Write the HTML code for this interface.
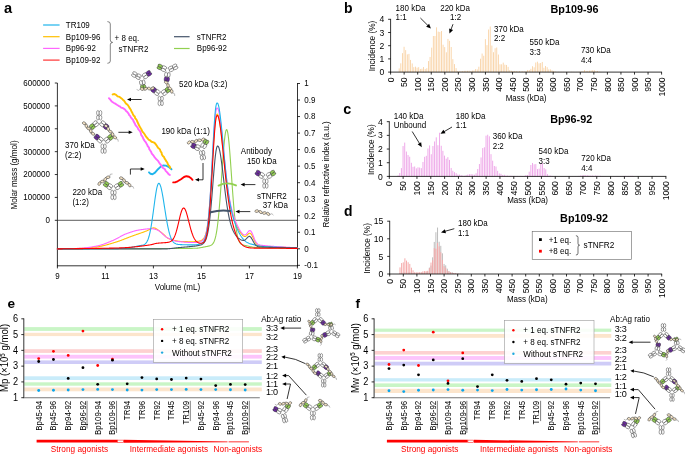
<!DOCTYPE html><html><head><meta charset="utf-8"><style>html,body{margin:0;padding:0;background:#fff;width:685px;height:455px;overflow:hidden;position:relative}</style></head><body><svg width="685" height="455" viewBox="0 0 685 455" style="will-change:transform;position:absolute;left:0;top:0;font-family:'Liberation Sans',sans-serif">
<rect width="685" height="455" fill="#fff"/>
<text x="4" y="12.5" font-size="14.6" font-weight="bold">a</text>
<line x1="43.1" y1="25" x2="59.6" y2="25" stroke="#1FB5EC" stroke-width="1.2"/>
<text font-size="8.7" transform="translate(65.8 27.9) scale(0.92 1)">TR109</text>
<line x1="43.1" y1="36.7" x2="59.6" y2="36.7" stroke="#FFC000" stroke-width="1.2"/>
<text font-size="8.7" transform="translate(65.8 39.6) scale(0.92 1)">Bp109-96</text>
<line x1="43.1" y1="48.4" x2="59.6" y2="48.4" stroke="#FF66FF" stroke-width="1.2"/>
<text font-size="8.7" transform="translate(65.8 51.3) scale(0.92 1)">Bp96-92</text>
<line x1="43.1" y1="60.1" x2="59.6" y2="60.1" stroke="#FF3333" stroke-width="1.2"/>
<text font-size="8.7" transform="translate(65.8 63) scale(0.92 1)">Bp109-92</text>
<path d="M107.4,21.6 Q110.3,21.6 110.3,24 L110.3,40 Q110.3,42.4 112.6,42.4 Q110.3,42.4 110.3,44.8 L110.3,61 Q110.3,63.3 107.4,63.3" fill="none" stroke="#333" stroke-width="0.6"/>
<text font-size="8.7" transform="translate(114.6 40.8) scale(0.92 1)">+ 8 eq.</text>
<text font-size="8.7" transform="translate(118.6 52) scale(0.92 1)">sTNFR2</text>
<line x1="174" y1="36.7" x2="189.6" y2="36.7" stroke="#44546A" stroke-width="1.2"/>
<line x1="174" y1="48.5" x2="189.6" y2="48.5" stroke="#92D050" stroke-width="1.2"/>
<text font-size="8.7" transform="translate(196.8 39.6) scale(0.92 1)">sTNFR2</text>
<text font-size="8.7" transform="translate(196.8 51.4) scale(0.92 1)">Bp96-92</text>
<line x1="57.4" y1="83" x2="57.4" y2="266.2" stroke="#000" stroke-width="0.8"/>
<line x1="297.5" y1="83" x2="297.5" y2="266.2" stroke="#000" stroke-width="0.8"/>
<line x1="57" y1="265.8" x2="297.9" y2="265.8" stroke="#000" stroke-width="0.8"/>
<line x1="54.8" y1="220.3" x2="57.4" y2="220.3" stroke="#000" stroke-width="0.8"/>
<text font-size="8.7" transform="translate(49.9 223.2) scale(0.92 1)" text-anchor="end">0</text>
<line x1="54.8" y1="197.42" x2="57.4" y2="197.42" stroke="#000" stroke-width="0.8"/>
<text font-size="8.7" transform="translate(49.9 200.32) scale(0.92 1)" text-anchor="end">100000</text>
<line x1="54.8" y1="174.54" x2="57.4" y2="174.54" stroke="#000" stroke-width="0.8"/>
<text font-size="8.7" transform="translate(49.9 177.44) scale(0.92 1)" text-anchor="end">200000</text>
<line x1="54.8" y1="151.66" x2="57.4" y2="151.66" stroke="#000" stroke-width="0.8"/>
<text font-size="8.7" transform="translate(49.9 154.56) scale(0.92 1)" text-anchor="end">300000</text>
<line x1="54.8" y1="128.78" x2="57.4" y2="128.78" stroke="#000" stroke-width="0.8"/>
<text font-size="8.7" transform="translate(49.9 131.68) scale(0.92 1)" text-anchor="end">400000</text>
<line x1="54.8" y1="105.9" x2="57.4" y2="105.9" stroke="#000" stroke-width="0.8"/>
<text font-size="8.7" transform="translate(49.9 108.8) scale(0.92 1)" text-anchor="end">500000</text>
<line x1="54.8" y1="83.02" x2="57.4" y2="83.02" stroke="#000" stroke-width="0.8"/>
<text font-size="8.7" transform="translate(49.9 85.92) scale(0.92 1)" text-anchor="end">600000</text>
<line x1="57.4" y1="220.3" x2="297.5" y2="220.3" stroke="#333" stroke-width="0.8"/>
<line x1="297.5" y1="265.33" x2="300" y2="265.33" stroke="#000" stroke-width="0.8"/>
<text font-size="8.7" transform="translate(304.3 268.23) scale(0.92 1)">-0.1</text>
<line x1="297.5" y1="248.8" x2="300" y2="248.8" stroke="#000" stroke-width="0.8"/>
<text font-size="8.7" transform="translate(304.3 251.7) scale(0.92 1)">0</text>
<line x1="297.5" y1="232.27" x2="300" y2="232.27" stroke="#000" stroke-width="0.8"/>
<text font-size="8.7" transform="translate(304.3 235.17) scale(0.92 1)">0.1</text>
<line x1="297.5" y1="215.74" x2="300" y2="215.74" stroke="#000" stroke-width="0.8"/>
<text font-size="8.7" transform="translate(304.3 218.64) scale(0.92 1)">0.2</text>
<line x1="297.5" y1="199.21" x2="300" y2="199.21" stroke="#000" stroke-width="0.8"/>
<text font-size="8.7" transform="translate(304.3 202.11) scale(0.92 1)">0.3</text>
<line x1="297.5" y1="182.68" x2="300" y2="182.68" stroke="#000" stroke-width="0.8"/>
<text font-size="8.7" transform="translate(304.3 185.58) scale(0.92 1)">0.4</text>
<line x1="297.5" y1="166.15" x2="300" y2="166.15" stroke="#000" stroke-width="0.8"/>
<text font-size="8.7" transform="translate(304.3 169.05) scale(0.92 1)">0.5</text>
<line x1="297.5" y1="149.62" x2="300" y2="149.62" stroke="#000" stroke-width="0.8"/>
<text font-size="8.7" transform="translate(304.3 152.52) scale(0.92 1)">0.6</text>
<line x1="297.5" y1="133.09" x2="300" y2="133.09" stroke="#000" stroke-width="0.8"/>
<text font-size="8.7" transform="translate(304.3 135.99) scale(0.92 1)">0.7</text>
<line x1="297.5" y1="116.56" x2="300" y2="116.56" stroke="#000" stroke-width="0.8"/>
<text font-size="8.7" transform="translate(304.3 119.46) scale(0.92 1)">0.8</text>
<line x1="297.5" y1="100.03" x2="300" y2="100.03" stroke="#000" stroke-width="0.8"/>
<text font-size="8.7" transform="translate(304.3 102.93) scale(0.92 1)">0.9</text>
<line x1="297.5" y1="83.5" x2="300" y2="83.5" stroke="#000" stroke-width="0.8"/>
<text font-size="8.7" transform="translate(304.3 86.4) scale(0.92 1)">1</text>
<line x1="57.4" y1="265.8" x2="57.4" y2="268.4" stroke="#000" stroke-width="0.8"/>
<text font-size="8.7" transform="translate(57.4 278.8) scale(0.92 1)" text-anchor="middle">9</text>
<line x1="105.4" y1="265.8" x2="105.4" y2="268.4" stroke="#000" stroke-width="0.8"/>
<text font-size="8.7" transform="translate(105.4 278.8) scale(0.92 1)" text-anchor="middle">11</text>
<line x1="153.4" y1="265.8" x2="153.4" y2="268.4" stroke="#000" stroke-width="0.8"/>
<text font-size="8.7" transform="translate(153.4 278.8) scale(0.92 1)" text-anchor="middle">13</text>
<line x1="201.4" y1="265.8" x2="201.4" y2="268.4" stroke="#000" stroke-width="0.8"/>
<text font-size="8.7" transform="translate(201.4 278.8) scale(0.92 1)" text-anchor="middle">15</text>
<line x1="249.4" y1="265.8" x2="249.4" y2="268.4" stroke="#000" stroke-width="0.8"/>
<text font-size="8.7" transform="translate(249.4 278.8) scale(0.92 1)" text-anchor="middle">17</text>
<line x1="297.4" y1="265.8" x2="297.4" y2="268.4" stroke="#000" stroke-width="0.8"/>
<text font-size="8.7" transform="translate(297.4 278.8) scale(0.92 1)" text-anchor="middle">19</text>
<text font-size="8.7" transform="translate(177.4 290.1) scale(0.92 1)" text-anchor="middle">Volume (mL)</text>
<text font-size="8.8" transform="translate(16.8 175) rotate(-90) scale(0.92 1)" text-anchor="middle">Molar mass (g/mol)</text>
<text font-size="8.7" transform="translate(329 174.5) rotate(-90) scale(0.92 1)" text-anchor="middle">Relative refractive index (a.u.)</text>
<polyline points="57.4,248.9 57.9,248.9 58.4,248.9 58.9,248.89 59.4,248.89 59.9,248.89 60.4,248.89 60.9,248.89 61.4,248.88 61.9,248.88 62.4,248.88 62.9,248.88 63.4,248.88 63.9,248.87 64.4,248.87 64.9,248.87 65.4,248.87 65.9,248.87 66.4,248.86 66.9,248.86 67.4,248.86 67.9,248.86 68.4,248.86 68.9,248.86 69.4,248.85 69.9,248.85 70.4,248.85 70.9,248.85 71.4,248.85 71.9,248.85 72.4,248.84 72.9,248.84 73.4,248.84 73.9,248.84 74.4,248.84 74.9,248.84 75.4,248.84 75.9,248.83 76.4,248.83 76.9,248.83 77.4,248.83 77.9,248.83 78.4,248.83 78.9,248.83 79.4,248.82 79.9,248.82 80.4,248.82 80.9,248.82 81.4,248.82 81.9,248.82 82.4,248.82 82.9,248.82 83.4,248.81 83.9,248.81 84.4,248.81 84.9,248.81 85.4,248.81 85.9,248.81 86.4,248.81 86.9,248.81 87.4,248.8 87.9,248.8 88.4,248.8 88.9,248.8 89.4,248.8 89.9,248.8 90.4,248.8 90.9,248.8 91.4,248.79 91.9,248.79 92.4,248.79 92.9,248.79 93.4,248.79 93.9,248.79 94.4,248.79 94.9,248.79 95.4,248.79 95.9,248.79 96.4,248.78 96.9,248.78 97.4,248.78 97.9,248.78 98.4,248.78 98.9,248.78 99.4,248.78 99.9,248.78 100.4,248.78 100.9,248.77 101.4,248.77 101.9,248.77 102.4,248.77 102.9,248.77 103.4,248.77 103.9,248.77 104.4,248.77 104.9,248.77 105.4,248.77 105.9,248.76 106.4,248.76 106.9,248.76 107.4,248.76 107.9,248.76 108.4,248.76 108.9,248.76 109.4,248.76 109.9,248.76 110.4,248.75 110.9,248.75 111.4,248.75 111.9,248.75 112.4,248.75 112.9,248.75 113.4,248.75 113.9,248.75 114.4,248.75 114.9,248.74 115.4,248.74 115.9,248.74 116.4,248.74 116.9,248.74 117.4,248.74 117.9,248.74 118.4,248.74 118.9,248.74 119.4,248.73 119.9,248.73 120.4,248.73 120.9,248.73 121.4,248.73 121.9,248.73 122.4,248.73 122.9,248.73 123.4,248.72 123.9,248.72 124.4,248.72 124.9,248.72 125.4,248.72 125.9,248.72 126.4,248.72 126.9,248.72 127.4,248.71 127.9,248.71 128.4,248.71 128.9,248.71 129.4,248.71 129.9,248.71 130.4,248.71 130.9,248.7 131.4,248.7 131.9,248.7 132.4,248.7 132.9,248.7 133.4,248.7 133.9,248.7 134.4,248.69 134.9,248.69 135.4,248.69 135.9,248.69 136.4,248.69 136.9,248.69 137.4,248.68 137.9,248.68 138.4,248.68 138.9,248.68 139.4,248.68 139.9,248.68 140.4,248.67 140.9,248.67 141.4,248.67 141.9,248.67 142.4,248.67 142.9,248.66 143.4,248.66 143.9,248.66 144.4,248.66 144.9,248.66 145.4,248.65 145.9,248.65 146.4,248.65 146.9,248.65 147.4,248.65 147.9,248.64 148.4,248.64 148.9,248.64 149.4,248.64 149.9,248.64 150.4,248.63 150.9,248.63 151.4,248.63 151.9,248.63 152.4,248.62 152.9,248.62 153.4,248.62 153.9,248.62 154.4,248.61 154.9,248.61 155.4,248.61 155.9,248.61 156.4,248.6 156.9,248.6 157.4,248.6 157.9,248.6 158.4,248.59 158.9,248.59 159.4,248.59 159.9,248.59 160.4,248.58 160.9,248.58 161.4,248.58 161.9,248.57 162.4,248.57 162.9,248.57 163.4,248.57 163.9,248.56 164.4,248.56 164.9,248.56 165.4,248.55 165.9,248.55 166.4,248.55 166.9,248.54 167.4,248.54 167.9,248.54 168.4,248.53 168.9,248.53 169.4,248.53 169.9,248.52 170.4,248.52 170.9,248.52 171.4,248.51 171.9,248.51 172.4,248.51 172.9,248.5 173.4,248.5 173.9,248.5 174.4,248.49 174.9,248.49 175.4,248.48 175.9,248.48 176.4,248.48 176.9,248.47 177.4,248.47 177.9,248.46 178.4,248.46 178.9,248.46 179.4,248.45 179.9,248.45 180.4,248.44 180.9,248.44 181.4,248.43 181.9,248.43 182.4,248.43 182.9,248.42 183.4,248.42 183.9,248.41 184.4,248.41 184.9,248.4 185.4,248.4 185.9,248.39 186.4,248.39 186.9,248.38 187.4,248.38 187.9,248.37 188.4,248.37 188.9,248.36 189.4,248.36 189.9,248.35 190.4,248.35 190.9,248.34 191.4,248.34 191.9,248.33 192.4,248.33 192.9,248.32 193.4,248.32 193.9,248.31 194.4,248.31 194.9,248.3 195.4,248.29 195.9,248.27 196.4,248.24 196.9,248.21 197.4,248.16 197.9,248.1 198.4,248.04 198.9,247.97 199.4,247.9 199.9,247.82 200.4,247.74 200.9,247.65 201.4,247.55 201.9,247.46 202.4,247.36 202.9,247.26 203.4,247.16 203.9,247.06 204.4,246.96 204.9,246.86 205.4,246.76 205.9,246.65 206.4,246.55 206.9,246.45 207.4,246.35 207.9,246.24 208.4,246.13 208.9,246.01 209.4,245.88 209.9,245.72 210.4,245.54 210.9,245.32 211.4,245.04 211.9,244.68 212.4,244.23 212.9,243.65 213.4,242.91 213.9,241.97 214.4,240.8 214.9,239.34 215.4,237.56 215.9,235.4 216.4,232.83 216.9,229.8 217.4,226.27 217.9,222.21 218.4,217.61 218.9,212.47 219.4,206.81 219.9,200.66 220.4,194.09 220.9,187.18 221.4,180.05 221.9,172.82 222.4,165.65 222.9,158.7 223.4,152.13 223.9,146.12 224.4,140.84 224.9,136.43 225.4,133.03 225.9,130.75 226.4,129.64 226.9,129.76 227.4,131.1 227.9,133.62 228.4,137.23 228.9,141.84 229.4,147.31 229.9,153.46 230.4,160.14 230.9,167.18 231.4,174.39 231.9,181.62 232.4,188.72 232.9,195.56 233.4,202.04 233.9,208.08 234.4,213.61 234.9,218.61 235.4,223.07 235.9,226.98 236.4,230.36 236.9,233.26 237.4,235.7 237.9,237.73 238.4,239.4 238.9,240.76 239.4,241.84 239.9,242.7 240.4,243.38 240.9,243.9 241.4,244.3 241.9,244.6 242.4,244.82 242.9,244.99 243.4,245.12 243.9,245.23 244.4,245.33 244.9,245.43 245.4,245.53 245.9,245.63 246.4,245.73 246.9,245.84 247.4,245.95 247.9,246.06 248.4,246.18 248.9,246.3 249.4,246.42 249.9,246.54 250.4,246.66 250.9,246.77 251.4,246.88 251.9,246.99 252.4,247.08 252.9,247.17 253.4,247.24 253.9,247.31 254.4,247.36 254.9,247.39 255.4,247.42 255.9,247.44 256.4,247.47 256.9,247.49 257.4,247.51 257.9,247.53 258.4,247.55 258.9,247.57 259.4,247.59 259.9,247.61 260.4,247.63 260.9,247.65 261.4,247.67 261.9,247.68 262.4,247.7 262.9,247.72 263.4,247.73 263.9,247.75 264.4,247.76 264.9,247.78 265.4,247.79 265.9,247.81 266.4,247.82 266.9,247.83 267.4,247.85 267.9,247.86 268.4,247.87 268.9,247.88 269.4,247.9 269.9,247.91 270.4,247.92 270.9,247.93 271.4,247.94 271.9,247.95 272.4,247.96 272.9,247.97 273.4,247.98 273.9,247.99 274.4,248 274.9,248.01 275.4,248.02 275.9,248.03 276.4,248.04 276.9,248.04 277.4,248.05 277.9,248.06 278.4,248.07 278.9,248.08 279.4,248.09 279.9,248.09 280.4,248.1 280.9,248.11 281.4,248.12 281.9,248.13 282.4,248.13 282.9,248.14 283.4,248.15 283.9,248.16 284.4,248.17 284.9,248.17 285.4,248.18 285.9,248.19 286.4,248.2 286.9,248.2 287.4,248.21 287.9,248.22 288.4,248.23 288.9,248.24 289.4,248.25 289.9,248.26 290.4,248.26 290.9,248.27 291.4,248.28 291.9,248.29 292.4,248.3 292.9,248.31 293.4,248.32 293.9,248.33 294.4,248.34 294.9,248.35 295.4,248.36 295.9,248.37 296.4,248.39 296.9,248.4 297.4,248.4" fill="none" stroke="#92D050" stroke-width="1.1" stroke-linejoin="round" stroke-linecap="round"/>
<polyline points="57.4,248.9 57.9,248.89 58.4,248.88 58.9,248.87 59.4,248.86 59.9,248.85 60.4,248.84 60.9,248.83 61.4,248.82 61.9,248.81 62.4,248.8 62.9,248.79 63.4,248.78 63.9,248.78 64.4,248.77 64.9,248.76 65.4,248.75 65.9,248.74 66.4,248.73 66.9,248.72 67.4,248.71 67.9,248.71 68.4,248.7 68.9,248.69 69.4,248.68 69.9,248.67 70.4,248.66 70.9,248.65 71.4,248.64 71.9,248.63 72.4,248.62 72.9,248.61 73.4,248.59 73.9,248.58 74.4,248.57 74.9,248.56 75.4,248.54 75.9,248.53 76.4,248.52 76.9,248.5 77.4,248.49 77.9,248.47 78.4,248.46 78.9,248.44 79.4,248.42 79.9,248.4 80.4,248.38 80.9,248.36 81.4,248.34 81.9,248.32 82.4,248.29 82.9,248.26 83.4,248.23 83.9,248.2 84.4,248.17 84.9,248.13 85.4,248.1 85.9,248.06 86.4,248.02 86.9,247.98 87.4,247.94 87.9,247.89 88.4,247.85 88.9,247.8 89.4,247.75 89.9,247.7 90.4,247.65 90.9,247.6 91.4,247.54 91.9,247.49 92.4,247.43 92.9,247.38 93.4,247.32 93.9,247.26 94.4,247.2 94.9,247.14 95.4,247.07 95.9,247.01 96.4,246.95 96.9,246.88 97.4,246.81 97.9,246.74 98.4,246.67 98.9,246.59 99.4,246.51 99.9,246.42 100.4,246.33 100.9,246.23 101.4,246.13 101.9,246.02 102.4,245.91 102.9,245.8 103.4,245.68 103.9,245.56 104.4,245.44 104.9,245.31 105.4,245.19 105.9,245.05 106.4,244.92 106.9,244.78 107.4,244.65 107.9,244.51 108.4,244.36 108.9,244.22 109.4,244.07 109.9,243.93 110.4,243.78 110.9,243.63 111.4,243.48 111.9,243.33 112.4,243.18 112.9,243.03 113.4,242.88 113.9,242.73 114.4,242.58 114.9,242.43 115.4,242.28 115.9,242.12 116.4,241.97 116.9,241.8 117.4,241.64 117.9,241.47 118.4,241.3 118.9,241.12 119.4,240.94 119.9,240.76 120.4,240.58 120.9,240.4 121.4,240.21 121.9,240.02 122.4,239.83 122.9,239.64 123.4,239.45 123.9,239.25 124.4,239.06 124.9,238.86 125.4,238.67 125.9,238.47 126.4,238.27 126.9,238.08 127.4,237.88 127.9,237.68 128.4,237.49 128.9,237.29 129.4,237.1 129.9,236.91 130.4,236.72 130.9,236.53 131.4,236.34 131.9,236.16 132.4,235.97 132.9,235.79 133.4,235.61 133.9,235.43 134.4,235.26 134.9,235.08 135.4,234.91 135.9,234.73 136.4,234.56 136.9,234.39 137.4,234.21 137.9,234.04 138.4,233.87 138.9,233.7 139.4,233.52 139.9,233.35 140.4,233.18 140.9,233 141.4,232.83 141.9,232.65 142.4,232.47 142.9,232.29 143.4,232.11 143.9,231.93 144.4,231.74 144.9,231.55 145.4,231.36 145.9,231.17 146.4,230.98 146.9,230.78 147.4,230.54 147.9,230.29 148.4,230.02 148.9,229.73 149.4,229.45 149.9,229.17 150.4,228.9 150.9,228.64 151.4,228.42 151.9,228.22 152.4,228.07 152.9,227.96 153.4,227.91 153.9,227.91 154.4,227.99 154.9,228.13 155.4,228.33 155.9,228.57 156.4,228.86 156.9,229.18 157.4,229.53 157.9,229.9 158.4,230.28 158.9,230.66 159.4,231.04 159.9,231.41 160.4,231.77 160.9,232.11 161.4,232.48 161.9,232.89 162.4,233.32 162.9,233.78 163.4,234.25 163.9,234.73 164.4,235.22 164.9,235.7 165.4,236.17 165.9,236.63 166.4,237.07 166.9,237.48 167.4,237.86 167.9,238.2 168.4,238.5 168.9,238.74 169.4,238.93 169.9,239.1 170.4,239.27 170.9,239.43 171.4,239.59 171.9,239.74 172.4,239.89 172.9,240.03 173.4,240.17 173.9,240.3 174.4,240.43 174.9,240.55 175.4,240.66 175.9,240.77 176.4,240.87 176.9,240.97 177.4,241.06 177.9,241.14 178.4,241.21 178.9,241.28 179.4,241.34 179.9,241.39 180.4,241.43 180.9,241.46 181.4,241.49 181.9,241.51 182.4,241.53 182.9,241.55 183.4,241.56 183.9,241.58 184.4,241.59 184.9,241.61 185.4,241.62 185.9,241.64 186.4,241.65 186.9,241.66 187.4,241.67 187.9,241.68 188.4,241.69 188.9,241.7 189.4,241.71 189.9,241.72 190.4,241.72 190.9,241.72 191.4,241.72 191.9,241.72 192.4,241.71 192.9,241.71 193.4,241.7 193.9,241.68 194.4,241.66 194.9,241.64 195.4,241.61 195.9,241.57 196.4,241.52 196.9,241.47 197.4,241.41 197.9,241.34 198.4,241.25 198.9,241.15 199.4,241.03 199.9,240.9 200.4,240.73 200.9,240.54 201.4,240.31 201.9,240.02 202.4,239.68 202.9,239.25 203.4,238.73 203.9,238.07 204.4,237.25 204.9,236.23 205.4,234.95 205.9,233.36 206.4,231.41 206.9,229.02 207.4,226.13 207.9,222.66 208.4,218.58 208.9,213.82 209.4,208.35 209.9,202.19 210.4,195.35 210.9,187.89 211.4,179.93 211.9,171.59 212.4,163.06 212.9,154.55 213.4,146.29 213.9,138.53 214.4,131.52 214.9,125.49 215.4,120.63 215.9,117.13 216.4,115.07 216.9,114.26 217.4,114.16 217.9,114.76 218.4,116.01 218.9,117.9 219.4,120.37 219.9,123.37 220.4,126.83 220.9,130.7 221.4,134.89 221.9,139.35 222.4,143.98 222.9,148.74 223.4,153.56 223.9,158.36 224.4,163.11 224.9,167.76 225.4,172.27 225.9,176.6 226.4,180.73 226.9,184.65 227.4,188.35 227.9,191.82 228.4,195.06 228.9,198.08 229.4,200.89 229.9,203.5 230.4,205.92 230.9,208.16 231.4,210.25 231.9,212.19 232.4,214 232.9,215.69 233.4,217.28 233.9,218.77 234.4,220.18 234.9,221.51 235.4,222.77 235.9,223.97 236.4,225.11 236.9,226.19 237.4,227.23 237.9,228.21 238.4,229.14 238.9,230.03 239.4,230.87 239.9,231.66 240.4,232.41 240.9,233.12 241.4,233.8 241.9,234.42 242.4,234.99 242.9,235.49 243.4,235.9 243.9,236.21 244.4,236.4 244.9,236.46 245.4,236.39 245.9,236.17 246.4,235.83 246.9,235.38 247.4,234.87 247.9,234.34 248.4,233.84 248.9,233.44 249.4,233.2 249.9,233.17 250.4,233.36 250.9,233.79 251.4,234.42 251.9,235.24 252.4,236.2 252.9,237.26 253.4,238.37 253.9,239.48 254.4,240.55 254.9,241.55 255.4,242.45 255.9,243.23 256.4,243.89 256.9,244.44 257.4,244.87 257.9,245.2 258.4,245.46 258.9,245.65 259.4,245.8 259.9,245.92 260.4,246.01 260.9,246.09 261.4,246.15 261.9,246.21 262.4,246.25 262.9,246.3 263.4,246.34 263.9,246.38 264.4,246.42 264.9,246.45 265.4,246.49 265.9,246.52 266.4,246.55 266.9,246.58 267.4,246.61 267.9,246.65 268.4,246.67 268.9,246.7 269.4,246.73 269.9,246.76 270.4,246.79 270.9,246.81 271.4,246.84 271.9,246.86 272.4,246.89 272.9,246.91 273.4,246.93 273.9,246.96 274.4,246.98 274.9,247 275.4,247.02 275.9,247.04 276.4,247.07 276.9,247.09 277.4,247.11 277.9,247.13 278.4,247.15 278.9,247.17 279.4,247.19 279.9,247.21 280.4,247.22 280.9,247.24 281.4,247.26 281.9,247.28 282.4,247.3 282.9,247.32 283.4,247.34 283.9,247.35 284.4,247.37 284.9,247.39 285.4,247.41 285.9,247.43 286.4,247.45 286.9,247.47 287.4,247.48 287.9,247.5 288.4,247.52 288.9,247.54 289.4,247.56 289.9,247.58 290.4,247.6 290.9,247.62 291.4,247.64 291.9,247.66 292.4,247.68 292.9,247.71 293.4,247.73 293.9,247.75 294.4,247.77 294.9,247.8 295.4,247.82 295.9,247.84 296.4,247.87 296.9,247.89 297.4,247.9" fill="none" stroke="#FFC000" stroke-width="1.1" stroke-linejoin="round" stroke-linecap="round"/>
<polyline points="57.4,248.9 57.9,248.89 58.4,248.87 58.9,248.86 59.4,248.85 59.9,248.84 60.4,248.83 60.9,248.82 61.4,248.81 61.9,248.79 62.4,248.78 62.9,248.77 63.4,248.76 63.9,248.75 64.4,248.74 64.9,248.73 65.4,248.72 65.9,248.71 66.4,248.7 66.9,248.69 67.4,248.68 67.9,248.67 68.4,248.66 68.9,248.65 69.4,248.64 69.9,248.63 70.4,248.62 70.9,248.6 71.4,248.59 71.9,248.58 72.4,248.57 72.9,248.55 73.4,248.54 73.9,248.52 74.4,248.51 74.9,248.49 75.4,248.48 75.9,248.46 76.4,248.44 76.9,248.43 77.4,248.41 77.9,248.39 78.4,248.37 78.9,248.35 79.4,248.33 79.9,248.3 80.4,248.28 80.9,248.25 81.4,248.22 81.9,248.19 82.4,248.15 82.9,248.11 83.4,248.07 83.9,248.02 84.4,247.97 84.9,247.92 85.4,247.87 85.9,247.81 86.4,247.75 86.9,247.69 87.4,247.62 87.9,247.56 88.4,247.49 88.9,247.41 89.4,247.34 89.9,247.27 90.4,247.19 90.9,247.11 91.4,247.03 91.9,246.94 92.4,246.86 92.9,246.77 93.4,246.68 93.9,246.59 94.4,246.5 94.9,246.4 95.4,246.31 95.9,246.21 96.4,246.12 96.9,246.02 97.4,245.92 97.9,245.82 98.4,245.71 98.9,245.59 99.4,245.47 99.9,245.33 100.4,245.2 100.9,245.05 101.4,244.9 101.9,244.74 102.4,244.58 102.9,244.41 103.4,244.24 103.9,244.07 104.4,243.88 104.9,243.7 105.4,243.51 105.9,243.32 106.4,243.12 106.9,242.92 107.4,242.72 107.9,242.52 108.4,242.31 108.9,242.11 109.4,241.9 109.9,241.69 110.4,241.48 110.9,241.27 111.4,241.06 111.9,240.85 112.4,240.64 112.9,240.43 113.4,240.22 113.9,240 114.4,239.77 114.9,239.53 115.4,239.28 115.9,239.03 116.4,238.77 116.9,238.51 117.4,238.24 117.9,237.96 118.4,237.69 118.9,237.41 119.4,237.13 119.9,236.86 120.4,236.58 120.9,236.31 121.4,236.04 121.9,235.77 122.4,235.51 122.9,235.25 123.4,235 123.9,234.76 124.4,234.53 124.9,234.3 125.4,234.09 125.9,233.89 126.4,233.7 126.9,233.52 127.4,233.34 127.9,233.16 128.4,232.98 128.9,232.8 129.4,232.62 129.9,232.45 130.4,232.28 130.9,232.11 131.4,231.94 131.9,231.78 132.4,231.62 132.9,231.47 133.4,231.32 133.9,231.17 134.4,231.03 134.9,230.89 135.4,230.76 135.9,230.63 136.4,230.51 136.9,230.4 137.4,230.29 137.9,230.19 138.4,230.1 138.9,230.01 139.4,229.93 139.9,229.86 140.4,229.78 140.9,229.71 141.4,229.64 141.9,229.57 142.4,229.5 142.9,229.43 143.4,229.36 143.9,229.3 144.4,229.23 144.9,229.17 145.4,229.11 145.9,229.06 146.4,229 146.9,228.95 147.4,228.91 147.9,228.87 148.4,228.83 148.9,228.79 149.4,228.77 149.9,228.74 150.4,228.72 150.9,228.71 151.4,228.7 151.9,228.7 152.4,228.72 152.9,228.77 153.4,228.85 153.9,228.95 154.4,229.07 154.9,229.2 155.4,229.35 155.9,229.51 156.4,229.67 156.9,229.83 157.4,230.01 157.9,230.23 158.4,230.5 158.9,230.81 159.4,231.16 159.9,231.54 160.4,231.95 160.9,232.38 161.4,232.83 161.9,233.29 162.4,233.76 162.9,234.23 163.4,234.7 163.9,235.16 164.4,235.62 164.9,236.05 165.4,236.46 165.9,236.85 166.4,237.21 166.9,237.52 167.4,237.8 167.9,238.04 168.4,238.28 168.9,238.51 169.4,238.74 169.9,238.96 170.4,239.18 170.9,239.4 171.4,239.61 171.9,239.81 172.4,240.01 172.9,240.2 173.4,240.38 173.9,240.55 174.4,240.71 174.9,240.86 175.4,240.99 175.9,241.12 176.4,241.23 176.9,241.33 177.4,241.41 177.9,241.48 178.4,241.53 178.9,241.58 179.4,241.64 179.9,241.69 180.4,241.74 180.9,241.78 181.4,241.83 181.9,241.88 182.4,241.92 182.9,241.97 183.4,242.01 183.9,242.05 184.4,242.1 184.9,242.14 185.4,242.18 185.9,242.21 186.4,242.25 186.9,242.28 187.4,242.32 187.9,242.35 188.4,242.38 188.9,242.41 189.4,242.43 189.9,242.46 190.4,242.48 190.9,242.5 191.4,242.52 191.9,242.53 192.4,242.54 192.9,242.55 193.4,242.55 193.9,242.55 194.4,242.54 194.9,242.53 195.4,242.5 195.9,242.48 196.4,242.44 196.9,242.39 197.4,242.34 197.9,242.27 198.4,242.19 198.9,242.09 199.4,241.97 199.9,241.83 200.4,241.66 200.9,241.46 201.4,241.22 201.9,240.93 202.4,240.56 202.9,240.12 203.4,239.56 203.9,238.87 204.4,238.01 204.9,236.92 205.4,235.57 205.9,233.89 206.4,231.83 206.9,229.3 207.4,226.24 207.9,222.59 208.4,218.28 208.9,213.25 209.4,207.49 209.9,200.99 210.4,193.77 210.9,185.91 211.4,177.51 211.9,168.72 212.4,159.73 212.9,150.75 213.4,142.04 213.9,133.86 214.4,126.45 214.9,120.08 215.4,114.94 215.9,111.22 216.4,109.02 216.9,108.13 217.4,108 217.9,108.58 218.4,109.86 218.9,111.81 219.4,114.36 219.9,117.48 220.4,121.08 220.9,125.1 221.4,129.47 221.9,134.11 222.4,138.95 222.9,143.91 223.4,148.93 223.9,153.94 224.4,158.9 224.9,163.74 225.4,168.44 225.9,172.95 226.4,177.26 226.9,181.34 227.4,185.19 227.9,188.8 228.4,192.18 228.9,195.32 229.4,198.24 229.9,200.95 230.4,203.46 230.9,205.79 231.4,207.95 231.9,209.96 232.4,211.84 232.9,213.59 233.4,215.24 233.9,216.78 234.4,218.24 234.9,219.62 235.4,220.93 235.9,222.17 236.4,223.36 236.9,224.48 237.4,225.56 237.9,226.58 238.4,227.55 238.9,228.48 239.4,229.36 239.9,230.19 240.4,230.97 240.9,231.72 241.4,232.42 241.9,233.06 242.4,233.64 242.9,234.14 243.4,234.54 243.9,234.82 244.4,234.97 244.9,234.97 245.4,234.82 245.9,234.5 246.4,234.04 246.9,233.46 247.4,232.8 247.9,232.12 248.4,231.49 248.9,230.98 249.4,230.64 249.9,230.55 250.4,230.73 250.9,231.18 251.4,231.87 251.9,232.77 252.4,233.84 252.9,235.04 253.4,236.29 253.9,237.55 254.4,238.77 254.9,239.91 255.4,240.93 255.9,241.82 256.4,242.58 256.9,243.21 257.4,243.71 257.9,244.1 258.4,244.4 258.9,244.63 259.4,244.82 259.9,244.96 260.4,245.08 260.9,245.18 261.4,245.26 261.9,245.33 262.4,245.4 262.9,245.46 263.4,245.51 263.9,245.57 264.4,245.62 264.9,245.67 265.4,245.72 265.9,245.77 266.4,245.82 266.9,245.86 267.4,245.91 267.9,245.95 268.4,245.99 268.9,246.04 269.4,246.08 269.9,246.12 270.4,246.16 270.9,246.2 271.4,246.23 271.9,246.27 272.4,246.31 272.9,246.35 273.4,246.38 273.9,246.42 274.4,246.45 274.9,246.49 275.4,246.52 275.9,246.55 276.4,246.59 276.9,246.62 277.4,246.65 277.9,246.68 278.4,246.71 278.9,246.74 279.4,246.78 279.9,246.81 280.4,246.84 280.9,246.87 281.4,246.9 281.9,246.93 282.4,246.96 282.9,246.99 283.4,247.02 283.9,247.05 284.4,247.08 284.9,247.11 285.4,247.14 285.9,247.16 286.4,247.19 286.9,247.22 287.4,247.26 287.9,247.29 288.4,247.32 288.9,247.35 289.4,247.38 289.9,247.41 290.4,247.44 290.9,247.47 291.4,247.51 291.9,247.54 292.4,247.57 292.9,247.6 293.4,247.64 293.9,247.67 294.4,247.71 294.9,247.74 295.4,247.78 295.9,247.82 296.4,247.85 296.9,247.89 297.4,247.9" fill="none" stroke="#FF66FF" stroke-width="1.1" stroke-linejoin="round" stroke-linecap="round"/>
<polyline points="57.4,248.9 57.9,248.9 58.4,248.9 58.9,248.89 59.4,248.89 59.9,248.89 60.4,248.89 60.9,248.89 61.4,248.89 61.9,248.89 62.4,248.88 62.9,248.88 63.4,248.88 63.9,248.88 64.4,248.88 64.9,248.88 65.4,248.88 65.9,248.88 66.4,248.87 66.9,248.87 67.4,248.87 67.9,248.87 68.4,248.87 68.9,248.87 69.4,248.87 69.9,248.87 70.4,248.87 70.9,248.86 71.4,248.86 71.9,248.86 72.4,248.86 72.9,248.86 73.4,248.86 73.9,248.86 74.4,248.86 74.9,248.86 75.4,248.86 75.9,248.85 76.4,248.85 76.9,248.85 77.4,248.85 77.9,248.85 78.4,248.85 78.9,248.85 79.4,248.85 79.9,248.85 80.4,248.85 80.9,248.84 81.4,248.84 81.9,248.84 82.4,248.84 82.9,248.84 83.4,248.84 83.9,248.84 84.4,248.84 84.9,248.84 85.4,248.84 85.9,248.83 86.4,248.83 86.9,248.83 87.4,248.83 87.9,248.83 88.4,248.83 88.9,248.83 89.4,248.83 89.9,248.82 90.4,248.82 90.9,248.82 91.4,248.82 91.9,248.82 92.4,248.82 92.9,248.82 93.4,248.81 93.9,248.81 94.4,248.81 94.9,248.81 95.4,248.81 95.9,248.81 96.4,248.8 96.9,248.8 97.4,248.8 97.9,248.8 98.4,248.8 98.9,248.79 99.4,248.79 99.9,248.79 100.4,248.79 100.9,248.79 101.4,248.78 101.9,248.78 102.4,248.78 102.9,248.78 103.4,248.77 103.9,248.77 104.4,248.77 104.9,248.77 105.4,248.76 105.9,248.76 106.4,248.76 106.9,248.76 107.4,248.75 107.9,248.75 108.4,248.75 108.9,248.74 109.4,248.74 109.9,248.74 110.4,248.73 110.9,248.73 111.4,248.73 111.9,248.72 112.4,248.72 112.9,248.72 113.4,248.71 113.9,248.71 114.4,248.7 114.9,248.7 115.4,248.7 115.9,248.69 116.4,248.67 116.9,248.66 117.4,248.64 117.9,248.62 118.4,248.59 118.9,248.56 119.4,248.53 119.9,248.5 120.4,248.46 120.9,248.43 121.4,248.39 121.9,248.34 122.4,248.3 122.9,248.25 123.4,248.21 123.9,248.16 124.4,248.11 124.9,248.06 125.4,248 125.9,247.95 126.4,247.9 126.9,247.84 127.4,247.79 127.9,247.73 128.4,247.68 128.9,247.62 129.4,247.57 129.9,247.51 130.4,247.45 130.9,247.39 131.4,247.31 131.9,247.23 132.4,247.14 132.9,247.05 133.4,246.95 133.9,246.85 134.4,246.75 134.9,246.65 135.4,246.54 135.9,246.43 136.4,246.33 136.9,246.23 137.4,246.12 137.9,246.03 138.4,245.93 138.9,245.84 139.4,245.75 139.9,245.66 140.4,245.58 140.9,245.49 141.4,245.41 141.9,245.32 142.4,245.22 142.9,245.09 143.4,244.93 143.9,244.73 144.4,244.47 144.9,244.14 145.4,243.73 145.9,243.22 146.4,242.58 146.9,241.8 147.4,240.85 147.9,239.72 148.4,238.37 148.9,236.78 149.4,234.94 149.9,232.83 150.4,230.45 150.9,227.79 151.4,224.86 151.9,221.68 152.4,218.28 152.9,214.7 153.4,210.99 153.9,207.22 154.4,203.46 154.9,199.8 155.4,196.3 155.9,193.07 156.4,190.19 156.9,187.73 157.4,185.77 157.9,184.35 158.4,183.53 158.9,183.33 159.4,183.64 159.9,184.4 160.4,185.6 160.9,187.21 161.4,189.2 161.9,191.51 162.4,194.11 162.9,196.95 163.4,199.96 163.9,203.09 164.4,206.3 164.9,209.52 165.4,212.71 165.9,215.83 166.4,218.83 166.9,221.7 167.4,224.4 167.9,226.91 168.4,229.23 168.9,231.34 169.4,233.25 169.9,234.96 170.4,236.47 170.9,237.79 171.4,238.94 171.9,239.94 172.4,240.78 172.9,241.5 173.4,242.1 173.9,242.6 174.4,243.01 174.9,243.35 175.4,243.62 175.9,243.84 176.4,244.02 176.9,244.16 177.4,244.27 177.9,244.36 178.4,244.43 178.9,244.49 179.4,244.54 179.9,244.57 180.4,244.6 180.9,244.63 181.4,244.65 181.9,244.67 182.4,244.69 182.9,244.71 183.4,244.72 183.9,244.74 184.4,244.75 184.9,244.77 185.4,244.78 185.9,244.79 186.4,244.81 186.9,244.82 187.4,244.83 187.9,244.84 188.4,244.86 188.9,244.87 189.4,244.88 189.9,244.88 190.4,244.89 190.9,244.89 191.4,244.9 191.9,244.9 192.4,244.89 192.9,244.89 193.4,244.88 193.9,244.86 194.4,244.84 194.9,244.82 195.4,244.78 195.9,244.74 196.4,244.7 196.9,244.64 197.4,244.57 197.9,244.49 198.4,244.39 198.9,244.28 199.4,244.15 199.9,243.99 200.4,243.81 200.9,243.59 201.4,243.32 201.9,243.01 202.4,242.62 202.9,242.15 203.4,241.56 203.9,240.82 204.4,239.91 204.9,238.77 205.4,237.35 205.9,235.58 206.4,233.41 206.9,230.75 207.4,227.53 207.9,223.68 208.4,219.13 208.9,213.83 209.4,207.76 209.9,200.9 210.4,193.29 210.9,184.99 211.4,176.13 211.9,166.85 212.4,157.36 212.9,147.89 213.4,138.7 213.9,130.07 214.4,122.27 214.9,115.56 215.4,110.17 215.9,106.27 216.4,104 216.9,103.11 217.4,103.01 217.9,103.68 218.4,105.1 218.9,107.21 219.4,109.97 219.9,113.32 220.4,117.2 220.9,121.51 221.4,126.2 221.9,131.17 222.4,136.35 222.9,141.67 223.4,147.04 223.9,152.41 224.4,157.71 224.9,162.9 225.4,167.93 225.9,172.76 226.4,177.38 226.9,181.76 227.4,185.89 227.9,189.77 228.4,193.39 228.9,196.77 229.4,199.9 229.9,202.82 230.4,205.52 230.9,208.03 231.4,210.37 231.9,212.54 232.4,214.56 232.9,216.46 233.4,218.23 233.9,219.9 234.4,221.48 234.9,222.97 235.4,224.38 235.9,225.72 236.4,226.99 236.9,228.21 237.4,229.36 237.9,230.46 238.4,231.51 238.9,232.5 239.4,233.44 239.9,234.34 240.4,235.18 240.9,235.98 241.4,236.73 241.9,237.43 242.4,238.09 242.9,238.71 243.4,239.29 243.9,239.82 244.4,240.32 244.9,240.78 245.4,241.2 245.9,241.59 246.4,241.94 246.9,242.27 247.4,242.57 247.9,242.84 248.4,243.08 248.9,243.31 249.4,243.51 249.9,243.69 250.4,243.86 250.9,244.01 251.4,244.14 251.9,244.26 252.4,244.38 252.9,244.5 253.4,244.61 253.9,244.73 254.4,244.86 254.9,244.98 255.4,245.1 255.9,245.23 256.4,245.35 256.9,245.47 257.4,245.59 257.9,245.7 258.4,245.81 258.9,245.92 259.4,246.02 259.9,246.11 260.4,246.19 260.9,246.26 261.4,246.32 261.9,246.37 262.4,246.41 262.9,246.45 263.4,246.49 263.9,246.53 264.4,246.56 264.9,246.6 265.4,246.63 265.9,246.66 266.4,246.69 266.9,246.72 267.4,246.75 267.9,246.78 268.4,246.81 268.9,246.83 269.4,246.86 269.9,246.89 270.4,246.91 270.9,246.94 271.4,246.96 271.9,246.98 272.4,247.01 272.9,247.03 273.4,247.05 273.9,247.07 274.4,247.09 274.9,247.11 275.4,247.13 275.9,247.15 276.4,247.17 276.9,247.19 277.4,247.21 277.9,247.23 278.4,247.25 278.9,247.27 279.4,247.28 279.9,247.3 280.4,247.32 280.9,247.34 281.4,247.35 281.9,247.37 282.4,247.39 282.9,247.4 283.4,247.42 283.9,247.44 284.4,247.45 284.9,247.47 285.4,247.48 285.9,247.5 286.4,247.52 286.9,247.53 287.4,247.55 287.9,247.57 288.4,247.58 288.9,247.6 289.4,247.61 289.9,247.63 290.4,247.65 290.9,247.67 291.4,247.68 291.9,247.7 292.4,247.72 292.9,247.74 293.4,247.76 293.9,247.78 294.4,247.79 294.9,247.81 295.4,247.83 295.9,247.85 296.4,247.87 296.9,247.9 297.4,247.9" fill="none" stroke="#1FB5EC" stroke-width="1.1" stroke-linejoin="round" stroke-linecap="round"/>
<polyline points="57.4,248.9 57.9,248.9 58.4,248.9 58.9,248.9 59.4,248.9 59.9,248.9 60.4,248.9 60.9,248.9 61.4,248.9 61.9,248.9 62.4,248.9 62.9,248.9 63.4,248.9 63.9,248.9 64.4,248.9 64.9,248.9 65.4,248.9 65.9,248.9 66.4,248.9 66.9,248.9 67.4,248.9 67.9,248.9 68.4,248.9 68.9,248.9 69.4,248.9 69.9,248.9 70.4,248.9 70.9,248.9 71.4,248.9 71.9,248.9 72.4,248.9 72.9,248.9 73.4,248.9 73.9,248.9 74.4,248.9 74.9,248.9 75.4,248.9 75.9,248.9 76.4,248.9 76.9,248.9 77.4,248.9 77.9,248.9 78.4,248.9 78.9,248.9 79.4,248.9 79.9,248.9 80.4,248.9 80.9,248.9 81.4,248.9 81.9,248.9 82.4,248.9 82.9,248.9 83.4,248.9 83.9,248.9 84.4,248.9 84.9,248.9 85.4,248.9 85.9,248.9 86.4,248.9 86.9,248.9 87.4,248.9 87.9,248.9 88.4,248.9 88.9,248.9 89.4,248.9 89.9,248.9 90.4,248.9 90.9,248.9 91.4,248.9 91.9,248.9 92.4,248.9 92.9,248.9 93.4,248.9 93.9,248.9 94.4,248.9 94.9,248.9 95.4,248.9 95.9,248.9 96.4,248.9 96.9,248.9 97.4,248.9 97.9,248.9 98.4,248.9 98.9,248.9 99.4,248.9 99.9,248.9 100.4,248.9 100.9,248.9 101.4,248.9 101.9,248.9 102.4,248.9 102.9,248.9 103.4,248.9 103.9,248.9 104.4,248.9 104.9,248.9 105.4,248.9 105.9,248.9 106.4,248.9 106.9,248.9 107.4,248.9 107.9,248.9 108.4,248.9 108.9,248.9 109.4,248.9 109.9,248.9 110.4,248.9 110.9,248.9 111.4,248.9 111.9,248.9 112.4,248.9 112.9,248.9 113.4,248.9 113.9,248.9 114.4,248.9 114.9,248.9 115.4,248.9 115.9,248.9 116.4,248.9 116.9,248.9 117.4,248.9 117.9,248.9 118.4,248.9 118.9,248.9 119.4,248.9 119.9,248.9 120.4,248.9 120.9,248.9 121.4,248.9 121.9,248.9 122.4,248.9 122.9,248.9 123.4,248.9 123.9,248.9 124.4,248.9 124.9,248.9 125.4,248.9 125.9,248.9 126.4,248.9 126.9,248.9 127.4,248.9 127.9,248.9 128.4,248.9 128.9,248.9 129.4,248.9 129.9,248.9 130.4,248.9 130.9,248.9 131.4,248.9 131.9,248.9 132.4,248.9 132.9,248.9 133.4,248.9 133.9,248.9 134.4,248.9 134.9,248.9 135.4,248.9 135.9,248.9 136.4,248.9 136.9,248.9 137.4,248.9 137.9,248.9 138.4,248.9 138.9,248.9 139.4,248.9 139.9,248.9 140.4,248.9 140.9,248.9 141.4,248.9 141.9,248.9 142.4,248.9 142.9,248.9 143.4,248.9 143.9,248.9 144.4,248.9 144.9,248.9 145.4,248.9 145.9,248.9 146.4,248.9 146.9,248.9 147.4,248.9 147.9,248.9 148.4,248.9 148.9,248.9 149.4,248.9 149.9,248.9 150.4,248.9 150.9,248.9 151.4,248.9 151.9,248.9 152.4,248.9 152.9,248.9 153.4,248.9 153.9,248.9 154.4,248.9 154.9,248.9 155.4,248.9 155.9,248.9 156.4,248.9 156.9,248.9 157.4,248.9 157.9,248.9 158.4,248.9 158.9,248.9 159.4,248.9 159.9,248.9 160.4,248.9 160.9,248.9 161.4,248.9 161.9,248.9 162.4,248.9 162.9,248.9 163.4,248.9 163.9,248.9 164.4,248.9 164.9,248.9 165.4,248.9 165.9,248.89 166.4,248.87 166.9,248.85 167.4,248.83 167.9,248.79 168.4,248.76 168.9,248.72 169.4,248.67 169.9,248.62 170.4,248.57 170.9,248.52 171.4,248.46 171.9,248.4 172.4,248.34 172.9,248.28 173.4,248.22 173.9,248.16 174.4,248.1 174.9,248.04 175.4,247.98 175.9,247.92 176.4,247.86 176.9,247.81 177.4,247.76 177.9,247.71 178.4,247.66 178.9,247.62 179.4,247.57 179.9,247.53 180.4,247.48 180.9,247.44 181.4,247.39 181.9,247.34 182.4,247.3 182.9,247.25 183.4,247.21 183.9,247.16 184.4,247.12 184.9,247.07 185.4,247.03 185.9,246.98 186.4,246.94 186.9,246.89 187.4,246.84 187.9,246.8 188.4,246.75 188.9,246.71 189.4,246.66 189.9,246.61 190.4,246.56 190.9,246.52 191.4,246.47 191.9,246.42 192.4,246.37 192.9,246.31 193.4,246.26 193.9,246.2 194.4,246.15 194.9,246.09 195.4,246.02 195.9,245.96 196.4,245.89 196.9,245.81 197.4,245.73 197.9,245.64 198.4,245.55 198.9,245.44 199.4,245.32 199.9,245.19 200.4,245.04 200.9,244.87 201.4,244.67 201.9,244.43 202.4,244.15 202.9,243.82 203.4,243.41 203.9,242.91 204.4,242.3 204.9,241.55 205.4,240.62 205.9,239.5 206.4,238.12 206.9,236.45 207.4,234.45 207.9,232.07 208.4,229.27 208.9,226 209.4,222.25 209.9,218 210.4,213.25 210.9,208.04 211.4,202.4 211.9,196.41 212.4,190.17 212.9,183.81 213.4,177.47 213.9,171.3 214.4,165.47 214.9,160.16 215.4,155.52 215.9,151.7 216.4,148.82 216.9,146.96 217.4,146.14 217.9,146.04 218.4,146.57 218.9,147.71 219.4,149.43 219.9,151.69 220.4,154.43 220.9,157.59 221.4,161.1 221.9,164.91 222.4,168.93 222.9,173.09 223.4,177.34 223.9,181.61 224.4,185.84 224.9,189.98 225.4,194 225.9,197.85 226.4,201.51 226.9,204.96 227.4,208.19 227.9,211.19 228.4,213.97 228.9,216.52 229.4,218.85 229.9,220.98 230.4,222.92 230.9,224.68 231.4,226.28 231.9,227.72 232.4,229.03 232.9,230.22 233.4,231.3 233.9,232.28 234.4,233.18 234.9,233.99 235.4,234.74 235.9,235.42 236.4,236.05 236.9,236.62 237.4,237.14 237.9,237.62 238.4,238.06 238.9,238.46 239.4,238.83 239.9,239.15 240.4,239.45 240.9,239.71 241.4,239.95 241.9,240.16 242.4,240.31 242.9,240.41 243.4,240.43 243.9,240.37 244.4,240.21 244.9,239.95 245.4,239.59 245.9,239.14 246.4,238.62 246.9,238.07 247.4,237.52 247.9,237.03 248.4,236.64 248.9,236.41 249.4,236.36 249.9,236.52 250.4,236.88 250.9,237.41 251.4,238.11 251.9,238.92 252.4,239.81 252.9,240.74 253.4,241.67 253.9,242.57 254.4,243.39 254.9,244.13 255.4,244.77 255.9,245.32 256.4,245.76 256.9,246.11 257.4,246.37 257.9,246.57 258.4,246.7 258.9,246.8 259.4,246.88 259.9,246.94 260.4,246.98 260.9,247.02 261.4,247.05 261.9,247.08 262.4,247.1 262.9,247.12 263.4,247.14 263.9,247.16 264.4,247.18 264.9,247.2 265.4,247.22 265.9,247.24 266.4,247.25 266.9,247.27 267.4,247.29 267.9,247.3 268.4,247.32 268.9,247.33 269.4,247.34 269.9,247.36 270.4,247.37 270.9,247.38 271.4,247.4 271.9,247.41 272.4,247.42 272.9,247.43 273.4,247.45 273.9,247.46 274.4,247.47 274.9,247.48 275.4,247.49 275.9,247.5 276.4,247.51 276.9,247.52 277.4,247.53 277.9,247.54 278.4,247.55 278.9,247.56 279.4,247.56 279.9,247.57 280.4,247.58 280.9,247.59 281.4,247.6 281.9,247.61 282.4,247.62 282.9,247.63 283.4,247.63 283.9,247.64 284.4,247.65 284.9,247.66 285.4,247.67 285.9,247.68 286.4,247.68 286.9,247.69 287.4,247.7 287.9,247.71 288.4,247.72 288.9,247.73 289.4,247.74 289.9,247.75 290.4,247.76 290.9,247.77 291.4,247.77 291.9,247.78 292.4,247.79 292.9,247.81 293.4,247.82 293.9,247.83 294.4,247.84 294.9,247.85 295.4,247.86 295.9,247.87 296.4,247.88 296.9,247.9 297.4,247.9" fill="none" stroke="#44546A" stroke-width="1.1" stroke-linejoin="round" stroke-linecap="round"/>
<polyline points="57.4,248.9 57.9,248.89 58.4,248.88 58.9,248.88 59.4,248.87 59.9,248.86 60.4,248.85 60.9,248.85 61.4,248.84 61.9,248.83 62.4,248.83 62.9,248.82 63.4,248.81 63.9,248.8 64.4,248.8 64.9,248.79 65.4,248.78 65.9,248.78 66.4,248.77 66.9,248.77 67.4,248.76 67.9,248.75 68.4,248.75 68.9,248.74 69.4,248.73 69.9,248.73 70.4,248.72 70.9,248.72 71.4,248.71 71.9,248.7 72.4,248.7 72.9,248.69 73.4,248.69 73.9,248.68 74.4,248.68 74.9,248.67 75.4,248.66 75.9,248.66 76.4,248.65 76.9,248.65 77.4,248.64 77.9,248.64 78.4,248.63 78.9,248.63 79.4,248.62 79.9,248.61 80.4,248.61 80.9,248.6 81.4,248.6 81.9,248.59 82.4,248.59 82.9,248.58 83.4,248.57 83.9,248.57 84.4,248.56 84.9,248.56 85.4,248.55 85.9,248.54 86.4,248.54 86.9,248.53 87.4,248.53 87.9,248.52 88.4,248.51 88.9,248.51 89.4,248.5 89.9,248.5 90.4,248.49 90.9,248.48 91.4,248.48 91.9,248.47 92.4,248.46 92.9,248.46 93.4,248.45 93.9,248.44 94.4,248.44 94.9,248.43 95.4,248.42 95.9,248.41 96.4,248.41 96.9,248.4 97.4,248.39 97.9,248.38 98.4,248.38 98.9,248.37 99.4,248.36 99.9,248.35 100.4,248.34 100.9,248.34 101.4,248.33 101.9,248.32 102.4,248.31 102.9,248.3 103.4,248.29 103.9,248.28 104.4,248.27 104.9,248.26 105.4,248.25 105.9,248.24 106.4,248.24 106.9,248.23 107.4,248.21 107.9,248.2 108.4,248.19 108.9,248.18 109.4,248.17 109.9,248.16 110.4,248.15 110.9,248.14 111.4,248.13 111.9,248.12 112.4,248.1 112.9,248.09 113.4,248.08 113.9,248.07 114.4,248.06 114.9,248.04 115.4,248.03 115.9,248.02 116.4,248 116.9,247.99 117.4,247.98 117.9,247.96 118.4,247.95 118.9,247.93 119.4,247.92 119.9,247.9 120.4,247.89 120.9,247.87 121.4,247.85 121.9,247.83 122.4,247.81 122.9,247.79 123.4,247.76 123.9,247.74 124.4,247.71 124.9,247.68 125.4,247.65 125.9,247.62 126.4,247.59 126.9,247.56 127.4,247.52 127.9,247.49 128.4,247.45 128.9,247.41 129.4,247.37 129.9,247.33 130.4,247.29 130.9,247.25 131.4,247.2 131.9,247.16 132.4,247.11 132.9,247.07 133.4,247.02 133.9,246.97 134.4,246.92 134.9,246.87 135.4,246.81 135.9,246.76 136.4,246.7 136.9,246.65 137.4,246.59 137.9,246.53 138.4,246.48 138.9,246.42 139.4,246.36 139.9,246.3 140.4,246.23 140.9,246.17 141.4,246.11 141.9,246.04 142.4,245.98 142.9,245.91 143.4,245.85 143.9,245.78 144.4,245.71 144.9,245.64 145.4,245.57 145.9,245.5 146.4,245.43 146.9,245.36 147.4,245.29 147.9,245.21 148.4,245.14 148.9,245.07 149.4,244.99 149.9,244.92 150.4,244.83 150.9,244.74 151.4,244.62 151.9,244.5 152.4,244.37 152.9,244.24 153.4,244.1 153.9,243.96 154.4,243.83 154.9,243.7 155.4,243.58 155.9,243.48 156.4,243.39 156.9,243.31 157.4,243.25 157.9,243.2 158.4,243.15 158.9,243.1 159.4,243.06 159.9,243.01 160.4,242.97 160.9,242.93 161.4,242.9 161.9,242.86 162.4,242.83 162.9,242.8 163.4,242.76 163.9,242.73 164.4,242.7 164.9,242.66 165.4,242.62 165.9,242.58 166.4,242.54 166.9,242.48 167.4,242.42 167.9,242.34 168.4,242.25 168.9,242.13 169.4,241.98 169.9,241.8 170.4,241.57 170.9,241.29 171.4,240.95 171.9,240.52 172.4,240.01 172.9,239.4 173.4,238.67 173.9,237.8 174.4,236.8 174.9,235.65 175.4,234.33 175.9,232.85 176.4,231.21 176.9,229.42 177.4,227.49 177.9,225.45 178.4,223.33 178.9,221.18 179.4,219.02 179.9,216.93 180.4,214.94 180.9,213.12 181.4,211.51 181.9,210.16 182.4,209.11 182.9,208.4 183.4,208.05 183.9,208.06 184.4,208.4 184.9,209.06 185.4,210.01 185.9,211.23 186.4,212.68 186.9,214.32 187.4,216.12 187.9,218.03 188.4,220.01 188.9,222 189.4,223.99 189.9,225.92 190.4,227.78 190.9,229.56 191.4,231.23 191.9,232.79 192.4,234.22 192.9,235.53 193.4,236.7 193.9,237.75 194.4,238.68 194.9,239.49 195.4,240.2 195.9,240.81 196.4,241.33 196.9,241.78 197.4,242.16 197.9,242.48 198.4,242.74 198.9,242.95 199.4,243.1 199.9,243.21 200.4,243.27 200.9,243.29 201.4,243.27 201.9,243.2 202.4,243.06 202.9,242.85 203.4,242.54 203.9,242.09 204.4,241.48 204.9,240.66 205.4,239.58 205.9,238.18 206.4,236.4 206.9,234.15 207.4,231.38 207.9,228 208.4,223.96 208.9,219.21 209.4,213.71 209.9,207.45 210.4,200.47 210.9,192.83 211.4,184.62 211.9,176.01 212.4,167.17 212.9,158.32 213.4,149.7 213.9,141.59 214.4,134.23 214.9,127.87 215.4,122.72 215.9,118.96 216.4,116.7 216.9,115.73 217.4,115.49 217.9,115.95 218.4,117.1 218.9,118.9 219.4,121.32 219.9,124.28 220.4,127.75 220.9,131.64 221.4,135.89 221.9,140.44 222.4,145.2 222.9,150.11 223.4,155.11 223.9,160.14 224.4,165.14 224.9,170.07 225.4,174.88 225.9,179.54 226.4,184.04 226.9,188.34 227.4,192.43 227.9,196.31 228.4,199.98 228.9,203.44 229.4,206.68 229.9,209.73 230.4,212.58 230.9,215.25 231.4,217.75 231.9,220.09 232.4,222.27 232.9,224.32 233.4,226.24 233.9,228.03 234.4,229.7 234.9,231.27 235.4,232.74 235.9,234.11 236.4,235.38 236.9,236.58 237.4,237.68 237.9,238.71 238.4,239.66 238.9,240.54 239.4,241.35 239.9,242.09 240.4,242.77 240.9,243.38 241.4,243.94 241.9,244.45 242.4,244.91 242.9,245.32 243.4,245.68 243.9,246.01 244.4,246.29 244.9,246.55 245.4,246.77 245.9,246.97 246.4,247.14 246.9,247.29 247.4,247.41 247.9,247.53 248.4,247.62 248.9,247.7 249.4,247.77 249.9,247.83 250.4,247.88 250.9,247.93 251.4,247.96 251.9,248 252.4,248.02 252.9,248.05 253.4,248.06 253.9,248.08 254.4,248.09 254.9,248.11 255.4,248.12 255.9,248.13 256.4,248.13 256.9,248.14 257.4,248.15 257.9,248.15 258.4,248.16 258.9,248.16 259.4,248.17 259.9,248.17 260.4,248.18 260.9,248.18 261.4,248.18 261.9,248.19 262.4,248.19 262.9,248.2 263.4,248.2 263.9,248.2 264.4,248.21 264.9,248.21 265.4,248.21 265.9,248.21 266.4,248.22 266.9,248.22 267.4,248.22 267.9,248.23 268.4,248.23 268.9,248.23 269.4,248.23 269.9,248.24 270.4,248.24 270.9,248.24 271.4,248.25 271.9,248.25 272.4,248.25 272.9,248.25 273.4,248.26 273.9,248.26 274.4,248.26 274.9,248.26 275.4,248.27 275.9,248.27 276.4,248.27 276.9,248.27 277.4,248.28 277.9,248.28 278.4,248.28 278.9,248.29 279.4,248.29 279.9,248.29 280.4,248.29 280.9,248.3 281.4,248.3 281.9,248.3 282.4,248.3 282.9,248.31 283.4,248.31 283.9,248.31 284.4,248.32 284.9,248.32 285.4,248.32 285.9,248.32 286.4,248.33 286.9,248.33 287.4,248.33 287.9,248.34 288.4,248.34 288.9,248.34 289.4,248.35 289.9,248.35 290.4,248.35 290.9,248.36 291.4,248.36 291.9,248.36 292.4,248.37 292.9,248.37 293.4,248.37 293.9,248.38 294.4,248.38 294.9,248.38 295.4,248.39 295.9,248.39 296.4,248.4 296.9,248.4 297.4,248.4" fill="none" stroke="#FF0000" stroke-width="1.1" stroke-linejoin="round" stroke-linecap="round"/>
<polyline points="149,172.3 150.5,173.8 152.5,174.2 155,172.6 158,169.2 161,166.4 163.5,165.4 166,165.6 168.5,166.8 171.5,169.3" fill="none" stroke="#1FB5EC" stroke-width="1.9" stroke-linejoin="round" stroke-linecap="round"/>
<polyline points="112.62,94.43 114.41,93.97 116.09,94.9 117.56,96.39 119.63,96.91 121.55,98.38 122.84,99.68 124.1,100.76 125.24,102.61 126.32,103.87 127.57,104.74 128.78,106.46 129.34,107.59 130.62,109.42 131.39,111.23 132.27,112.77 132.93,114.21 133.75,115.73 134.84,116.58 135.1,118.09 136.47,119.67 137.02,121 137.72,122.49 138.4,124.06 139.26,125.68 140.03,127.1 140.85,128.54 141.42,129.36 142.25,131.33 143.33,132.55 144.25,133.8 145.38,135.55 146.05,136.69 147.71,138.51 148.45,139.54 149.94,140.26 151.52,141.75 153.59,142.31 155.08,143.38 156.15,144.84 157.27,146.56 158,147.83 158.87,148.44 160.07,149.67 160.53,151.34 161.56,152.56 161.9,154.46 162.83,155.92 163.98,156.91 164.5,158.39 165.45,159.82 166.22,161.21 167.31,162.5 167.78,164.03 168.47,165.11 169.81,166.64 170.3,168" fill="none" stroke="#FFC000" stroke-width="1.9" stroke-linejoin="round" stroke-linecap="round"/>
<polyline points="108.89,98.17 110.07,99.48 111.1,100.63 111.67,101.48 114.01,102.95 115.68,103.93 116.91,104.79 118.5,105.79 119.66,106.3 121.13,107.65 122.75,107.98 124.05,108.83 125.2,109.68 126.05,111.06 127.12,111.84 128.58,113.54 129.01,114.84 130.11,115.88 130.79,117.31 131.97,118.73 132.96,119.66 133.42,120.97 134.11,122.3 135.06,124.07 135.65,125.46 136.69,126.53 137.82,127.99 138.27,129.32 139.34,130.36 140.33,131.67 140.97,133.7 141.26,135.12 142.31,136.43 142.86,137.52 143.78,139.62 144.59,140.82 145.9,142.29 146.29,143.22 147.22,144.85 147.73,146.17 148.99,147.7 149.24,149.21 150.06,150.24 151.21,152.09 151.8,153.55 152.73,154.57 153.65,155.8 154.55,157.1 156.06,159.02 156.76,159.68 158.47,161.45 159.18,162.67 160.44,164.5 161.47,165.65 162.19,167.19 163.17,168.1 164.74,169.04 165.66,170.81 166.69,171.83 167.42,172.7 168.55,174.12 169.9,175" fill="none" stroke="#FF66FF" stroke-width="1.9" stroke-linejoin="round" stroke-linecap="round"/>
<polyline points="173.2,182.4 175.5,182.2 177.6,181.3 181,179.2 184,177 186.4,176.2 189,176.8 191,178.2 192.5,179.8" fill="none" stroke="#FF0000" stroke-width="1.9" stroke-linejoin="round" stroke-linecap="round"/>
<path d="M210.6,212.2 Q220,209.8 230,211" fill="none" stroke="#44546A" stroke-width="2" stroke-linecap="round"/>
<path d="M218.6,185.6 Q227,181.3 236,185.4" fill="none" stroke="#92D050" stroke-width="1.9" stroke-linecap="round"/>
<text font-size="8.7" transform="translate(179 86.9) scale(0.92 1)">520 kDa (3:2)</text>
<text font-size="8.7" transform="translate(65 148.4) scale(0.92 1)">370 kDa</text>
<text font-size="8.7" transform="translate(65 158.2) scale(0.92 1)">(2:2)</text>
<text font-size="8.7" transform="translate(72.4 194.7) scale(0.92 1)">220 kDa</text>
<text font-size="8.7" transform="translate(72.4 204.5) scale(0.92 1)">(1:2)</text>
<text font-size="8.7" transform="translate(161.4 133.7) scale(0.92 1)">190 kDa (1:1)</text>
<text font-size="8.7" transform="translate(240.8 153.7) scale(0.92 1)">Antibody</text>
<text font-size="8.7" transform="translate(246.9 163.7) scale(0.92 1)">150 kDa</text>
<text font-size="8.7" transform="translate(256.9 198.8) scale(0.92 1)">sTNFR2</text>
<text font-size="8.7" transform="translate(262.7 207.6) scale(0.92 1)">37 kDa</text>
<line x1="141.6" y1="99.5" x2="130.5" y2="99.5" stroke="#000" stroke-width="0.8"/>
<polygon points="127,99.5 131,97.7 131,101.3" fill="#000"/>
<line x1="118.4" y1="132.3" x2="129.2" y2="132.3" stroke="#000" stroke-width="0.8"/>
<polygon points="132.7,132.3 128.7,134.1 128.7,130.5" fill="#000"/>
<polyline points="130.4,174.6 130.4,169 141.2,169" fill="none" stroke="#000" stroke-width="0.8"/>
<polygon points="144.7,169 140.7,170.8 140.7,167.2" fill="#000"/>
<polyline points="203,163 203,179.8 198.5,179.8" fill="none" stroke="#000" stroke-width="0.8"/>
<polygon points="195,179.8 199,178 199,181.6" fill="#000"/>
<line x1="255.4" y1="184.6" x2="244.1" y2="184.6" stroke="#000" stroke-width="0.8"/>
<polygon points="240.6,184.6 244.6,182.8 244.6,186.4" fill="#000"/>
<line x1="250.3" y1="211.6" x2="239" y2="211.6" stroke="#000" stroke-width="0.8"/>
<polygon points="235.5,211.6 239.5,209.8 239.5,213.4" fill="#000"/>
<ellipse cx="266.7" cy="181.2" rx="2.4" ry="1.35" transform="rotate(90 266.7 181.2)" fill="#fff" stroke="#2a2a2a" stroke-width="0.45"/>
<ellipse cx="264.1" cy="181.2" rx="2.4" ry="1.35" transform="rotate(90 264.1 181.2)" fill="#fff" stroke="#2a2a2a" stroke-width="0.45"/>
<ellipse cx="266.7" cy="185.9" rx="2.4" ry="1.35" transform="rotate(90 266.7 185.9)" fill="#fff" stroke="#2a2a2a" stroke-width="0.45"/>
<ellipse cx="264.1" cy="185.9" rx="2.4" ry="1.35" transform="rotate(90 264.1 185.9)" fill="#fff" stroke="#2a2a2a" stroke-width="0.45"/>
<ellipse cx="260.95" cy="176.61" rx="2.5" ry="1.45" transform="rotate(212 260.95 176.61)" fill="#fff" stroke="#2a2a2a" stroke-width="0.45"/>
<ellipse cx="262.38" cy="174.32" rx="2.5" ry="1.45" transform="rotate(212 262.38 174.32)" fill="#fff" stroke="#2a2a2a" stroke-width="0.45"/>
<ellipse cx="257.19" cy="174.14" rx="2.4" ry="1.4" transform="rotate(212 257.19 174.14)" fill="#6A2A9E" stroke="#2a2a2a" stroke-width="0.45"/>
<ellipse cx="258.51" cy="172.02" rx="2.4" ry="1.4" transform="rotate(212 258.51 172.02)" fill="#6A2A9E" stroke="#2a2a2a" stroke-width="0.45"/>
<ellipse cx="268.42" cy="174.32" rx="2.5" ry="1.45" transform="rotate(328 268.42 174.32)" fill="#fff" stroke="#2a2a2a" stroke-width="0.45"/>
<ellipse cx="269.85" cy="176.61" rx="2.5" ry="1.45" transform="rotate(328 269.85 176.61)" fill="#fff" stroke="#2a2a2a" stroke-width="0.45"/>
<ellipse cx="272.29" cy="172.02" rx="2.4" ry="1.4" transform="rotate(328 272.29 172.02)" fill="#92CB55" stroke="#2a2a2a" stroke-width="0.45"/>
<ellipse cx="273.61" cy="174.14" rx="2.4" ry="1.4" transform="rotate(328 273.61 174.14)" fill="#92CB55" stroke="#2a2a2a" stroke-width="0.45"/>
<ellipse cx="256.8" cy="211.1" rx="1.9" ry="1.3" transform="rotate(-11 256.8 211.1)" fill="#F5E4C6" stroke="#333" stroke-width="0.5"/>
<ellipse cx="260.58" cy="212.04" rx="1.9" ry="1.3" transform="rotate(39 260.58 212.04)" fill="#F5E4C6" stroke="#333" stroke-width="0.5"/>
<ellipse cx="264.37" cy="212.99" rx="1.9" ry="1.3" transform="rotate(-11 264.37 212.99)" fill="#F5E4C6" stroke="#333" stroke-width="0.5"/>
<ellipse cx="268.15" cy="213.93" rx="1.9" ry="1.3" transform="rotate(39 268.15 213.93)" fill="#F5E4C6" stroke="#333" stroke-width="0.5"/>
<polyline points="270,214.39 271.86,213.67 273.45,215.2" fill="none" stroke="#555" stroke-width="0.4"/>
<ellipse cx="114.8" cy="192.6" rx="2.4" ry="1.35" transform="rotate(90 114.8 192.6)" fill="#fff" stroke="#2a2a2a" stroke-width="0.45"/>
<ellipse cx="112.2" cy="192.6" rx="2.4" ry="1.35" transform="rotate(90 112.2 192.6)" fill="#fff" stroke="#2a2a2a" stroke-width="0.45"/>
<ellipse cx="114.8" cy="197.3" rx="2.4" ry="1.35" transform="rotate(90 114.8 197.3)" fill="#fff" stroke="#2a2a2a" stroke-width="0.45"/>
<ellipse cx="112.2" cy="197.3" rx="2.4" ry="1.35" transform="rotate(90 112.2 197.3)" fill="#fff" stroke="#2a2a2a" stroke-width="0.45"/>
<ellipse cx="109.1" cy="187.86" rx="2.5" ry="1.45" transform="rotate(214 109.1 187.86)" fill="#fff" stroke="#2a2a2a" stroke-width="0.45"/>
<ellipse cx="110.61" cy="185.62" rx="2.5" ry="1.45" transform="rotate(214 110.61 185.62)" fill="#fff" stroke="#2a2a2a" stroke-width="0.45"/>
<ellipse cx="105.42" cy="185.26" rx="2.4" ry="1.4" transform="rotate(214 105.42 185.26)" fill="#92CB55" stroke="#2a2a2a" stroke-width="0.45"/>
<ellipse cx="106.82" cy="183.19" rx="2.4" ry="1.4" transform="rotate(214 106.82 183.19)" fill="#92CB55" stroke="#2a2a2a" stroke-width="0.45"/>
<ellipse cx="116.39" cy="185.62" rx="2.5" ry="1.45" transform="rotate(326 116.39 185.62)" fill="#fff" stroke="#2a2a2a" stroke-width="0.45"/>
<ellipse cx="117.9" cy="187.86" rx="2.5" ry="1.45" transform="rotate(326 117.9 187.86)" fill="#fff" stroke="#2a2a2a" stroke-width="0.45"/>
<ellipse cx="120.18" cy="183.19" rx="2.4" ry="1.4" transform="rotate(326 120.18 183.19)" fill="#92CB55" stroke="#2a2a2a" stroke-width="0.45"/>
<ellipse cx="121.58" cy="185.26" rx="2.4" ry="1.4" transform="rotate(326 121.58 185.26)" fill="#92CB55" stroke="#2a2a2a" stroke-width="0.45"/>
<ellipse cx="99.4" cy="183.6" rx="1.9" ry="1.3" transform="rotate(-61 99.4 183.6)" fill="#F5E4C6" stroke="#333" stroke-width="0.5"/>
<ellipse cx="102.31" cy="181.48" rx="1.9" ry="1.3" transform="rotate(-11 102.31 181.48)" fill="#F5E4C6" stroke="#333" stroke-width="0.5"/>
<ellipse cx="105.22" cy="179.37" rx="1.9" ry="1.3" transform="rotate(-61 105.22 179.37)" fill="#F5E4C6" stroke="#333" stroke-width="0.5"/>
<ellipse cx="108.14" cy="177.25" rx="1.9" ry="1.3" transform="rotate(-11 108.14 177.25)" fill="#F5E4C6" stroke="#333" stroke-width="0.5"/>
<polyline points="109.67,176.14 110.33,174.24 112.51,174.01" fill="none" stroke="#555" stroke-width="0.4"/>
<ellipse cx="121.3" cy="178.2" rx="1.9" ry="1.3" transform="rotate(15 121.3 178.2)" fill="#F5E4C6" stroke="#333" stroke-width="0.5"/>
<ellipse cx="124.06" cy="180.51" rx="1.9" ry="1.3" transform="rotate(65 124.06 180.51)" fill="#F5E4C6" stroke="#333" stroke-width="0.5"/>
<ellipse cx="126.82" cy="182.83" rx="1.9" ry="1.3" transform="rotate(15 126.82 182.83)" fill="#F5E4C6" stroke="#333" stroke-width="0.5"/>
<ellipse cx="129.57" cy="185.14" rx="1.9" ry="1.3" transform="rotate(65 129.57 185.14)" fill="#F5E4C6" stroke="#333" stroke-width="0.5"/>
<polyline points="131.03,186.36 133.02,186.54 133.77,188.61" fill="none" stroke="#555" stroke-width="0.4"/>
<ellipse cx="203.37" cy="152.62" rx="2.4" ry="1.35" transform="rotate(80 203.37 152.62)" fill="#fff" stroke="#2a2a2a" stroke-width="0.45"/>
<ellipse cx="200.81" cy="153.07" rx="2.4" ry="1.35" transform="rotate(80 200.81 153.07)" fill="#fff" stroke="#2a2a2a" stroke-width="0.45"/>
<ellipse cx="204.19" cy="157.25" rx="2.4" ry="1.35" transform="rotate(80 204.19 157.25)" fill="#fff" stroke="#2a2a2a" stroke-width="0.45"/>
<ellipse cx="201.63" cy="157.7" rx="2.4" ry="1.35" transform="rotate(80 201.63 157.7)" fill="#fff" stroke="#2a2a2a" stroke-width="0.45"/>
<ellipse cx="196.94" cy="148.86" rx="2.5" ry="1.45" transform="rotate(205 196.94 148.86)" fill="#fff" stroke="#2a2a2a" stroke-width="0.45"/>
<ellipse cx="198.08" cy="146.42" rx="2.5" ry="1.45" transform="rotate(205 198.08 146.42)" fill="#fff" stroke="#2a2a2a" stroke-width="0.45"/>
<ellipse cx="192.91" cy="146.87" rx="2.4" ry="1.4" transform="rotate(205 192.91 146.87)" fill="#6A2A9E" stroke="#2a2a2a" stroke-width="0.45"/>
<ellipse cx="193.96" cy="144.61" rx="2.4" ry="1.4" transform="rotate(205 193.96 144.61)" fill="#6A2A9E" stroke="#2a2a2a" stroke-width="0.45"/>
<ellipse cx="202.53" cy="145.01" rx="2.5" ry="1.45" transform="rotate(300 202.53 145.01)" fill="#fff" stroke="#2a2a2a" stroke-width="0.45"/>
<ellipse cx="204.87" cy="146.36" rx="2.5" ry="1.45" transform="rotate(300 204.87 146.36)" fill="#fff" stroke="#2a2a2a" stroke-width="0.45"/>
<ellipse cx="204.87" cy="141.17" rx="2.4" ry="1.4" transform="rotate(300 204.87 141.17)" fill="#92CB55" stroke="#2a2a2a" stroke-width="0.45"/>
<ellipse cx="207.03" cy="142.42" rx="2.4" ry="1.4" transform="rotate(300 207.03 142.42)" fill="#92CB55" stroke="#2a2a2a" stroke-width="0.45"/>
<ellipse cx="189" cy="142.5" rx="1.9" ry="1.3" transform="rotate(-37 189 142.5)" fill="#F5E4C6" stroke="#333" stroke-width="0.5"/>
<ellipse cx="192.52" cy="141.75" rx="1.9" ry="1.3" transform="rotate(13 192.52 141.75)" fill="#F5E4C6" stroke="#333" stroke-width="0.5"/>
<ellipse cx="196.04" cy="141" rx="1.9" ry="1.3" transform="rotate(-37 196.04 141)" fill="#F5E4C6" stroke="#333" stroke-width="0.5"/>
<ellipse cx="199.56" cy="140.25" rx="1.9" ry="1.3" transform="rotate(13 199.56 140.25)" fill="#F5E4C6" stroke="#333" stroke-width="0.5"/>
<ellipse cx="203.09" cy="139.51" rx="1.9" ry="1.3" transform="rotate(-37 203.09 139.51)" fill="#F5E4C6" stroke="#333" stroke-width="0.5"/>
<ellipse cx="97.9" cy="117.6" rx="2.4" ry="1.35" transform="rotate(-90 97.9 117.6)" fill="#fff" stroke="#2a2a2a" stroke-width="0.45"/>
<ellipse cx="100.5" cy="117.6" rx="2.4" ry="1.35" transform="rotate(-90 100.5 117.6)" fill="#fff" stroke="#2a2a2a" stroke-width="0.45"/>
<ellipse cx="97.9" cy="112.9" rx="2.4" ry="1.35" transform="rotate(-90 97.9 112.9)" fill="#fff" stroke="#2a2a2a" stroke-width="0.45"/>
<ellipse cx="100.5" cy="112.9" rx="2.4" ry="1.35" transform="rotate(-90 100.5 112.9)" fill="#fff" stroke="#2a2a2a" stroke-width="0.45"/>
<ellipse cx="96.63" cy="124.82" rx="2.5" ry="1.45" transform="rotate(141 96.63 124.82)" fill="#fff" stroke="#2a2a2a" stroke-width="0.45"/>
<ellipse cx="94.93" cy="122.72" rx="2.5" ry="1.45" transform="rotate(141 94.93 122.72)" fill="#fff" stroke="#2a2a2a" stroke-width="0.45"/>
<ellipse cx="93.07" cy="127.57" rx="2.4" ry="1.4" transform="rotate(141 93.07 127.57)" fill="#92CB55" stroke="#2a2a2a" stroke-width="0.45"/>
<ellipse cx="91.5" cy="125.63" rx="2.4" ry="1.4" transform="rotate(141 91.5 125.63)" fill="#92CB55" stroke="#2a2a2a" stroke-width="0.45"/>
<ellipse cx="103.47" cy="122.72" rx="2.5" ry="1.45" transform="rotate(39 103.47 122.72)" fill="#fff" stroke="#2a2a2a" stroke-width="0.45"/>
<ellipse cx="101.77" cy="124.82" rx="2.5" ry="1.45" transform="rotate(39 101.77 124.82)" fill="#fff" stroke="#2a2a2a" stroke-width="0.45"/>
<ellipse cx="106.9" cy="125.63" rx="2.4" ry="1.4" transform="rotate(39 106.9 125.63)" fill="#6A2A9E" stroke="#2a2a2a" stroke-width="0.45"/>
<ellipse cx="105.33" cy="127.57" rx="2.4" ry="1.4" transform="rotate(39 105.33 127.57)" fill="#6A2A9E" stroke="#2a2a2a" stroke-width="0.45"/>
<ellipse cx="104.9" cy="146.3" rx="2.4" ry="1.35" transform="rotate(90 104.9 146.3)" fill="#fff" stroke="#2a2a2a" stroke-width="0.45"/>
<ellipse cx="102.3" cy="146.3" rx="2.4" ry="1.35" transform="rotate(90 102.3 146.3)" fill="#fff" stroke="#2a2a2a" stroke-width="0.45"/>
<ellipse cx="104.9" cy="151" rx="2.4" ry="1.35" transform="rotate(90 104.9 151)" fill="#fff" stroke="#2a2a2a" stroke-width="0.45"/>
<ellipse cx="102.3" cy="151" rx="2.4" ry="1.35" transform="rotate(90 102.3 151)" fill="#fff" stroke="#2a2a2a" stroke-width="0.45"/>
<ellipse cx="99.39" cy="141.03" rx="2.5" ry="1.45" transform="rotate(221 99.39 141.03)" fill="#fff" stroke="#2a2a2a" stroke-width="0.45"/>
<ellipse cx="101.16" cy="138.99" rx="2.5" ry="1.45" transform="rotate(221 101.16 138.99)" fill="#fff" stroke="#2a2a2a" stroke-width="0.45"/>
<ellipse cx="96.06" cy="138" rx="2.4" ry="1.4" transform="rotate(221 96.06 138)" fill="#6A2A9E" stroke="#2a2a2a" stroke-width="0.45"/>
<ellipse cx="97.7" cy="136.12" rx="2.4" ry="1.4" transform="rotate(221 97.7 136.12)" fill="#6A2A9E" stroke="#2a2a2a" stroke-width="0.45"/>
<ellipse cx="106.17" cy="139.08" rx="2.5" ry="1.45" transform="rotate(321 106.17 139.08)" fill="#fff" stroke="#2a2a2a" stroke-width="0.45"/>
<ellipse cx="107.87" cy="141.18" rx="2.5" ry="1.45" transform="rotate(321 107.87 141.18)" fill="#fff" stroke="#2a2a2a" stroke-width="0.45"/>
<ellipse cx="109.73" cy="136.33" rx="2.4" ry="1.4" transform="rotate(321 109.73 136.33)" fill="#92CB55" stroke="#2a2a2a" stroke-width="0.45"/>
<ellipse cx="111.3" cy="138.27" rx="2.4" ry="1.4" transform="rotate(321 111.3 138.27)" fill="#92CB55" stroke="#2a2a2a" stroke-width="0.45"/>
<ellipse cx="84.2" cy="123.3" rx="1.9" ry="1.3" transform="rotate(25 84.2 123.3)" fill="#F5E4C6" stroke="#333" stroke-width="0.5"/>
<ellipse cx="86.39" cy="125.9" rx="1.9" ry="1.3" transform="rotate(75 86.39 125.9)" fill="#F5E4C6" stroke="#333" stroke-width="0.5"/>
<ellipse cx="88.57" cy="128.51" rx="1.9" ry="1.3" transform="rotate(25 88.57 128.51)" fill="#F5E4C6" stroke="#333" stroke-width="0.5"/>
<ellipse cx="90.76" cy="131.11" rx="1.9" ry="1.3" transform="rotate(75 90.76 131.11)" fill="#F5E4C6" stroke="#333" stroke-width="0.5"/>
<ellipse cx="92.94" cy="133.72" rx="1.9" ry="1.3" transform="rotate(25 92.94 133.72)" fill="#F5E4C6" stroke="#333" stroke-width="0.5"/>
<polyline points="94.16,135.17 96.1,135.69 96.48,137.86" fill="none" stroke="#555" stroke-width="0.4"/>
<ellipse cx="106" cy="126" rx="1.9" ry="1.3" transform="rotate(27 106 126)" fill="#F5E4C6" stroke="#333" stroke-width="0.5"/>
<ellipse cx="108.22" cy="128.84" rx="1.9" ry="1.3" transform="rotate(77 108.22 128.84)" fill="#F5E4C6" stroke="#333" stroke-width="0.5"/>
<ellipse cx="110.43" cy="131.67" rx="1.9" ry="1.3" transform="rotate(27 110.43 131.67)" fill="#F5E4C6" stroke="#333" stroke-width="0.5"/>
<ellipse cx="112.65" cy="134.51" rx="1.9" ry="1.3" transform="rotate(77 112.65 134.51)" fill="#F5E4C6" stroke="#333" stroke-width="0.5"/>
<ellipse cx="114.87" cy="137.35" rx="1.9" ry="1.3" transform="rotate(27 114.87 137.35)" fill="#F5E4C6" stroke="#333" stroke-width="0.5"/>
<polyline points="116.04,138.84 117.95,139.43 118.25,141.61" fill="none" stroke="#555" stroke-width="0.4"/>
<ellipse cx="162" cy="98.6" rx="2.4" ry="1.35" transform="rotate(90 162 98.6)" fill="#fff" stroke="#2a2a2a" stroke-width="0.45"/>
<ellipse cx="159.4" cy="98.6" rx="2.4" ry="1.35" transform="rotate(90 159.4 98.6)" fill="#fff" stroke="#2a2a2a" stroke-width="0.45"/>
<ellipse cx="162" cy="103.3" rx="2.4" ry="1.35" transform="rotate(90 162 103.3)" fill="#fff" stroke="#2a2a2a" stroke-width="0.45"/>
<ellipse cx="159.4" cy="103.3" rx="2.4" ry="1.35" transform="rotate(90 159.4 103.3)" fill="#fff" stroke="#2a2a2a" stroke-width="0.45"/>
<ellipse cx="156.37" cy="93.63" rx="2.5" ry="1.45" transform="rotate(217 156.37 93.63)" fill="#fff" stroke="#2a2a2a" stroke-width="0.45"/>
<ellipse cx="158" cy="91.47" rx="2.5" ry="1.45" transform="rotate(217 158 91.47)" fill="#fff" stroke="#2a2a2a" stroke-width="0.45"/>
<ellipse cx="152.84" cy="90.84" rx="2.4" ry="1.4" transform="rotate(217 152.84 90.84)" fill="#6A2A9E" stroke="#2a2a2a" stroke-width="0.45"/>
<ellipse cx="154.34" cy="88.85" rx="2.4" ry="1.4" transform="rotate(217 154.34 88.85)" fill="#6A2A9E" stroke="#2a2a2a" stroke-width="0.45"/>
<ellipse cx="163.4" cy="91.47" rx="2.5" ry="1.45" transform="rotate(323 163.4 91.47)" fill="#fff" stroke="#2a2a2a" stroke-width="0.45"/>
<ellipse cx="165.03" cy="93.63" rx="2.5" ry="1.45" transform="rotate(323 165.03 93.63)" fill="#fff" stroke="#2a2a2a" stroke-width="0.45"/>
<ellipse cx="167.06" cy="88.85" rx="2.4" ry="1.4" transform="rotate(323 167.06 88.85)" fill="#92CB55" stroke="#2a2a2a" stroke-width="0.45"/>
<ellipse cx="168.56" cy="90.84" rx="2.4" ry="1.4" transform="rotate(323 168.56 90.84)" fill="#92CB55" stroke="#2a2a2a" stroke-width="0.45"/>
<ellipse cx="137.89" cy="77.85" rx="2.4" ry="1.35" transform="rotate(208 137.89 77.85)" fill="#fff" stroke="#2a2a2a" stroke-width="0.45"/>
<ellipse cx="139.11" cy="75.56" rx="2.4" ry="1.35" transform="rotate(208 139.11 75.56)" fill="#fff" stroke="#2a2a2a" stroke-width="0.45"/>
<ellipse cx="133.74" cy="75.65" rx="2.4" ry="1.35" transform="rotate(208 133.74 75.65)" fill="#fff" stroke="#2a2a2a" stroke-width="0.45"/>
<ellipse cx="134.96" cy="73.35" rx="2.4" ry="1.35" transform="rotate(208 134.96 73.35)" fill="#fff" stroke="#2a2a2a" stroke-width="0.45"/>
<ellipse cx="143.66" cy="82.36" rx="2.5" ry="1.45" transform="rotate(79 143.66 82.36)" fill="#fff" stroke="#2a2a2a" stroke-width="0.45"/>
<ellipse cx="141.01" cy="82.88" rx="2.5" ry="1.45" transform="rotate(79 141.01 82.88)" fill="#fff" stroke="#2a2a2a" stroke-width="0.45"/>
<ellipse cx="144.43" cy="86.8" rx="2.4" ry="1.4" transform="rotate(79 144.43 86.8)" fill="#92CB55" stroke="#2a2a2a" stroke-width="0.45"/>
<ellipse cx="141.97" cy="87.27" rx="2.4" ry="1.4" transform="rotate(79 141.97 87.27)" fill="#92CB55" stroke="#2a2a2a" stroke-width="0.45"/>
<ellipse cx="144.39" cy="74.72" rx="2.5" ry="1.45" transform="rotate(326 144.39 74.72)" fill="#fff" stroke="#2a2a2a" stroke-width="0.45"/>
<ellipse cx="145.9" cy="76.96" rx="2.5" ry="1.45" transform="rotate(326 145.9 76.96)" fill="#fff" stroke="#2a2a2a" stroke-width="0.45"/>
<ellipse cx="148.18" cy="72.29" rx="2.4" ry="1.4" transform="rotate(326 148.18 72.29)" fill="#6A2A9E" stroke="#2a2a2a" stroke-width="0.45"/>
<ellipse cx="149.58" cy="74.36" rx="2.4" ry="1.4" transform="rotate(326 149.58 74.36)" fill="#6A2A9E" stroke="#2a2a2a" stroke-width="0.45"/>
<ellipse cx="170.39" cy="67.74" rx="2.4" ry="1.35" transform="rotate(-26 170.39 67.74)" fill="#fff" stroke="#2a2a2a" stroke-width="0.45"/>
<ellipse cx="171.53" cy="70.08" rx="2.4" ry="1.35" transform="rotate(-26 171.53 70.08)" fill="#fff" stroke="#2a2a2a" stroke-width="0.45"/>
<ellipse cx="174.61" cy="65.68" rx="2.4" ry="1.35" transform="rotate(-26 174.61 65.68)" fill="#fff" stroke="#2a2a2a" stroke-width="0.45"/>
<ellipse cx="175.75" cy="68.02" rx="2.4" ry="1.35" transform="rotate(-26 175.75 68.02)" fill="#fff" stroke="#2a2a2a" stroke-width="0.45"/>
<ellipse cx="168.7" cy="74.93" rx="2.5" ry="1.45" transform="rotate(97 168.7 74.93)" fill="#fff" stroke="#2a2a2a" stroke-width="0.45"/>
<ellipse cx="166.02" cy="74.6" rx="2.5" ry="1.45" transform="rotate(97 166.02 74.6)" fill="#fff" stroke="#2a2a2a" stroke-width="0.45"/>
<ellipse cx="168.06" cy="79.39" rx="2.4" ry="1.4" transform="rotate(97 168.06 79.39)" fill="#6A2A9E" stroke="#2a2a2a" stroke-width="0.45"/>
<ellipse cx="165.57" cy="79.08" rx="2.4" ry="1.4" transform="rotate(97 165.57 79.08)" fill="#6A2A9E" stroke="#2a2a2a" stroke-width="0.45"/>
<ellipse cx="163.32" cy="69.92" rx="2.5" ry="1.45" transform="rotate(203 163.32 69.92)" fill="#fff" stroke="#2a2a2a" stroke-width="0.45"/>
<ellipse cx="164.38" cy="67.44" rx="2.5" ry="1.45" transform="rotate(203 164.38 67.44)" fill="#fff" stroke="#2a2a2a" stroke-width="0.45"/>
<ellipse cx="159.22" cy="68.07" rx="2.4" ry="1.4" transform="rotate(203 159.22 68.07)" fill="#92CB55" stroke="#2a2a2a" stroke-width="0.45"/>
<ellipse cx="160.2" cy="65.77" rx="2.4" ry="1.4" transform="rotate(203 160.2 65.77)" fill="#92CB55" stroke="#2a2a2a" stroke-width="0.45"/>
<ellipse cx="152.5" cy="88.3" rx="1.9" ry="1.3" transform="rotate(151 152.5 88.3)" fill="#F5E4C6" stroke="#333" stroke-width="0.5"/>
<ellipse cx="149.01" cy="88.54" rx="1.9" ry="1.3" transform="rotate(201 149.01 88.54)" fill="#F5E4C6" stroke="#333" stroke-width="0.5"/>
<ellipse cx="145.52" cy="88.79" rx="1.9" ry="1.3" transform="rotate(151 145.52 88.79)" fill="#F5E4C6" stroke="#333" stroke-width="0.5"/>
<ellipse cx="142.03" cy="89.03" rx="1.9" ry="1.3" transform="rotate(201 142.03 89.03)" fill="#F5E4C6" stroke="#333" stroke-width="0.5"/>
<polyline points="140.13,89.16 138.58,90.42 136.6,89.46" fill="none" stroke="#555" stroke-width="0.4"/>
<ellipse cx="166.2" cy="82.5" rx="1.9" ry="1.3" transform="rotate(33 166.2 82.5)" fill="#F5E4C6" stroke="#333" stroke-width="0.5"/>
<ellipse cx="168.05" cy="85.47" rx="1.9" ry="1.3" transform="rotate(83 168.05 85.47)" fill="#F5E4C6" stroke="#333" stroke-width="0.5"/>
<ellipse cx="169.91" cy="88.44" rx="1.9" ry="1.3" transform="rotate(33 169.91 88.44)" fill="#F5E4C6" stroke="#333" stroke-width="0.5"/>
<ellipse cx="171.76" cy="91.4" rx="1.9" ry="1.3" transform="rotate(83 171.76 91.4)" fill="#F5E4C6" stroke="#333" stroke-width="0.5"/>
<polyline points="172.77,93.02 174.61,93.8 174.69,96" fill="none" stroke="#555" stroke-width="0.4"/>
<text x="344" y="12.8" font-size="14" font-weight="bold">b</text>
<rect x="398.73" y="68.42" width="0.9" height="3.68" fill="#F9D3A6"/>
<rect x="400.36" y="63.31" width="0.9" height="8.79" fill="#F9D3A6"/>
<rect x="401.98" y="53.13" width="0.9" height="18.97" fill="#F9D3A6"/>
<rect x="403.61" y="46.77" width="0.9" height="25.33" fill="#F9D3A6"/>
<rect x="405.23" y="50.11" width="0.9" height="21.99" fill="#F9D3A6"/>
<rect x="406.86" y="54.37" width="0.9" height="17.73" fill="#F9D3A6"/>
<rect x="408.49" y="53.88" width="0.9" height="18.22" fill="#F9D3A6"/>
<rect x="410.11" y="59.93" width="0.9" height="12.17" fill="#F9D3A6"/>
<rect x="411.74" y="63.42" width="0.9" height="8.68" fill="#F9D3A6"/>
<rect x="413.36" y="67.14" width="0.9" height="4.96" fill="#F9D3A6"/>
<rect x="414.99" y="66.67" width="0.9" height="5.43" fill="#F9D3A6"/>
<rect x="416.62" y="67.63" width="0.9" height="4.47" fill="#F9D3A6"/>
<rect x="418.24" y="67.16" width="0.9" height="4.94" fill="#F9D3A6"/>
<rect x="419.87" y="68.98" width="0.9" height="3.12" fill="#F9D3A6"/>
<rect x="421.49" y="68.69" width="0.9" height="3.41" fill="#F9D3A6"/>
<rect x="423.12" y="67.03" width="0.9" height="5.07" fill="#F9D3A6"/>
<rect x="424.75" y="68.96" width="0.9" height="3.14" fill="#F9D3A6"/>
<rect x="426.37" y="68.21" width="0.9" height="3.89" fill="#F9D3A6"/>
<rect x="428" y="61.06" width="0.9" height="11.04" fill="#F9D3A6"/>
<rect x="429.62" y="56.94" width="0.9" height="15.16" fill="#F9D3A6"/>
<rect x="431.25" y="47.65" width="0.9" height="24.45" fill="#F9D3A6"/>
<rect x="432.88" y="36" width="0.9" height="36.1" fill="#F9D3A6"/>
<rect x="434.5" y="35.97" width="0.9" height="36.13" fill="#F9D3A6"/>
<rect x="436.13" y="27.32" width="0.9" height="44.78" fill="#F9D3A6"/>
<rect x="437.75" y="31.62" width="0.9" height="40.48" fill="#F9D3A6"/>
<rect x="439.38" y="31.98" width="0.9" height="40.12" fill="#F9D3A6"/>
<rect x="441.01" y="31.03" width="0.9" height="41.07" fill="#F9D3A6"/>
<rect x="442.63" y="44.7" width="0.9" height="27.4" fill="#F9D3A6"/>
<rect x="444.26" y="47.07" width="0.9" height="25.03" fill="#F9D3A6"/>
<rect x="445.88" y="52.29" width="0.9" height="19.81" fill="#F9D3A6"/>
<rect x="447.51" y="38.92" width="0.9" height="33.18" fill="#F9D3A6"/>
<rect x="449.14" y="40.81" width="0.9" height="31.29" fill="#F9D3A6"/>
<rect x="450.76" y="47" width="0.9" height="25.1" fill="#F9D3A6"/>
<rect x="452.39" y="59.13" width="0.9" height="12.97" fill="#F9D3A6"/>
<rect x="454.01" y="64.08" width="0.9" height="8.02" fill="#F9D3A6"/>
<rect x="455.64" y="68.14" width="0.9" height="3.96" fill="#F9D3A6"/>
<rect x="457.27" y="71.12" width="0.9" height="0.98" fill="#F9D3A6"/>
<rect x="458.89" y="71.34" width="0.9" height="0.76" fill="#F9D3A6"/>
<rect x="460.52" y="71.23" width="0.9" height="0.87" fill="#F9D3A6"/>
<rect x="462.14" y="71.14" width="0.9" height="0.96" fill="#F9D3A6"/>
<rect x="463.77" y="70.85" width="0.9" height="1.25" fill="#F9D3A6"/>
<rect x="465.4" y="70.79" width="0.9" height="1.31" fill="#F9D3A6"/>
<rect x="467.02" y="70.83" width="0.9" height="1.27" fill="#F9D3A6"/>
<rect x="468.65" y="70.67" width="0.9" height="1.43" fill="#F9D3A6"/>
<rect x="470.27" y="71.18" width="0.9" height="0.92" fill="#F9D3A6"/>
<rect x="471.9" y="70.56" width="0.9" height="1.54" fill="#F9D3A6"/>
<rect x="473.53" y="70.46" width="0.9" height="1.64" fill="#F9D3A6"/>
<rect x="475.15" y="69.11" width="0.9" height="2.99" fill="#F9D3A6"/>
<rect x="476.78" y="69.39" width="0.9" height="2.71" fill="#F9D3A6"/>
<rect x="478.4" y="66.69" width="0.9" height="5.41" fill="#F9D3A6"/>
<rect x="480.03" y="58.7" width="0.9" height="13.4" fill="#F9D3A6"/>
<rect x="481.66" y="53.53" width="0.9" height="18.57" fill="#F9D3A6"/>
<rect x="483.28" y="55.75" width="0.9" height="16.35" fill="#F9D3A6"/>
<rect x="484.91" y="39.12" width="0.9" height="32.98" fill="#F9D3A6"/>
<rect x="486.53" y="45.11" width="0.9" height="26.99" fill="#F9D3A6"/>
<rect x="488.16" y="29.5" width="0.9" height="42.6" fill="#F9D3A6"/>
<rect x="489.79" y="26.49" width="0.9" height="45.61" fill="#F9D3A6"/>
<rect x="491.41" y="45.54" width="0.9" height="26.56" fill="#F9D3A6"/>
<rect x="493.04" y="52.19" width="0.9" height="19.91" fill="#F9D3A6"/>
<rect x="494.66" y="48.24" width="0.9" height="23.86" fill="#F9D3A6"/>
<rect x="496.29" y="47.48" width="0.9" height="24.62" fill="#F9D3A6"/>
<rect x="497.92" y="54.54" width="0.9" height="17.56" fill="#F9D3A6"/>
<rect x="499.54" y="64.32" width="0.9" height="7.78" fill="#F9D3A6"/>
<rect x="501.17" y="64.3" width="0.9" height="7.8" fill="#F9D3A6"/>
<rect x="502.79" y="62.63" width="0.9" height="9.47" fill="#F9D3A6"/>
<rect x="504.42" y="64.69" width="0.9" height="7.41" fill="#F9D3A6"/>
<rect x="506.05" y="64.93" width="0.9" height="7.17" fill="#F9D3A6"/>
<rect x="507.67" y="66.84" width="0.9" height="5.26" fill="#F9D3A6"/>
<rect x="509.3" y="70.24" width="0.9" height="1.86" fill="#F9D3A6"/>
<rect x="510.92" y="70.78" width="0.9" height="1.32" fill="#F9D3A6"/>
<rect x="512.55" y="71.11" width="0.9" height="0.99" fill="#F9D3A6"/>
<rect x="514.18" y="71.09" width="0.9" height="1.01" fill="#F9D3A6"/>
<rect x="515.8" y="71" width="0.9" height="1.1" fill="#F9D3A6"/>
<rect x="517.43" y="71.38" width="0.9" height="0.72" fill="#F9D3A6"/>
<rect x="519.05" y="71.12" width="0.9" height="0.98" fill="#F9D3A6"/>
<rect x="520.68" y="71.44" width="0.9" height="0.66" fill="#F9D3A6"/>
<rect x="522.31" y="71.26" width="0.9" height="0.84" fill="#F9D3A6"/>
<rect x="523.93" y="71.46" width="0.9" height="0.64" fill="#F9D3A6"/>
<rect x="525.56" y="71.22" width="0.9" height="0.88" fill="#F9D3A6"/>
<rect x="527.18" y="69.96" width="0.9" height="2.14" fill="#F9D3A6"/>
<rect x="528.81" y="70.04" width="0.9" height="2.06" fill="#F9D3A6"/>
<rect x="530.44" y="68.82" width="0.9" height="3.28" fill="#F9D3A6"/>
<rect x="532.06" y="66.23" width="0.9" height="5.87" fill="#F9D3A6"/>
<rect x="533.69" y="67.29" width="0.9" height="4.81" fill="#F9D3A6"/>
<rect x="535.31" y="62.49" width="0.9" height="9.61" fill="#F9D3A6"/>
<rect x="536.94" y="61.67" width="0.9" height="10.43" fill="#F9D3A6"/>
<rect x="538.57" y="63.3" width="0.9" height="8.8" fill="#F9D3A6"/>
<rect x="540.19" y="62.99" width="0.9" height="9.11" fill="#F9D3A6"/>
<rect x="541.82" y="61.91" width="0.9" height="10.19" fill="#F9D3A6"/>
<rect x="543.44" y="67.73" width="0.9" height="4.37" fill="#F9D3A6"/>
<rect x="545.07" y="66.01" width="0.9" height="6.09" fill="#F9D3A6"/>
<rect x="546.7" y="67.19" width="0.9" height="4.91" fill="#F9D3A6"/>
<rect x="548.32" y="69.35" width="0.9" height="2.75" fill="#F9D3A6"/>
<rect x="549.95" y="69.37" width="0.9" height="2.73" fill="#F9D3A6"/>
<rect x="551.57" y="70.33" width="0.9" height="1.77" fill="#F9D3A6"/>
<rect x="553.2" y="70.96" width="0.9" height="1.14" fill="#F9D3A6"/>
<rect x="554.83" y="71.53" width="0.9" height="0.57" fill="#F9D3A6"/>
<rect x="556.45" y="71.89" width="0.9" height="0.21" fill="#F9D3A6"/>
<rect x="558.08" y="71.84" width="0.9" height="0.26" fill="#F9D3A6"/>
<rect x="559.7" y="71.89" width="0.9" height="0.21" fill="#F9D3A6"/>
<rect x="561.33" y="71.86" width="0.9" height="0.24" fill="#F9D3A6"/>
<rect x="562.96" y="71.87" width="0.9" height="0.23" fill="#F9D3A6"/>
<rect x="564.58" y="71.94" width="0.9" height="0.16" fill="#F9D3A6"/>
<rect x="566.21" y="71.87" width="0.9" height="0.23" fill="#F9D3A6"/>
<rect x="567.83" y="71.89" width="0.9" height="0.21" fill="#F9D3A6"/>
<rect x="569.46" y="71.93" width="0.9" height="0.17" fill="#F9D3A6"/>
<rect x="571.09" y="71.83" width="0.9" height="0.27" fill="#F9D3A6"/>
<rect x="572.71" y="71.83" width="0.9" height="0.27" fill="#F9D3A6"/>
<rect x="574.34" y="71.94" width="0.9" height="0.16" fill="#F9D3A6"/>
<rect x="575.96" y="71.92" width="0.9" height="0.18" fill="#F9D3A6"/>
<rect x="577.59" y="71.84" width="0.9" height="0.26" fill="#F9D3A6"/>
<rect x="579.22" y="71.83" width="0.9" height="0.27" fill="#F9D3A6"/>
<rect x="580.84" y="71.5" width="0.9" height="0.6" fill="#F9D3A6"/>
<rect x="582.47" y="71.18" width="0.9" height="0.92" fill="#F9D3A6"/>
<rect x="584.09" y="70.11" width="0.9" height="1.99" fill="#F9D3A6"/>
<rect x="585.72" y="70.96" width="0.9" height="1.14" fill="#F9D3A6"/>
<rect x="587.35" y="70.92" width="0.9" height="1.18" fill="#F9D3A6"/>
<rect x="588.97" y="70.68" width="0.9" height="1.42" fill="#F9D3A6"/>
<rect x="590.6" y="70.54" width="0.9" height="1.56" fill="#F9D3A6"/>
<rect x="592.22" y="70.29" width="0.9" height="1.81" fill="#F9D3A6"/>
<rect x="593.85" y="70.29" width="0.9" height="1.81" fill="#F9D3A6"/>
<rect x="595.48" y="71.16" width="0.9" height="0.94" fill="#F9D3A6"/>
<rect x="597.1" y="70.93" width="0.9" height="1.17" fill="#F9D3A6"/>
<rect x="598.73" y="71.58" width="0.9" height="0.52" fill="#F9D3A6"/>
<rect x="600.35" y="71.87" width="0.9" height="0.23" fill="#F9D3A6"/>
<line x1="390.6" y1="18.9" x2="390.6" y2="72.5" stroke="#000" stroke-width="0.8"/>
<line x1="390.2" y1="72.1" x2="662" y2="72.1" stroke="#000" stroke-width="0.8"/>
<line x1="388.1" y1="72.1" x2="390.6" y2="72.1" stroke="#000" stroke-width="0.8"/>
<text font-size="9.35" transform="translate(384.2 75.2) scale(0.92 1)" text-anchor="end">0</text>
<line x1="388.1" y1="58.9" x2="390.6" y2="58.9" stroke="#000" stroke-width="0.8"/>
<text font-size="9.35" transform="translate(384.2 62) scale(0.92 1)" text-anchor="end">1</text>
<line x1="388.1" y1="45.7" x2="390.6" y2="45.7" stroke="#000" stroke-width="0.8"/>
<text font-size="9.35" transform="translate(384.2 48.8) scale(0.92 1)" text-anchor="end">2</text>
<line x1="388.1" y1="32.5" x2="390.6" y2="32.5" stroke="#000" stroke-width="0.8"/>
<text font-size="9.35" transform="translate(384.2 35.6) scale(0.92 1)" text-anchor="end">3</text>
<line x1="388.1" y1="19.3" x2="390.6" y2="19.3" stroke="#000" stroke-width="0.8"/>
<text font-size="9.35" transform="translate(384.2 22.4) scale(0.92 1)" text-anchor="end">4</text>
<line x1="390.6" y1="72.1" x2="390.6" y2="74.6" stroke="#000" stroke-width="0.8"/>
<text font-size="9.35" transform="translate(393.7 77.5) rotate(-90) scale(0.92 1)" text-anchor="end">0</text>
<line x1="404.15" y1="72.1" x2="404.15" y2="74.6" stroke="#000" stroke-width="0.8"/>
<text font-size="9.35" transform="translate(407.25 77.5) rotate(-90) scale(0.92 1)" text-anchor="end">50</text>
<line x1="417.7" y1="72.1" x2="417.7" y2="74.6" stroke="#000" stroke-width="0.8"/>
<text font-size="9.35" transform="translate(420.8 77.5) rotate(-90) scale(0.92 1)" text-anchor="end">100</text>
<line x1="431.25" y1="72.1" x2="431.25" y2="74.6" stroke="#000" stroke-width="0.8"/>
<text font-size="9.35" transform="translate(434.35 77.5) rotate(-90) scale(0.92 1)" text-anchor="end">150</text>
<line x1="444.8" y1="72.1" x2="444.8" y2="74.6" stroke="#000" stroke-width="0.8"/>
<text font-size="9.35" transform="translate(447.9 77.5) rotate(-90) scale(0.92 1)" text-anchor="end">200</text>
<line x1="458.35" y1="72.1" x2="458.35" y2="74.6" stroke="#000" stroke-width="0.8"/>
<text font-size="9.35" transform="translate(461.45 77.5) rotate(-90) scale(0.92 1)" text-anchor="end">250</text>
<line x1="471.9" y1="72.1" x2="471.9" y2="74.6" stroke="#000" stroke-width="0.8"/>
<text font-size="9.35" transform="translate(475 77.5) rotate(-90) scale(0.92 1)" text-anchor="end">300</text>
<line x1="485.45" y1="72.1" x2="485.45" y2="74.6" stroke="#000" stroke-width="0.8"/>
<text font-size="9.35" transform="translate(488.55 77.5) rotate(-90) scale(0.92 1)" text-anchor="end">350</text>
<line x1="499" y1="72.1" x2="499" y2="74.6" stroke="#000" stroke-width="0.8"/>
<text font-size="9.35" transform="translate(502.1 77.5) rotate(-90) scale(0.92 1)" text-anchor="end">400</text>
<line x1="512.55" y1="72.1" x2="512.55" y2="74.6" stroke="#000" stroke-width="0.8"/>
<text font-size="9.35" transform="translate(515.65 77.5) rotate(-90) scale(0.92 1)" text-anchor="end">450</text>
<line x1="526.1" y1="72.1" x2="526.1" y2="74.6" stroke="#000" stroke-width="0.8"/>
<text font-size="9.35" transform="translate(529.2 77.5) rotate(-90) scale(0.92 1)" text-anchor="end">500</text>
<line x1="539.65" y1="72.1" x2="539.65" y2="74.6" stroke="#000" stroke-width="0.8"/>
<text font-size="9.35" transform="translate(542.75 77.5) rotate(-90) scale(0.92 1)" text-anchor="end">550</text>
<line x1="553.2" y1="72.1" x2="553.2" y2="74.6" stroke="#000" stroke-width="0.8"/>
<text font-size="9.35" transform="translate(556.3 77.5) rotate(-90) scale(0.92 1)" text-anchor="end">600</text>
<line x1="566.75" y1="72.1" x2="566.75" y2="74.6" stroke="#000" stroke-width="0.8"/>
<text font-size="9.35" transform="translate(569.85 77.5) rotate(-90) scale(0.92 1)" text-anchor="end">650</text>
<line x1="580.3" y1="72.1" x2="580.3" y2="74.6" stroke="#000" stroke-width="0.8"/>
<text font-size="9.35" transform="translate(583.4 77.5) rotate(-90) scale(0.92 1)" text-anchor="end">700</text>
<line x1="593.85" y1="72.1" x2="593.85" y2="74.6" stroke="#000" stroke-width="0.8"/>
<text font-size="9.35" transform="translate(596.95 77.5) rotate(-90) scale(0.92 1)" text-anchor="end">750</text>
<line x1="607.4" y1="72.1" x2="607.4" y2="74.6" stroke="#000" stroke-width="0.8"/>
<text font-size="9.35" transform="translate(610.5 77.5) rotate(-90) scale(0.92 1)" text-anchor="end">800</text>
<line x1="620.95" y1="72.1" x2="620.95" y2="74.6" stroke="#000" stroke-width="0.8"/>
<text font-size="9.35" transform="translate(624.05 77.5) rotate(-90) scale(0.92 1)" text-anchor="end">850</text>
<line x1="634.5" y1="72.1" x2="634.5" y2="74.6" stroke="#000" stroke-width="0.8"/>
<text font-size="9.35" transform="translate(637.6 77.5) rotate(-90) scale(0.92 1)" text-anchor="end">900</text>
<line x1="648.05" y1="72.1" x2="648.05" y2="74.6" stroke="#000" stroke-width="0.8"/>
<text font-size="9.35" transform="translate(651.15 77.5) rotate(-90) scale(0.92 1)" text-anchor="end">950</text>
<line x1="661.6" y1="72.1" x2="661.6" y2="74.6" stroke="#000" stroke-width="0.8"/>
<text font-size="9.35" transform="translate(664.7 77.5) rotate(-90) scale(0.92 1)" text-anchor="end">1000</text>
<text font-size="8.7" transform="translate(526.1 100.6) scale(0.92 1)" text-anchor="middle">Mass (kDa)</text>
<text font-size="9.02" transform="translate(375.4 46) rotate(-90) scale(0.92 1)" text-anchor="middle">Incidence (%)</text>
<text x="598.5" y="12.7" font-size="10.8" text-anchor="end" font-weight="bold">Bp109-96</text>
<text font-size="8.7" transform="translate(395.6 10.6) scale(0.92 1)">180 kDa</text>
<text font-size="8.7" transform="translate(395.6 20.3) scale(0.92 1)">1:1</text>
<text font-size="8.7" transform="translate(440.2 10.6) scale(0.92 1)">220 kDa</text>
<text font-size="8.7" transform="translate(450.1 20.3) scale(0.92 1)">1:2</text>
<text font-size="8.7" transform="translate(494 31.5) scale(0.92 1)">370 kDa</text>
<text font-size="8.7" transform="translate(494 41.4) scale(0.92 1)">2:2</text>
<text font-size="8.7" transform="translate(529.6 44.7) scale(0.92 1)">550 kDa</text>
<text font-size="8.7" transform="translate(529.6 55) scale(0.92 1)">3:3</text>
<text font-size="8.7" transform="translate(580.9 53.4) scale(0.92 1)">730 kDa</text>
<text font-size="8.7" transform="translate(580.9 63.3) scale(0.92 1)">4:4</text>
<line x1="420.4" y1="18" x2="428" y2="25.6" stroke="#000" stroke-width="0.8"/>
<polygon points="430.9,28.5 426.16,26.73 429.13,23.76" fill="#000"/>
<line x1="453" y1="24.2" x2="450.94" y2="29.66" stroke="#000" stroke-width="0.8"/>
<polygon points="449.5,33.5 449.15,28.46 453.09,29.93" fill="#000"/>
<text x="343.2" y="113.9" font-size="14.4" font-weight="bold">c</text>
<rect x="397.6" y="175.39" width="0.95" height="1.01" fill="#EEA6E8"/>
<rect x="399.26" y="172.99" width="0.95" height="3.41" fill="#EEA6E8"/>
<rect x="400.92" y="168.1" width="0.95" height="8.3" fill="#EEA6E8"/>
<rect x="402.58" y="146.06" width="0.95" height="30.34" fill="#EEA6E8"/>
<rect x="404.24" y="142.58" width="0.95" height="33.82" fill="#EEA6E8"/>
<rect x="405.9" y="151.55" width="0.95" height="24.85" fill="#EEA6E8"/>
<rect x="407.56" y="155.01" width="0.95" height="21.39" fill="#EEA6E8"/>
<rect x="409.22" y="156.74" width="0.95" height="19.66" fill="#EEA6E8"/>
<rect x="410.87" y="162.79" width="0.95" height="13.61" fill="#EEA6E8"/>
<rect x="412.53" y="166.82" width="0.95" height="9.58" fill="#EEA6E8"/>
<rect x="414.19" y="166.46" width="0.95" height="9.94" fill="#EEA6E8"/>
<rect x="415.85" y="168.34" width="0.95" height="8.06" fill="#EEA6E8"/>
<rect x="417.51" y="167.31" width="0.95" height="9.09" fill="#EEA6E8"/>
<rect x="419.17" y="167.56" width="0.95" height="8.84" fill="#EEA6E8"/>
<rect x="420.83" y="168.16" width="0.95" height="8.24" fill="#EEA6E8"/>
<rect x="422.49" y="161.94" width="0.95" height="14.46" fill="#EEA6E8"/>
<rect x="424.15" y="156.82" width="0.95" height="19.58" fill="#EEA6E8"/>
<rect x="425.81" y="155.8" width="0.95" height="20.6" fill="#EEA6E8"/>
<rect x="427.47" y="148.46" width="0.95" height="27.94" fill="#EEA6E8"/>
<rect x="429.13" y="145.42" width="0.95" height="30.98" fill="#EEA6E8"/>
<rect x="430.79" y="154.23" width="0.95" height="22.17" fill="#EEA6E8"/>
<rect x="432.45" y="146.02" width="0.95" height="30.38" fill="#EEA6E8"/>
<rect x="434.11" y="141.45" width="0.95" height="34.95" fill="#EEA6E8"/>
<rect x="435.77" y="137.31" width="0.95" height="39.09" fill="#EEA6E8"/>
<rect x="437.43" y="145.23" width="0.95" height="31.17" fill="#EEA6E8"/>
<rect x="439.09" y="132.74" width="0.95" height="43.66" fill="#EEA6E8"/>
<rect x="440.75" y="145.74" width="0.95" height="30.66" fill="#EEA6E8"/>
<rect x="442.41" y="150.8" width="0.95" height="25.6" fill="#EEA6E8"/>
<rect x="444.07" y="155.64" width="0.95" height="20.76" fill="#EEA6E8"/>
<rect x="445.73" y="158.68" width="0.95" height="17.72" fill="#EEA6E8"/>
<rect x="447.39" y="157.17" width="0.95" height="19.23" fill="#EEA6E8"/>
<rect x="449.05" y="159.9" width="0.95" height="16.5" fill="#EEA6E8"/>
<rect x="450.71" y="167.94" width="0.95" height="8.46" fill="#EEA6E8"/>
<rect x="452.36" y="170.79" width="0.95" height="5.61" fill="#EEA6E8"/>
<rect x="454.02" y="172.15" width="0.95" height="4.25" fill="#EEA6E8"/>
<rect x="455.68" y="173.13" width="0.95" height="3.27" fill="#EEA6E8"/>
<rect x="457.34" y="174.58" width="0.95" height="1.82" fill="#EEA6E8"/>
<rect x="459" y="174.64" width="0.95" height="1.76" fill="#EEA6E8"/>
<rect x="460.66" y="175.06" width="0.95" height="1.34" fill="#EEA6E8"/>
<rect x="462.32" y="175.55" width="0.95" height="0.85" fill="#EEA6E8"/>
<rect x="463.98" y="175.77" width="0.95" height="0.63" fill="#EEA6E8"/>
<rect x="465.64" y="175.07" width="0.95" height="1.33" fill="#EEA6E8"/>
<rect x="467.3" y="174.58" width="0.95" height="1.82" fill="#EEA6E8"/>
<rect x="468.96" y="174.2" width="0.95" height="2.2" fill="#EEA6E8"/>
<rect x="470.62" y="174.14" width="0.95" height="2.26" fill="#EEA6E8"/>
<rect x="472.28" y="174.38" width="0.95" height="2.02" fill="#EEA6E8"/>
<rect x="473.94" y="174.69" width="0.95" height="1.71" fill="#EEA6E8"/>
<rect x="475.6" y="173.24" width="0.95" height="3.16" fill="#EEA6E8"/>
<rect x="477.26" y="169" width="0.95" height="7.4" fill="#EEA6E8"/>
<rect x="478.92" y="164.03" width="0.95" height="12.37" fill="#EEA6E8"/>
<rect x="480.58" y="157.45" width="0.95" height="18.95" fill="#EEA6E8"/>
<rect x="482.24" y="148.07" width="0.95" height="28.33" fill="#EEA6E8"/>
<rect x="483.9" y="147.27" width="0.95" height="29.13" fill="#EEA6E8"/>
<rect x="485.56" y="135.63" width="0.95" height="40.77" fill="#EEA6E8"/>
<rect x="487.22" y="134.72" width="0.95" height="41.68" fill="#EEA6E8"/>
<rect x="488.88" y="136.28" width="0.95" height="40.12" fill="#EEA6E8"/>
<rect x="490.54" y="154.16" width="0.95" height="22.24" fill="#EEA6E8"/>
<rect x="492.2" y="160.67" width="0.95" height="15.73" fill="#EEA6E8"/>
<rect x="493.85" y="165.97" width="0.95" height="10.43" fill="#EEA6E8"/>
<rect x="495.51" y="166.54" width="0.95" height="9.86" fill="#EEA6E8"/>
<rect x="497.17" y="170.84" width="0.95" height="5.56" fill="#EEA6E8"/>
<rect x="498.83" y="173.39" width="0.95" height="3.01" fill="#EEA6E8"/>
<rect x="500.49" y="173.77" width="0.95" height="2.63" fill="#EEA6E8"/>
<rect x="502.15" y="175.12" width="0.95" height="1.28" fill="#EEA6E8"/>
<rect x="503.81" y="174.77" width="0.95" height="1.63" fill="#EEA6E8"/>
<rect x="505.47" y="175.66" width="0.95" height="0.74" fill="#EEA6E8"/>
<rect x="507.13" y="175.58" width="0.95" height="0.82" fill="#EEA6E8"/>
<rect x="508.79" y="175.78" width="0.95" height="0.62" fill="#EEA6E8"/>
<rect x="510.45" y="175.64" width="0.95" height="0.76" fill="#EEA6E8"/>
<rect x="512.11" y="175.91" width="0.95" height="0.49" fill="#EEA6E8"/>
<rect x="513.77" y="175.87" width="0.95" height="0.53" fill="#EEA6E8"/>
<rect x="515.43" y="175.97" width="0.95" height="0.43" fill="#EEA6E8"/>
<rect x="517.09" y="175.91" width="0.95" height="0.49" fill="#EEA6E8"/>
<rect x="518.75" y="175.96" width="0.95" height="0.44" fill="#EEA6E8"/>
<rect x="520.41" y="175.82" width="0.95" height="0.58" fill="#EEA6E8"/>
<rect x="522.07" y="175.97" width="0.95" height="0.43" fill="#EEA6E8"/>
<rect x="523.73" y="175.89" width="0.95" height="0.51" fill="#EEA6E8"/>
<rect x="525.39" y="175.1" width="0.95" height="1.3" fill="#EEA6E8"/>
<rect x="527.05" y="175.01" width="0.95" height="1.39" fill="#EEA6E8"/>
<rect x="528.71" y="171.67" width="0.95" height="4.73" fill="#EEA6E8"/>
<rect x="530.37" y="164.99" width="0.95" height="11.41" fill="#EEA6E8"/>
<rect x="532.03" y="162.96" width="0.95" height="13.44" fill="#EEA6E8"/>
<rect x="533.69" y="164.27" width="0.95" height="12.13" fill="#EEA6E8"/>
<rect x="535.34" y="164.1" width="0.95" height="12.3" fill="#EEA6E8"/>
<rect x="537" y="169.07" width="0.95" height="7.33" fill="#EEA6E8"/>
<rect x="538.66" y="168.64" width="0.95" height="7.76" fill="#EEA6E8"/>
<rect x="540.32" y="163.94" width="0.95" height="12.46" fill="#EEA6E8"/>
<rect x="541.98" y="163.25" width="0.95" height="13.15" fill="#EEA6E8"/>
<rect x="543.64" y="167.97" width="0.95" height="8.43" fill="#EEA6E8"/>
<rect x="545.3" y="169.32" width="0.95" height="7.08" fill="#EEA6E8"/>
<rect x="546.96" y="174.08" width="0.95" height="2.32" fill="#EEA6E8"/>
<rect x="548.62" y="175.58" width="0.95" height="0.82" fill="#EEA6E8"/>
<rect x="550.28" y="175.58" width="0.95" height="0.82" fill="#EEA6E8"/>
<rect x="551.94" y="175.95" width="0.95" height="0.45" fill="#EEA6E8"/>
<rect x="553.6" y="176.29" width="0.95" height="0.11" fill="#EEA6E8"/>
<rect x="555.26" y="176.39" width="0.95" height="0.01" fill="#EEA6E8"/>
<rect x="556.92" y="176.37" width="0.95" height="0.03" fill="#EEA6E8"/>
<rect x="558.58" y="176.37" width="0.95" height="0.03" fill="#EEA6E8"/>
<rect x="560.24" y="176.35" width="0.95" height="0.05" fill="#EEA6E8"/>
<rect x="561.9" y="176.34" width="0.95" height="0.06" fill="#EEA6E8"/>
<rect x="563.56" y="176.31" width="0.95" height="0.09" fill="#EEA6E8"/>
<rect x="565.22" y="176.28" width="0.95" height="0.12" fill="#EEA6E8"/>
<rect x="566.88" y="176.28" width="0.95" height="0.12" fill="#EEA6E8"/>
<rect x="568.54" y="176.28" width="0.95" height="0.12" fill="#EEA6E8"/>
<rect x="570.2" y="176.24" width="0.95" height="0.16" fill="#EEA6E8"/>
<rect x="571.86" y="176.18" width="0.95" height="0.22" fill="#EEA6E8"/>
<rect x="573.52" y="176.17" width="0.95" height="0.23" fill="#EEA6E8"/>
<rect x="575.18" y="176.17" width="0.95" height="0.23" fill="#EEA6E8"/>
<rect x="576.83" y="176.16" width="0.95" height="0.24" fill="#EEA6E8"/>
<rect x="578.49" y="175.85" width="0.95" height="0.55" fill="#EEA6E8"/>
<rect x="580.15" y="175.57" width="0.95" height="0.83" fill="#EEA6E8"/>
<rect x="581.81" y="175.47" width="0.95" height="0.93" fill="#EEA6E8"/>
<rect x="583.47" y="175" width="0.95" height="1.4" fill="#EEA6E8"/>
<rect x="585.13" y="175.4" width="0.95" height="1" fill="#EEA6E8"/>
<rect x="586.79" y="175.28" width="0.95" height="1.12" fill="#EEA6E8"/>
<rect x="588.45" y="175.47" width="0.95" height="0.93" fill="#EEA6E8"/>
<rect x="590.11" y="175.67" width="0.95" height="0.73" fill="#EEA6E8"/>
<rect x="591.77" y="175.44" width="0.95" height="0.96" fill="#EEA6E8"/>
<rect x="593.43" y="175.82" width="0.95" height="0.58" fill="#EEA6E8"/>
<rect x="595.09" y="175.5" width="0.95" height="0.9" fill="#EEA6E8"/>
<rect x="596.75" y="175.76" width="0.95" height="0.64" fill="#EEA6E8"/>
<rect x="598.41" y="175.81" width="0.95" height="0.59" fill="#EEA6E8"/>
<rect x="600.07" y="175.83" width="0.95" height="0.57" fill="#EEA6E8"/>
<rect x="601.73" y="176.04" width="0.95" height="0.36" fill="#EEA6E8"/>
<rect x="603.39" y="176.14" width="0.95" height="0.26" fill="#EEA6E8"/>
<rect x="605.05" y="176.26" width="0.95" height="0.14" fill="#EEA6E8"/>
<rect x="606.71" y="176.38" width="0.95" height="0.02" fill="#EEA6E8"/>
<rect x="608.37" y="176.36" width="0.95" height="0.04" fill="#EEA6E8"/>
<rect x="610.03" y="176.32" width="0.95" height="0.08" fill="#EEA6E8"/>
<rect x="611.69" y="176.31" width="0.95" height="0.09" fill="#EEA6E8"/>
<rect x="613.35" y="176.22" width="0.95" height="0.18" fill="#EEA6E8"/>
<rect x="615.01" y="176.25" width="0.95" height="0.15" fill="#EEA6E8"/>
<rect x="616.67" y="176.13" width="0.95" height="0.27" fill="#EEA6E8"/>
<rect x="618.32" y="176.16" width="0.95" height="0.24" fill="#EEA6E8"/>
<rect x="619.98" y="176.03" width="0.95" height="0.37" fill="#EEA6E8"/>
<rect x="621.64" y="176.04" width="0.95" height="0.36" fill="#EEA6E8"/>
<rect x="623.3" y="175.99" width="0.95" height="0.41" fill="#EEA6E8"/>
<rect x="624.96" y="175.87" width="0.95" height="0.53" fill="#EEA6E8"/>
<rect x="626.62" y="175.98" width="0.95" height="0.42" fill="#EEA6E8"/>
<rect x="628.28" y="175.89" width="0.95" height="0.51" fill="#EEA6E8"/>
<rect x="629.94" y="175.91" width="0.95" height="0.49" fill="#EEA6E8"/>
<rect x="631.6" y="175.82" width="0.95" height="0.58" fill="#EEA6E8"/>
<rect x="633.26" y="176.11" width="0.95" height="0.29" fill="#EEA6E8"/>
<line x1="389.3" y1="121.28" x2="389.3" y2="176.8" stroke="#000" stroke-width="0.8"/>
<line x1="388.9" y1="176.4" x2="666.3" y2="176.4" stroke="#000" stroke-width="0.8"/>
<line x1="386.8" y1="176.4" x2="389.3" y2="176.4" stroke="#000" stroke-width="0.8"/>
<text font-size="9.35" transform="translate(382.9 179.5) scale(0.92 1)" text-anchor="end">0</text>
<line x1="386.8" y1="162.72" x2="389.3" y2="162.72" stroke="#000" stroke-width="0.8"/>
<text font-size="9.35" transform="translate(382.9 165.82) scale(0.92 1)" text-anchor="end">1</text>
<line x1="386.8" y1="149.04" x2="389.3" y2="149.04" stroke="#000" stroke-width="0.8"/>
<text font-size="9.35" transform="translate(382.9 152.14) scale(0.92 1)" text-anchor="end">2</text>
<line x1="386.8" y1="135.36" x2="389.3" y2="135.36" stroke="#000" stroke-width="0.8"/>
<text font-size="9.35" transform="translate(382.9 138.46) scale(0.92 1)" text-anchor="end">3</text>
<line x1="386.8" y1="121.68" x2="389.3" y2="121.68" stroke="#000" stroke-width="0.8"/>
<text font-size="9.35" transform="translate(382.9 124.78) scale(0.92 1)" text-anchor="end">4</text>
<line x1="389.3" y1="176.4" x2="389.3" y2="178.9" stroke="#000" stroke-width="0.8"/>
<text font-size="9.35" transform="translate(392.4 181.2) rotate(-90) scale(0.92 1)" text-anchor="end">0</text>
<line x1="403.13" y1="176.4" x2="403.13" y2="178.9" stroke="#000" stroke-width="0.8"/>
<text font-size="9.35" transform="translate(406.23 181.2) rotate(-90) scale(0.92 1)" text-anchor="end">50</text>
<line x1="416.96" y1="176.4" x2="416.96" y2="178.9" stroke="#000" stroke-width="0.8"/>
<text font-size="9.35" transform="translate(420.06 181.2) rotate(-90) scale(0.92 1)" text-anchor="end">100</text>
<line x1="430.79" y1="176.4" x2="430.79" y2="178.9" stroke="#000" stroke-width="0.8"/>
<text font-size="9.35" transform="translate(433.89 181.2) rotate(-90) scale(0.92 1)" text-anchor="end">150</text>
<line x1="444.62" y1="176.4" x2="444.62" y2="178.9" stroke="#000" stroke-width="0.8"/>
<text font-size="9.35" transform="translate(447.72 181.2) rotate(-90) scale(0.92 1)" text-anchor="end">200</text>
<line x1="458.45" y1="176.4" x2="458.45" y2="178.9" stroke="#000" stroke-width="0.8"/>
<text font-size="9.35" transform="translate(461.55 181.2) rotate(-90) scale(0.92 1)" text-anchor="end">250</text>
<line x1="472.28" y1="176.4" x2="472.28" y2="178.9" stroke="#000" stroke-width="0.8"/>
<text font-size="9.35" transform="translate(475.38 181.2) rotate(-90) scale(0.92 1)" text-anchor="end">300</text>
<line x1="486.11" y1="176.4" x2="486.11" y2="178.9" stroke="#000" stroke-width="0.8"/>
<text font-size="9.35" transform="translate(489.21 181.2) rotate(-90) scale(0.92 1)" text-anchor="end">350</text>
<line x1="499.94" y1="176.4" x2="499.94" y2="178.9" stroke="#000" stroke-width="0.8"/>
<text font-size="9.35" transform="translate(503.04 181.2) rotate(-90) scale(0.92 1)" text-anchor="end">400</text>
<line x1="513.77" y1="176.4" x2="513.77" y2="178.9" stroke="#000" stroke-width="0.8"/>
<text font-size="9.35" transform="translate(516.87 181.2) rotate(-90) scale(0.92 1)" text-anchor="end">450</text>
<line x1="527.6" y1="176.4" x2="527.6" y2="178.9" stroke="#000" stroke-width="0.8"/>
<text font-size="9.35" transform="translate(530.7 181.2) rotate(-90) scale(0.92 1)" text-anchor="end">500</text>
<line x1="541.43" y1="176.4" x2="541.43" y2="178.9" stroke="#000" stroke-width="0.8"/>
<text font-size="9.35" transform="translate(544.53 181.2) rotate(-90) scale(0.92 1)" text-anchor="end">550</text>
<line x1="555.26" y1="176.4" x2="555.26" y2="178.9" stroke="#000" stroke-width="0.8"/>
<text font-size="9.35" transform="translate(558.36 181.2) rotate(-90) scale(0.92 1)" text-anchor="end">600</text>
<line x1="569.09" y1="176.4" x2="569.09" y2="178.9" stroke="#000" stroke-width="0.8"/>
<text font-size="9.35" transform="translate(572.19 181.2) rotate(-90) scale(0.92 1)" text-anchor="end">650</text>
<line x1="582.92" y1="176.4" x2="582.92" y2="178.9" stroke="#000" stroke-width="0.8"/>
<text font-size="9.35" transform="translate(586.02 181.2) rotate(-90) scale(0.92 1)" text-anchor="end">700</text>
<line x1="596.75" y1="176.4" x2="596.75" y2="178.9" stroke="#000" stroke-width="0.8"/>
<text font-size="9.35" transform="translate(599.85 181.2) rotate(-90) scale(0.92 1)" text-anchor="end">750</text>
<line x1="610.58" y1="176.4" x2="610.58" y2="178.9" stroke="#000" stroke-width="0.8"/>
<text font-size="9.35" transform="translate(613.68 181.2) rotate(-90) scale(0.92 1)" text-anchor="end">800</text>
<line x1="624.41" y1="176.4" x2="624.41" y2="178.9" stroke="#000" stroke-width="0.8"/>
<text font-size="9.35" transform="translate(627.51 181.2) rotate(-90) scale(0.92 1)" text-anchor="end">850</text>
<line x1="638.24" y1="176.4" x2="638.24" y2="178.9" stroke="#000" stroke-width="0.8"/>
<text font-size="9.35" transform="translate(641.34 181.2) rotate(-90) scale(0.92 1)" text-anchor="end">900</text>
<line x1="652.07" y1="176.4" x2="652.07" y2="178.9" stroke="#000" stroke-width="0.8"/>
<text font-size="9.35" transform="translate(655.17 181.2) rotate(-90) scale(0.92 1)" text-anchor="end">950</text>
<line x1="665.9" y1="176.4" x2="665.9" y2="178.9" stroke="#000" stroke-width="0.8"/>
<text font-size="9.35" transform="translate(669 181.2) rotate(-90) scale(0.92 1)" text-anchor="end">1000</text>
<text font-size="8.7" transform="translate(527.6 203.1) scale(0.92 1)" text-anchor="middle">Mass (kDa)</text>
<text font-size="9.02" transform="translate(374.4 149.6) rotate(-90) scale(0.92 1)" text-anchor="middle">Incidence (%)</text>
<text x="592.2" y="122.9" font-size="10.8" text-anchor="end" font-weight="bold">Bp96-92</text>
<text font-size="8.7" transform="translate(393.7 118.6) scale(0.92 1)">140 kDa</text>
<text font-size="8.7" transform="translate(393.7 127.8) scale(0.92 1)">Unbound</text>
<text font-size="8.7" transform="translate(455.7 118.6) scale(0.92 1)">180 kDa</text>
<text font-size="8.7" transform="translate(455.7 127.8) scale(0.92 1)">1:1</text>
<text font-size="8.7" transform="translate(492.7 139.1) scale(0.92 1)">360 kDa</text>
<text font-size="8.7" transform="translate(492.7 148.8) scale(0.92 1)">2:2</text>
<text font-size="8.7" transform="translate(538.6 154.1) scale(0.92 1)">540 kDa</text>
<text font-size="8.7" transform="translate(538.6 164) scale(0.92 1)">3:3</text>
<text font-size="8.7" transform="translate(581.3 160.9) scale(0.92 1)">720 kDa</text>
<text font-size="8.7" transform="translate(581.3 171.3) scale(0.92 1)">4:4</text>
<line x1="412.2" y1="131.5" x2="419.66" y2="143.7" stroke="#000" stroke-width="0.8"/>
<polygon points="421.8,147.2 417.61,144.37 421.19,142.18" fill="#000"/>
<line x1="452" y1="127" x2="444.03" y2="131.71" stroke="#000" stroke-width="0.8"/>
<polygon points="440.5,133.8 443.39,129.65 445.53,133.27" fill="#000"/>
<text x="344" y="215.5" font-size="13.9" font-weight="bold">d</text>
<rect x="399.49" y="273.21" width="1" height="0.79" fill="#BDBDBD"/>
<rect x="401.12" y="272.82" width="1" height="1.18" fill="#BDBDBD"/>
<rect x="402.76" y="272.56" width="1" height="1.44" fill="#BDBDBD"/>
<rect x="404.39" y="272.36" width="1" height="1.64" fill="#BDBDBD"/>
<rect x="406.02" y="272.2" width="1" height="1.8" fill="#BDBDBD"/>
<rect x="407.65" y="272.49" width="1" height="1.51" fill="#BDBDBD"/>
<rect x="409.28" y="272.24" width="1" height="1.76" fill="#BDBDBD"/>
<rect x="410.92" y="272.65" width="1" height="1.35" fill="#BDBDBD"/>
<rect x="412.55" y="273.03" width="1" height="0.97" fill="#BDBDBD"/>
<rect x="414.18" y="273.12" width="1" height="0.88" fill="#BDBDBD"/>
<rect x="415.81" y="273.37" width="1" height="0.63" fill="#BDBDBD"/>
<rect x="417.44" y="273.09" width="1" height="0.91" fill="#BDBDBD"/>
<rect x="419.08" y="273.03" width="1" height="0.97" fill="#BDBDBD"/>
<rect x="420.71" y="272.79" width="1" height="1.21" fill="#BDBDBD"/>
<rect x="422.34" y="272.75" width="1" height="1.25" fill="#BDBDBD"/>
<rect x="423.97" y="272.61" width="1" height="1.39" fill="#BDBDBD"/>
<rect x="425.6" y="272.18" width="1" height="1.82" fill="#BDBDBD"/>
<rect x="427.24" y="271.47" width="1" height="2.53" fill="#BDBDBD"/>
<rect x="428.87" y="267.58" width="1" height="6.42" fill="#BDBDBD"/>
<rect x="430.5" y="265.55" width="1" height="8.45" fill="#BDBDBD"/>
<rect x="432.13" y="257.33" width="1" height="16.67" fill="#BDBDBD"/>
<rect x="433.76" y="241.92" width="1" height="32.08" fill="#BDBDBD"/>
<rect x="435.4" y="232.23" width="1" height="41.77" fill="#BDBDBD"/>
<rect x="437.03" y="227.55" width="1" height="46.45" fill="#BDBDBD"/>
<rect x="438.66" y="241.75" width="1" height="32.25" fill="#BDBDBD"/>
<rect x="440.29" y="245.82" width="1" height="28.18" fill="#BDBDBD"/>
<rect x="441.92" y="253.31" width="1" height="20.69" fill="#BDBDBD"/>
<rect x="443.56" y="263.93" width="1" height="10.07" fill="#BDBDBD"/>
<rect x="445.19" y="265.32" width="1" height="8.68" fill="#BDBDBD"/>
<rect x="446.82" y="268.68" width="1" height="5.32" fill="#BDBDBD"/>
<rect x="448.45" y="271.05" width="1" height="2.95" fill="#BDBDBD"/>
<rect x="450.08" y="272.19" width="1" height="1.81" fill="#BDBDBD"/>
<rect x="451.72" y="272.4" width="1" height="1.6" fill="#BDBDBD"/>
<rect x="453.35" y="273.18" width="1" height="0.82" fill="#BDBDBD"/>
<rect x="454.98" y="273.4" width="1" height="0.6" fill="#BDBDBD"/>
<rect x="456.61" y="273.57" width="1" height="0.43" fill="#BDBDBD"/>
<rect x="458.24" y="273.67" width="1" height="0.33" fill="#BDBDBD"/>
<rect x="459.88" y="273.86" width="1" height="0.14" fill="#BDBDBD"/>
<rect x="461.51" y="273.9" width="1" height="0.1" fill="#BDBDBD"/>
<rect x="463.14" y="273.95" width="1" height="0.05" fill="#BDBDBD"/>
<rect x="464.77" y="273.99" width="1" height="0.01" fill="#BDBDBD"/>
<rect x="399.49" y="267.38" width="1" height="6.62" fill="#F5ABAB"/>
<rect x="401.12" y="263.03" width="1" height="10.97" fill="#F5ABAB"/>
<rect x="402.76" y="262.35" width="1" height="11.65" fill="#F5ABAB"/>
<rect x="404.39" y="258.3" width="1" height="15.7" fill="#F5ABAB"/>
<rect x="406.02" y="260.6" width="1" height="13.4" fill="#F5ABAB"/>
<rect x="407.65" y="262.23" width="1" height="11.77" fill="#F5ABAB"/>
<rect x="409.28" y="263.91" width="1" height="10.09" fill="#F5ABAB"/>
<rect x="410.92" y="267.7" width="1" height="6.3" fill="#F5ABAB"/>
<rect x="412.55" y="270.29" width="1" height="3.71" fill="#F5ABAB"/>
<rect x="414.18" y="272.21" width="1" height="1.79" fill="#F5ABAB"/>
<rect x="415.81" y="272.35" width="1" height="1.65" fill="#F5ABAB"/>
<rect x="417.44" y="272.2" width="1" height="1.8" fill="#F5ABAB"/>
<rect x="419.08" y="272.2" width="1" height="1.8" fill="#F5ABAB"/>
<rect x="420.71" y="272.14" width="1" height="1.86" fill="#F5ABAB"/>
<rect x="422.34" y="271.35" width="1" height="2.65" fill="#F5ABAB"/>
<rect x="423.97" y="271.09" width="1" height="2.91" fill="#F5ABAB"/>
<rect x="425.6" y="270.94" width="1" height="3.06" fill="#F5ABAB"/>
<rect x="427.24" y="270.78" width="1" height="3.22" fill="#F5ABAB"/>
<rect x="428.87" y="268.27" width="1" height="5.73" fill="#F5ABAB"/>
<rect x="430.5" y="262.55" width="1" height="11.45" fill="#F5ABAB"/>
<rect x="432.13" y="260.17" width="1" height="13.83" fill="#F5ABAB"/>
<rect x="433.76" y="248.11" width="1" height="25.89" fill="#F5ABAB"/>
<rect x="435.4" y="248.69" width="1" height="25.31" fill="#F5ABAB"/>
<rect x="437.03" y="242.86" width="1" height="31.14" fill="#F5ABAB"/>
<rect x="438.66" y="246.33" width="1" height="27.67" fill="#F5ABAB"/>
<rect x="440.29" y="252.24" width="1" height="21.76" fill="#F5ABAB"/>
<rect x="441.92" y="259.9" width="1" height="14.1" fill="#F5ABAB"/>
<rect x="443.56" y="266.14" width="1" height="7.86" fill="#F5ABAB"/>
<rect x="445.19" y="267.81" width="1" height="6.19" fill="#F5ABAB"/>
<rect x="446.82" y="270.47" width="1" height="3.53" fill="#F5ABAB"/>
<rect x="448.45" y="271.45" width="1" height="2.55" fill="#F5ABAB"/>
<rect x="450.08" y="272.23" width="1" height="1.77" fill="#F5ABAB"/>
<rect x="451.72" y="272.72" width="1" height="1.28" fill="#F5ABAB"/>
<rect x="453.35" y="272.99" width="1" height="1.01" fill="#F5ABAB"/>
<rect x="454.98" y="273.31" width="1" height="0.69" fill="#F5ABAB"/>
<rect x="456.61" y="273.51" width="1" height="0.49" fill="#F5ABAB"/>
<rect x="458.24" y="273.72" width="1" height="0.28" fill="#F5ABAB"/>
<rect x="459.88" y="273.83" width="1" height="0.17" fill="#F5ABAB"/>
<rect x="461.51" y="273.88" width="1" height="0.12" fill="#F5ABAB"/>
<rect x="463.14" y="273.94" width="1" height="0.06" fill="#F5ABAB"/>
<rect x="464.77" y="273.99" width="1" height="0.01" fill="#F5ABAB"/>
<line x1="389.7" y1="220.8" x2="389.7" y2="274.4" stroke="#000" stroke-width="0.8"/>
<line x1="389.3" y1="274" x2="662.1" y2="274" stroke="#000" stroke-width="0.8"/>
<line x1="387.2" y1="274" x2="389.7" y2="274" stroke="#000" stroke-width="0.8"/>
<text font-size="9.35" transform="translate(383.3 277.1) scale(0.92 1)" text-anchor="end">0</text>
<line x1="387.2" y1="256.4" x2="389.7" y2="256.4" stroke="#000" stroke-width="0.8"/>
<text font-size="9.35" transform="translate(383.3 259.5) scale(0.92 1)" text-anchor="end">5</text>
<line x1="387.2" y1="238.8" x2="389.7" y2="238.8" stroke="#000" stroke-width="0.8"/>
<text font-size="9.35" transform="translate(383.3 241.9) scale(0.92 1)" text-anchor="end">10</text>
<line x1="387.2" y1="221.2" x2="389.7" y2="221.2" stroke="#000" stroke-width="0.8"/>
<text font-size="9.35" transform="translate(383.3 224.3) scale(0.92 1)" text-anchor="end">15</text>
<line x1="389.7" y1="274" x2="389.7" y2="276.5" stroke="#000" stroke-width="0.8"/>
<text font-size="9.35" transform="translate(392.8 279) rotate(-90) scale(0.92 1)" text-anchor="end">0</text>
<line x1="403.3" y1="274" x2="403.3" y2="276.5" stroke="#000" stroke-width="0.8"/>
<text font-size="9.35" transform="translate(406.4 279) rotate(-90) scale(0.92 1)" text-anchor="end">50</text>
<line x1="416.9" y1="274" x2="416.9" y2="276.5" stroke="#000" stroke-width="0.8"/>
<text font-size="9.35" transform="translate(420 279) rotate(-90) scale(0.92 1)" text-anchor="end">100</text>
<line x1="430.5" y1="274" x2="430.5" y2="276.5" stroke="#000" stroke-width="0.8"/>
<text font-size="9.35" transform="translate(433.6 279) rotate(-90) scale(0.92 1)" text-anchor="end">150</text>
<line x1="444.1" y1="274" x2="444.1" y2="276.5" stroke="#000" stroke-width="0.8"/>
<text font-size="9.35" transform="translate(447.2 279) rotate(-90) scale(0.92 1)" text-anchor="end">200</text>
<line x1="457.7" y1="274" x2="457.7" y2="276.5" stroke="#000" stroke-width="0.8"/>
<text font-size="9.35" transform="translate(460.8 279) rotate(-90) scale(0.92 1)" text-anchor="end">250</text>
<line x1="471.3" y1="274" x2="471.3" y2="276.5" stroke="#000" stroke-width="0.8"/>
<text font-size="9.35" transform="translate(474.4 279) rotate(-90) scale(0.92 1)" text-anchor="end">300</text>
<line x1="484.9" y1="274" x2="484.9" y2="276.5" stroke="#000" stroke-width="0.8"/>
<text font-size="9.35" transform="translate(488 279) rotate(-90) scale(0.92 1)" text-anchor="end">350</text>
<line x1="498.5" y1="274" x2="498.5" y2="276.5" stroke="#000" stroke-width="0.8"/>
<text font-size="9.35" transform="translate(501.6 279) rotate(-90) scale(0.92 1)" text-anchor="end">400</text>
<line x1="512.1" y1="274" x2="512.1" y2="276.5" stroke="#000" stroke-width="0.8"/>
<text font-size="9.35" transform="translate(515.2 279) rotate(-90) scale(0.92 1)" text-anchor="end">450</text>
<line x1="525.7" y1="274" x2="525.7" y2="276.5" stroke="#000" stroke-width="0.8"/>
<text font-size="9.35" transform="translate(528.8 279) rotate(-90) scale(0.92 1)" text-anchor="end">500</text>
<line x1="539.3" y1="274" x2="539.3" y2="276.5" stroke="#000" stroke-width="0.8"/>
<text font-size="9.35" transform="translate(542.4 279) rotate(-90) scale(0.92 1)" text-anchor="end">550</text>
<line x1="552.9" y1="274" x2="552.9" y2="276.5" stroke="#000" stroke-width="0.8"/>
<text font-size="9.35" transform="translate(556 279) rotate(-90) scale(0.92 1)" text-anchor="end">600</text>
<line x1="566.5" y1="274" x2="566.5" y2="276.5" stroke="#000" stroke-width="0.8"/>
<text font-size="9.35" transform="translate(569.6 279) rotate(-90) scale(0.92 1)" text-anchor="end">650</text>
<line x1="580.1" y1="274" x2="580.1" y2="276.5" stroke="#000" stroke-width="0.8"/>
<text font-size="9.35" transform="translate(583.2 279) rotate(-90) scale(0.92 1)" text-anchor="end">700</text>
<line x1="593.7" y1="274" x2="593.7" y2="276.5" stroke="#000" stroke-width="0.8"/>
<text font-size="9.35" transform="translate(596.8 279) rotate(-90) scale(0.92 1)" text-anchor="end">750</text>
<line x1="607.3" y1="274" x2="607.3" y2="276.5" stroke="#000" stroke-width="0.8"/>
<text font-size="9.35" transform="translate(610.4 279) rotate(-90) scale(0.92 1)" text-anchor="end">800</text>
<line x1="620.9" y1="274" x2="620.9" y2="276.5" stroke="#000" stroke-width="0.8"/>
<text font-size="9.35" transform="translate(624 279) rotate(-90) scale(0.92 1)" text-anchor="end">850</text>
<line x1="634.5" y1="274" x2="634.5" y2="276.5" stroke="#000" stroke-width="0.8"/>
<text font-size="9.35" transform="translate(637.6 279) rotate(-90) scale(0.92 1)" text-anchor="end">900</text>
<line x1="648.1" y1="274" x2="648.1" y2="276.5" stroke="#000" stroke-width="0.8"/>
<text font-size="9.35" transform="translate(651.2 279) rotate(-90) scale(0.92 1)" text-anchor="end">950</text>
<line x1="661.7" y1="274" x2="661.7" y2="276.5" stroke="#000" stroke-width="0.8"/>
<text font-size="9.35" transform="translate(664.8 279) rotate(-90) scale(0.92 1)" text-anchor="end">1000</text>
<text font-size="8.7" transform="translate(527.3 302.3) scale(0.92 1)" text-anchor="middle">Mass (kDa)</text>
<text font-size="9.02" transform="translate(370.4 248.4) rotate(-90) scale(0.92 1)" text-anchor="middle">Incidence (%)</text>
<text x="608.1" y="221.9" font-size="10.8" text-anchor="end" font-weight="bold">Bp109-92</text>
<text font-size="8.7" transform="translate(458 225.5) scale(0.92 1)">180 kDa</text>
<text font-size="8.7" transform="translate(458 236) scale(0.92 1)">1:1</text>
<line x1="454.3" y1="228.7" x2="444.95" y2="231.3" stroke="#000" stroke-width="0.8"/>
<polygon points="441,232.4 444.87,229.14 445.99,233.19" fill="#000"/>
<rect x="532.2" y="231.3" width="99.2" height="28.2" fill="#fff" stroke="#666" stroke-width="0.6"/>
<rect x="539" y="238.2" width="2.8" height="2.8" fill="#000"/>
<rect x="539" y="249.8" width="2.8" height="2.8" fill="#f00"/>
<text font-size="8.7" transform="translate(548.7 242.5) scale(0.92 1)">+1 eq.</text>
<text font-size="8.7" transform="translate(548.7 254) scale(0.92 1)">+8 eq.</text>
<path d="M575.9,235.7 Q578,235.7 578,237.5 L578,243.4 Q578,245.2 579.6,245.2 Q578,245.2 578,247 L578,253.2 Q578,255 575.9,255" fill="none" stroke="#111" stroke-width="0.6"/>
<text font-size="9.02" transform="translate(583.5 247.6) scale(0.92 1)">sTNFR2</text>
<rect x="24.3" y="327.1" width="237.5" height="3.8" fill="#C9F5C6"/>
<rect x="24.3" y="332.8" width="237.5" height="3.3" fill="#FCE5CC"/>
<rect x="24.3" y="349.2" width="237.5" height="3.7" fill="#FDD1D1"/>
<rect x="24.3" y="354.8" width="237.5" height="3.8" fill="#FCC4FC"/>
<rect x="24.3" y="360.4" width="237.5" height="3.6" fill="#CFCCF7"/>
<rect x="24.3" y="376.3" width="237.5" height="3.7" fill="#C9ECFA"/>
<rect x="24.3" y="382.3" width="237.5" height="3.4" fill="#C9F5C6"/>
<rect x="24.3" y="387.5" width="237.5" height="3.8" fill="#FCE5CC"/>
<line x1="23.8" y1="318.4" x2="23.8" y2="398.1" stroke="#000" stroke-width="0.8"/>
<line x1="23.4" y1="397.7" x2="259.8" y2="397.7" stroke="#777" stroke-width="1.1"/>
<line x1="21.3" y1="397.7" x2="23.8" y2="397.7" stroke="#000" stroke-width="0.8"/>
<text font-size="10" transform="translate(18 401) scale(0.92 1)" text-anchor="end">1</text>
<line x1="21.3" y1="381.92" x2="23.8" y2="381.92" stroke="#000" stroke-width="0.8"/>
<text font-size="10" transform="translate(18 385.22) scale(0.92 1)" text-anchor="end">2</text>
<line x1="21.3" y1="366.14" x2="23.8" y2="366.14" stroke="#000" stroke-width="0.8"/>
<text font-size="10" transform="translate(18 369.44) scale(0.92 1)" text-anchor="end">3</text>
<line x1="21.3" y1="350.36" x2="23.8" y2="350.36" stroke="#000" stroke-width="0.8"/>
<text font-size="10" transform="translate(18 353.66) scale(0.92 1)" text-anchor="end">4</text>
<line x1="21.3" y1="334.58" x2="23.8" y2="334.58" stroke="#000" stroke-width="0.8"/>
<text font-size="10" transform="translate(18 337.88) scale(0.92 1)" text-anchor="end">5</text>
<line x1="21.3" y1="318.8" x2="23.8" y2="318.8" stroke="#000" stroke-width="0.8"/>
<text font-size="10" transform="translate(18 322.1) scale(0.92 1)" text-anchor="end">6</text>
<text x="7.4" y="307.9" font-size="13.6" font-weight="bold">e</text>
<text font-size="10.43" text-anchor="middle" transform="translate(8.4 358) rotate(-90) scale(0.92 1)">Mp (×10<tspan font-size="6.74" dy="-3.6">5</tspan><tspan dy="3.6"> g/mol)</tspan></text>
<circle cx="38.7" cy="358.6" r="1.4" fill="#FF0000"/>
<circle cx="38.7" cy="361.5" r="1.4" fill="#000"/>
<circle cx="38.7" cy="390.5" r="1.45" fill="#0CA6EC"/>
<circle cx="53.45" cy="351.3" r="1.4" fill="#FF0000"/>
<circle cx="53.45" cy="359.5" r="1.4" fill="#000"/>
<circle cx="53.45" cy="390.3" r="1.45" fill="#0CA6EC"/>
<circle cx="68.2" cy="355.4" r="1.4" fill="#FF0000"/>
<circle cx="68.2" cy="378.4" r="1.4" fill="#000"/>
<circle cx="68.2" cy="390" r="1.45" fill="#0CA6EC"/>
<circle cx="82.95" cy="331.1" r="1.4" fill="#FF0000"/>
<circle cx="82.95" cy="367.7" r="1.4" fill="#000"/>
<circle cx="82.95" cy="389.6" r="1.45" fill="#0CA6EC"/>
<circle cx="97.7" cy="365.5" r="1.4" fill="#FF0000"/>
<circle cx="97.7" cy="384.3" r="1.4" fill="#000"/>
<circle cx="97.7" cy="389.4" r="1.45" fill="#0CA6EC"/>
<circle cx="112.45" cy="359.1" r="1.4" fill="#FF0000"/>
<circle cx="112.45" cy="360.2" r="1.4" fill="#000"/>
<circle cx="112.45" cy="389.6" r="1.45" fill="#0CA6EC"/>
<circle cx="127.2" cy="383.8" r="1.4" fill="#000"/>
<circle cx="127.2" cy="390" r="1.45" fill="#0CA6EC"/>
<circle cx="141.95" cy="377.6" r="1.4" fill="#000"/>
<circle cx="141.95" cy="390.1" r="1.45" fill="#0CA6EC"/>
<circle cx="156.7" cy="378.9" r="1.4" fill="#000"/>
<circle cx="156.7" cy="389.6" r="1.45" fill="#0CA6EC"/>
<circle cx="171.45" cy="379.5" r="1.4" fill="#000"/>
<circle cx="171.45" cy="389.6" r="1.45" fill="#0CA6EC"/>
<circle cx="186.2" cy="378.1" r="1.4" fill="#000"/>
<circle cx="186.2" cy="389.4" r="1.45" fill="#0CA6EC"/>
<circle cx="200.95" cy="379.1" r="1.4" fill="#000"/>
<circle cx="200.95" cy="389.6" r="1.45" fill="#0CA6EC"/>
<circle cx="215.7" cy="385.6" r="1.4" fill="#000"/>
<circle cx="215.7" cy="389.6" r="1.45" fill="#0CA6EC"/>
<circle cx="230.45" cy="384.4" r="1.4" fill="#000"/>
<circle cx="230.45" cy="389.8" r="1.45" fill="#0CA6EC"/>
<circle cx="245.2" cy="384.6" r="1.4" fill="#000"/>
<circle cx="245.2" cy="390" r="1.45" fill="#0CA6EC"/>
<text font-size="8.59" transform="translate(41.55 400.8) rotate(-90) scale(0.92 1)" text-anchor="end">Bp45-94</text>
<text font-size="8.59" transform="translate(56.3 400.8) rotate(-90) scale(0.92 1)" text-anchor="end">Bp45-96</text>
<text font-size="8.59" transform="translate(71.05 400.8) rotate(-90) scale(0.92 1)" text-anchor="end">Bp94-92</text>
<text font-size="8.59" transform="translate(85.8 400.8) rotate(-90) scale(0.92 1)" text-anchor="end">Bp96-92</text>
<line x1="87.05" y1="400.8" x2="87.05" y2="428.54" stroke="#000" stroke-width="0.5"/>
<text font-size="8.59" transform="translate(100.55 400.8) rotate(-90) scale(0.92 1)" text-anchor="end">Bp109-94</text>
<text font-size="8.59" transform="translate(115.3 400.8) rotate(-90) scale(0.92 1)" text-anchor="end">Bp109-96</text>
<line x1="116.55" y1="400.8" x2="116.55" y2="432.96" stroke="#000" stroke-width="0.5"/>
<text font-size="8.59" transform="translate(130.05 400.8) rotate(-90) scale(0.92 1)" text-anchor="end">TR94</text>
<text font-size="8.59" transform="translate(144.8 400.8) rotate(-90) scale(0.92 1)" text-anchor="end">TR96</text>
<text font-size="8.59" transform="translate(159.55 400.8) rotate(-90) scale(0.92 1)" text-anchor="end">TR92</text>
<text font-size="8.59" transform="translate(174.3 400.8) rotate(-90) scale(0.92 1)" text-anchor="end">TR45</text>
<text font-size="8.59" transform="translate(189.05 400.8) rotate(-90) scale(0.92 1)" text-anchor="end">TR109</text>
<line x1="190.3" y1="400.8" x2="190.3" y2="421.11" stroke="#000" stroke-width="0.5"/>
<text font-size="8.59" transform="translate(203.8 400.8) rotate(-90) scale(0.92 1)" text-anchor="end">Bp45-92</text>
<text font-size="8.59" transform="translate(218.55 400.8) rotate(-90) scale(0.92 1)" text-anchor="end">Bp94-96</text>
<text font-size="8.59" transform="translate(233.3 400.8) rotate(-90) scale(0.92 1)" text-anchor="end">Bp109-45</text>
<text font-size="8.59" transform="translate(248.05 400.8) rotate(-90) scale(0.92 1)" text-anchor="end">Bp109-92</text>
<line x1="249.3" y1="400.8" x2="249.3" y2="432.96" stroke="#000" stroke-width="0.5"/>
<rect x="153.3" y="319.3" width="89.4" height="43.2" fill="#fff" fill-opacity="0.88" stroke="#999" stroke-width="0.6"/>
<circle cx="162.1" cy="329.2" r="1.2" fill="#FF0000"/>
<circle cx="162.1" cy="340.9" r="1.2" fill="#000"/>
<circle cx="162.1" cy="352.6" r="1.2" fill="#1FA8E0"/>
<text font-size="8.8" transform="translate(172 332.1) scale(0.92 1)">+ 1 eq. sTNFR2</text>
<text font-size="8.8" transform="translate(172 343.8) scale(0.92 1)">+ 8 eq. sTNFR2</text>
<text font-size="8.8" transform="translate(172 355.5) scale(0.92 1)">Without sTNFR2</text>
<text font-size="8.8" transform="translate(261.2 321.6) scale(0.92 1)">Ab:Ag ratio</text>
<text font-size="9.89" transform="translate(266 331.4) scale(0.92 1)" letter-spacing="-0.33">3:3</text>
<text font-size="9.89" transform="translate(266 339.5) scale(0.92 1)" letter-spacing="-0.33">3:2</text>
<text font-size="9.89" transform="translate(266 351.6) scale(0.92 1)" letter-spacing="-0.33">2:3</text>
<text font-size="9.89" transform="translate(266 360.4) scale(0.92 1)" letter-spacing="-0.33">2:2</text>
<text font-size="9.89" transform="translate(266 368.8) scale(0.92 1)" letter-spacing="-0.33">2:1</text>
<text font-size="9.89" transform="translate(266 379.1) scale(0.92 1)" letter-spacing="-0.33">1:2</text>
<text font-size="9.89" transform="translate(266 387.2) scale(0.92 1)" letter-spacing="-0.33">1:1</text>
<text font-size="9.89" transform="translate(266 395.1) scale(0.92 1)" letter-spacing="-0.33">1:0</text>
<path d="M36.6,439.8 L117.4,439.8 L117.4,442.6 L36.6,442.6 Z" fill="#FF0000"/>
<rect x="117.6" y="440.1" width="5.8" height="2.2" fill="#fff" stroke="#FF0000" stroke-width="0.5"/>
<path d="M123.6,439.8 L227.5,441.5 L227.5,442.3 L123.6,442.8 Z" fill="#FF0000"/>
<rect x="228.6" y="441.4" width="20.3" height="0.9" fill="#FF2020"/>
<text font-size="8.97" transform="translate(50.8 452.2) scale(0.92 1)" fill="#FF0000">Strong agonists</text>
<text font-size="8.91" transform="translate(129.8 452.2) scale(0.92 1)" fill="#FF0000">Intermediate agonists</text>
<text font-size="8.97" transform="translate(213.6 452.2) scale(0.92 1)" fill="#FF0000">Non-agonists</text>
<line x1="301.1" y1="328.1" x2="283.8" y2="328.1" stroke="#000" stroke-width="0.8"/>
<polygon points="280.3,328.1 284.3,326.3 284.3,329.9" fill="#000"/>
<path d="M305.5,363.7 Q296,358.5 284.5,357" fill="none" stroke="#000" stroke-width="0.8"/>
<line x1="285" y1="357.1" x2="284.48" y2="357.04" stroke="#000" stroke-width="0.8"/>
<polygon points="281.4,356.7 285.18,355.31 284.78,358.89" fill="#000"/>
<polyline points="306.4,395.2 288.6,375.6 285.6,375.6" fill="none" stroke="#000" stroke-width="0.8"/>
<polygon points="282.1,375.6 286.1,373.8 286.1,377.4" fill="#000"/>
<polyline points="287.1,399 290.5,384 285.6,384" fill="none" stroke="#000" stroke-width="0.8"/>
<polygon points="282.1,384 286.1,382.2 286.1,385.8" fill="#000"/>
<ellipse cx="316.69" cy="314.51" rx="2.04" ry="1.15" transform="rotate(-90 316.69 314.51)" fill="#fff" stroke="#2a2a2a" stroke-width="0.45"/>
<ellipse cx="318.91" cy="314.51" rx="2.04" ry="1.15" transform="rotate(-90 318.91 314.51)" fill="#fff" stroke="#2a2a2a" stroke-width="0.45"/>
<ellipse cx="316.69" cy="310.51" rx="2.04" ry="1.15" transform="rotate(-90 316.69 310.51)" fill="#fff" stroke="#2a2a2a" stroke-width="0.45"/>
<ellipse cx="318.91" cy="310.51" rx="2.04" ry="1.15" transform="rotate(-90 318.91 310.51)" fill="#fff" stroke="#2a2a2a" stroke-width="0.45"/>
<ellipse cx="315.97" cy="320.86" rx="2.12" ry="1.23" transform="rotate(135 315.97 320.86)" fill="#fff" stroke="#2a2a2a" stroke-width="0.45"/>
<ellipse cx="314.34" cy="319.23" rx="2.12" ry="1.23" transform="rotate(135 314.34 319.23)" fill="#fff" stroke="#2a2a2a" stroke-width="0.45"/>
<ellipse cx="313.2" cy="323.5" rx="2.04" ry="1.19" transform="rotate(135 313.2 323.5)" fill="#92CB55" stroke="#2a2a2a" stroke-width="0.45"/>
<ellipse cx="311.7" cy="322" rx="2.04" ry="1.19" transform="rotate(135 311.7 322)" fill="#92CB55" stroke="#2a2a2a" stroke-width="0.45"/>
<ellipse cx="321.26" cy="319.23" rx="2.12" ry="1.23" transform="rotate(45 321.26 319.23)" fill="#fff" stroke="#2a2a2a" stroke-width="0.45"/>
<ellipse cx="319.63" cy="320.86" rx="2.12" ry="1.23" transform="rotate(45 319.63 320.86)" fill="#fff" stroke="#2a2a2a" stroke-width="0.45"/>
<ellipse cx="323.9" cy="322" rx="2.04" ry="1.19" transform="rotate(45 323.9 322)" fill="#6A2A9E" stroke="#2a2a2a" stroke-width="0.45"/>
<ellipse cx="322.4" cy="323.5" rx="2.04" ry="1.19" transform="rotate(45 322.4 323.5)" fill="#6A2A9E" stroke="#2a2a2a" stroke-width="0.45"/>
<ellipse cx="334.74" cy="332.27" rx="2.04" ry="1.15" transform="rotate(31.5 334.74 332.27)" fill="#fff" stroke="#2a2a2a" stroke-width="0.45"/>
<ellipse cx="333.59" cy="334.15" rx="2.04" ry="1.15" transform="rotate(31.5 333.59 334.15)" fill="#fff" stroke="#2a2a2a" stroke-width="0.45"/>
<ellipse cx="338.15" cy="334.36" rx="2.04" ry="1.15" transform="rotate(31.5 338.15 334.36)" fill="#fff" stroke="#2a2a2a" stroke-width="0.45"/>
<ellipse cx="336.99" cy="336.24" rx="2.04" ry="1.15" transform="rotate(31.5 336.99 336.24)" fill="#fff" stroke="#2a2a2a" stroke-width="0.45"/>
<ellipse cx="329.92" cy="328.22" rx="2.12" ry="1.23" transform="rotate(260 329.92 328.22)" fill="#fff" stroke="#2a2a2a" stroke-width="0.45"/>
<ellipse cx="332.18" cy="327.82" rx="2.12" ry="1.23" transform="rotate(260 332.18 327.82)" fill="#fff" stroke="#2a2a2a" stroke-width="0.45"/>
<ellipse cx="329.34" cy="324.43" rx="2.04" ry="1.19" transform="rotate(260 329.34 324.43)" fill="#92CB55" stroke="#2a2a2a" stroke-width="0.45"/>
<ellipse cx="331.43" cy="324.07" rx="2.04" ry="1.19" transform="rotate(260 331.43 324.07)" fill="#92CB55" stroke="#2a2a2a" stroke-width="0.45"/>
<ellipse cx="328.8" cy="334.32" rx="2.12" ry="1.23" transform="rotate(155 328.8 334.32)" fill="#fff" stroke="#2a2a2a" stroke-width="0.45"/>
<ellipse cx="327.83" cy="332.24" rx="2.12" ry="1.23" transform="rotate(155 327.83 332.24)" fill="#fff" stroke="#2a2a2a" stroke-width="0.45"/>
<ellipse cx="325.29" cy="335.86" rx="2.04" ry="1.19" transform="rotate(155 325.29 335.86)" fill="#6A2A9E" stroke="#2a2a2a" stroke-width="0.45"/>
<ellipse cx="324.39" cy="333.93" rx="2.04" ry="1.19" transform="rotate(155 324.39 333.93)" fill="#6A2A9E" stroke="#2a2a2a" stroke-width="0.45"/>
<ellipse cx="308.99" cy="339.54" rx="2.04" ry="1.15" transform="rotate(149 308.99 339.54)" fill="#fff" stroke="#2a2a2a" stroke-width="0.45"/>
<ellipse cx="307.85" cy="337.64" rx="2.04" ry="1.15" transform="rotate(149 307.85 337.64)" fill="#fff" stroke="#2a2a2a" stroke-width="0.45"/>
<ellipse cx="305.57" cy="341.59" rx="2.04" ry="1.15" transform="rotate(149 305.57 341.59)" fill="#fff" stroke="#2a2a2a" stroke-width="0.45"/>
<ellipse cx="304.43" cy="339.7" rx="2.04" ry="1.15" transform="rotate(149 304.43 339.7)" fill="#fff" stroke="#2a2a2a" stroke-width="0.45"/>
<ellipse cx="310.62" cy="333.2" rx="2.12" ry="1.23" transform="rotate(283 310.62 333.2)" fill="#fff" stroke="#2a2a2a" stroke-width="0.45"/>
<ellipse cx="312.86" cy="333.71" rx="2.12" ry="1.23" transform="rotate(283 312.86 333.71)" fill="#fff" stroke="#2a2a2a" stroke-width="0.45"/>
<ellipse cx="311.57" cy="329.49" rx="2.04" ry="1.19" transform="rotate(283 311.57 329.49)" fill="#6A2A9E" stroke="#2a2a2a" stroke-width="0.45"/>
<ellipse cx="313.64" cy="329.97" rx="2.04" ry="1.19" transform="rotate(283 313.64 329.97)" fill="#6A2A9E" stroke="#2a2a2a" stroke-width="0.45"/>
<ellipse cx="314.81" cy="337.3" rx="2.12" ry="1.23" transform="rotate(20 314.81 337.3)" fill="#fff" stroke="#2a2a2a" stroke-width="0.45"/>
<ellipse cx="314.02" cy="339.46" rx="2.12" ry="1.23" transform="rotate(20 314.02 339.46)" fill="#fff" stroke="#2a2a2a" stroke-width="0.45"/>
<ellipse cx="318.37" cy="338.69" rx="2.04" ry="1.19" transform="rotate(20 318.37 338.69)" fill="#92CB55" stroke="#2a2a2a" stroke-width="0.45"/>
<ellipse cx="317.65" cy="340.69" rx="2.04" ry="1.19" transform="rotate(20 317.65 340.69)" fill="#92CB55" stroke="#2a2a2a" stroke-width="0.45"/>
<ellipse cx="325.5" cy="324.5" rx="1.52" ry="1.04" transform="rotate(-23 325.5 324.5)" fill="#F5E4C6" stroke="#333" stroke-width="0.5"/>
<ellipse cx="328.38" cy="324.6" rx="1.52" ry="1.04" transform="rotate(27 328.38 324.6)" fill="#F5E4C6" stroke="#333" stroke-width="0.5"/>
<ellipse cx="331.26" cy="324.7" rx="1.52" ry="1.04" transform="rotate(-23 331.26 324.7)" fill="#F5E4C6" stroke="#333" stroke-width="0.5"/>
<polyline points="332.78,324.75 334.12,323.88 335.61,324.82" fill="none" stroke="#555" stroke-width="0.4"/>
<ellipse cx="309.1" cy="321.5" rx="1.52" ry="1.04" transform="rotate(47 309.1 321.5)" fill="#F5E4C6" stroke="#333" stroke-width="0.5"/>
<ellipse cx="309.92" cy="324.01" rx="1.52" ry="1.04" transform="rotate(97 309.92 324.01)" fill="#F5E4C6" stroke="#333" stroke-width="0.5"/>
<ellipse cx="310.73" cy="326.52" rx="1.52" ry="1.04" transform="rotate(47 310.73 326.52)" fill="#F5E4C6" stroke="#333" stroke-width="0.5"/>
<polyline points="311.2,327.97 312.48,328.93 312.11,330.65" fill="none" stroke="#555" stroke-width="0.4"/>
<ellipse cx="321.9" cy="336" rx="1.52" ry="1.04" transform="rotate(75 321.9 336)" fill="#F5E4C6" stroke="#333" stroke-width="0.5"/>
<ellipse cx="321.43" cy="338.68" rx="1.52" ry="1.04" transform="rotate(125 321.43 338.68)" fill="#F5E4C6" stroke="#333" stroke-width="0.5"/>
<ellipse cx="320.96" cy="341.36" rx="1.52" ry="1.04" transform="rotate(75 320.96 341.36)" fill="#F5E4C6" stroke="#333" stroke-width="0.5"/>
<polyline points="320.69,342.85 321.37,344.3 320.24,345.65" fill="none" stroke="#555" stroke-width="0.4"/>
<ellipse cx="319.19" cy="359.51" rx="2.04" ry="1.15" transform="rotate(-90 319.19 359.51)" fill="#fff" stroke="#2a2a2a" stroke-width="0.45"/>
<ellipse cx="321.41" cy="359.51" rx="2.04" ry="1.15" transform="rotate(-90 321.41 359.51)" fill="#fff" stroke="#2a2a2a" stroke-width="0.45"/>
<ellipse cx="319.19" cy="355.52" rx="2.04" ry="1.15" transform="rotate(-90 319.19 355.52)" fill="#fff" stroke="#2a2a2a" stroke-width="0.45"/>
<ellipse cx="321.41" cy="355.52" rx="2.04" ry="1.15" transform="rotate(-90 321.41 355.52)" fill="#fff" stroke="#2a2a2a" stroke-width="0.45"/>
<ellipse cx="318.12" cy="365.65" rx="2.12" ry="1.23" transform="rotate(141 318.12 365.65)" fill="#fff" stroke="#2a2a2a" stroke-width="0.45"/>
<ellipse cx="316.67" cy="363.86" rx="2.12" ry="1.23" transform="rotate(141 316.67 363.86)" fill="#fff" stroke="#2a2a2a" stroke-width="0.45"/>
<ellipse cx="315.09" cy="367.99" rx="2.04" ry="1.19" transform="rotate(141 315.09 367.99)" fill="#92CB55" stroke="#2a2a2a" stroke-width="0.45"/>
<ellipse cx="313.75" cy="366.34" rx="2.04" ry="1.19" transform="rotate(141 313.75 366.34)" fill="#92CB55" stroke="#2a2a2a" stroke-width="0.45"/>
<ellipse cx="323.93" cy="363.86" rx="2.12" ry="1.23" transform="rotate(39 323.93 363.86)" fill="#fff" stroke="#2a2a2a" stroke-width="0.45"/>
<ellipse cx="322.48" cy="365.65" rx="2.12" ry="1.23" transform="rotate(39 322.48 365.65)" fill="#fff" stroke="#2a2a2a" stroke-width="0.45"/>
<ellipse cx="326.85" cy="366.34" rx="2.04" ry="1.19" transform="rotate(39 326.85 366.34)" fill="#6A2A9E" stroke="#2a2a2a" stroke-width="0.45"/>
<ellipse cx="325.51" cy="367.99" rx="2.04" ry="1.19" transform="rotate(39 325.51 367.99)" fill="#6A2A9E" stroke="#2a2a2a" stroke-width="0.45"/>
<ellipse cx="324.81" cy="381.09" rx="2.04" ry="1.15" transform="rotate(90 324.81 381.09)" fill="#fff" stroke="#2a2a2a" stroke-width="0.45"/>
<ellipse cx="322.59" cy="381.09" rx="2.04" ry="1.15" transform="rotate(90 322.59 381.09)" fill="#fff" stroke="#2a2a2a" stroke-width="0.45"/>
<ellipse cx="324.81" cy="385.08" rx="2.04" ry="1.15" transform="rotate(90 324.81 385.08)" fill="#fff" stroke="#2a2a2a" stroke-width="0.45"/>
<ellipse cx="322.59" cy="385.08" rx="2.04" ry="1.15" transform="rotate(90 322.59 385.08)" fill="#fff" stroke="#2a2a2a" stroke-width="0.45"/>
<ellipse cx="320.12" cy="376.61" rx="2.12" ry="1.23" transform="rotate(221 320.12 376.61)" fill="#fff" stroke="#2a2a2a" stroke-width="0.45"/>
<ellipse cx="321.63" cy="374.88" rx="2.12" ry="1.23" transform="rotate(221 321.63 374.88)" fill="#fff" stroke="#2a2a2a" stroke-width="0.45"/>
<ellipse cx="317.29" cy="374.04" rx="2.04" ry="1.19" transform="rotate(221 317.29 374.04)" fill="#6A2A9E" stroke="#2a2a2a" stroke-width="0.45"/>
<ellipse cx="318.69" cy="372.44" rx="2.04" ry="1.19" transform="rotate(221 318.69 372.44)" fill="#6A2A9E" stroke="#2a2a2a" stroke-width="0.45"/>
<ellipse cx="325.88" cy="374.95" rx="2.12" ry="1.23" transform="rotate(321 325.88 374.95)" fill="#fff" stroke="#2a2a2a" stroke-width="0.45"/>
<ellipse cx="327.33" cy="376.74" rx="2.12" ry="1.23" transform="rotate(321 327.33 376.74)" fill="#fff" stroke="#2a2a2a" stroke-width="0.45"/>
<ellipse cx="328.91" cy="372.61" rx="2.04" ry="1.19" transform="rotate(321 328.91 372.61)" fill="#92CB55" stroke="#2a2a2a" stroke-width="0.45"/>
<ellipse cx="330.25" cy="374.26" rx="2.04" ry="1.19" transform="rotate(321 330.25 374.26)" fill="#92CB55" stroke="#2a2a2a" stroke-width="0.45"/>
<ellipse cx="307.55" cy="364.36" rx="1.61" ry="1.1" transform="rotate(25 307.55 364.36)" fill="#F5E4C6" stroke="#333" stroke-width="0.5"/>
<ellipse cx="309.41" cy="366.57" rx="1.61" ry="1.1" transform="rotate(75 309.41 366.57)" fill="#F5E4C6" stroke="#333" stroke-width="0.5"/>
<ellipse cx="311.27" cy="368.78" rx="1.61" ry="1.1" transform="rotate(25 311.27 368.78)" fill="#F5E4C6" stroke="#333" stroke-width="0.5"/>
<ellipse cx="313.12" cy="371" rx="1.61" ry="1.1" transform="rotate(75 313.12 371)" fill="#F5E4C6" stroke="#333" stroke-width="0.5"/>
<ellipse cx="314.98" cy="373.21" rx="1.61" ry="1.1" transform="rotate(25 314.98 373.21)" fill="#F5E4C6" stroke="#333" stroke-width="0.5"/>
<polyline points="316.02,374.45 317.66,374.89 317.99,376.73" fill="none" stroke="#555" stroke-width="0.4"/>
<ellipse cx="326.08" cy="366.65" rx="1.61" ry="1.1" transform="rotate(27 326.08 366.65)" fill="#F5E4C6" stroke="#333" stroke-width="0.5"/>
<ellipse cx="327.96" cy="369.06" rx="1.61" ry="1.1" transform="rotate(77 327.96 369.06)" fill="#F5E4C6" stroke="#333" stroke-width="0.5"/>
<ellipse cx="329.85" cy="371.47" rx="1.61" ry="1.1" transform="rotate(27 329.85 371.47)" fill="#F5E4C6" stroke="#333" stroke-width="0.5"/>
<ellipse cx="331.73" cy="373.88" rx="1.61" ry="1.1" transform="rotate(77 331.73 373.88)" fill="#F5E4C6" stroke="#333" stroke-width="0.5"/>
<ellipse cx="333.62" cy="376.3" rx="1.61" ry="1.1" transform="rotate(27 333.62 376.3)" fill="#F5E4C6" stroke="#333" stroke-width="0.5"/>
<polyline points="334.61,377.57 336.24,378.06 336.5,379.92" fill="none" stroke="#555" stroke-width="0.4"/>
<ellipse cx="285.08" cy="415.76" rx="2.28" ry="1.28" transform="rotate(74 285.08 415.76)" fill="#fff" stroke="#2a2a2a" stroke-width="0.45"/>
<ellipse cx="282.7" cy="416.45" rx="2.28" ry="1.28" transform="rotate(74 282.7 416.45)" fill="#fff" stroke="#2a2a2a" stroke-width="0.45"/>
<ellipse cx="286.31" cy="420.06" rx="2.28" ry="1.28" transform="rotate(74 286.31 420.06)" fill="#fff" stroke="#2a2a2a" stroke-width="0.45"/>
<ellipse cx="283.93" cy="420.74" rx="2.28" ry="1.28" transform="rotate(74 283.93 420.74)" fill="#fff" stroke="#2a2a2a" stroke-width="0.45"/>
<ellipse cx="278.69" cy="412.25" rx="2.38" ry="1.38" transform="rotate(207 278.69 412.25)" fill="#fff" stroke="#2a2a2a" stroke-width="0.45"/>
<ellipse cx="279.86" cy="409.96" rx="2.38" ry="1.38" transform="rotate(207 279.86 409.96)" fill="#fff" stroke="#2a2a2a" stroke-width="0.45"/>
<ellipse cx="274.93" cy="410.22" rx="2.28" ry="1.33" transform="rotate(207 274.93 410.22)" fill="#6A2A9E" stroke="#2a2a2a" stroke-width="0.45"/>
<ellipse cx="276.01" cy="408.1" rx="2.28" ry="1.33" transform="rotate(207 276.01 408.1)" fill="#6A2A9E" stroke="#2a2a2a" stroke-width="0.45"/>
<ellipse cx="284.35" cy="408.84" rx="2.38" ry="1.38" transform="rotate(305 284.35 408.84)" fill="#fff" stroke="#2a2a2a" stroke-width="0.45"/>
<ellipse cx="286.45" cy="410.31" rx="2.38" ry="1.38" transform="rotate(305 286.45 410.31)" fill="#fff" stroke="#2a2a2a" stroke-width="0.45"/>
<ellipse cx="286.88" cy="405.39" rx="2.28" ry="1.33" transform="rotate(305 286.88 405.39)" fill="#92CB55" stroke="#2a2a2a" stroke-width="0.45"/>
<ellipse cx="288.82" cy="406.76" rx="2.28" ry="1.33" transform="rotate(305 288.82 406.76)" fill="#92CB55" stroke="#2a2a2a" stroke-width="0.45"/>
<ellipse cx="290" cy="403.2" rx="1.8" ry="1.23" transform="rotate(151 290 403.2)" fill="#F5E4C6" stroke="#333" stroke-width="0.5"/>
<ellipse cx="286.68" cy="403.43" rx="1.8" ry="1.23" transform="rotate(201 286.68 403.43)" fill="#F5E4C6" stroke="#333" stroke-width="0.5"/>
<ellipse cx="283.37" cy="403.66" rx="1.8" ry="1.23" transform="rotate(151 283.37 403.66)" fill="#F5E4C6" stroke="#333" stroke-width="0.5"/>
<ellipse cx="280.05" cy="403.9" rx="1.8" ry="1.23" transform="rotate(201 280.05 403.9)" fill="#F5E4C6" stroke="#333" stroke-width="0.5"/>
<polyline points="278.25,404.02 276.77,405.22 274.89,404.3" fill="none" stroke="#555" stroke-width="0.4"/>
<ellipse cx="314.13" cy="413.23" rx="2.28" ry="1.28" transform="rotate(90 314.13 413.23)" fill="#fff" stroke="#2a2a2a" stroke-width="0.45"/>
<ellipse cx="311.66" cy="413.23" rx="2.28" ry="1.28" transform="rotate(90 311.66 413.23)" fill="#fff" stroke="#2a2a2a" stroke-width="0.45"/>
<ellipse cx="314.13" cy="417.69" rx="2.28" ry="1.28" transform="rotate(90 314.13 417.69)" fill="#fff" stroke="#2a2a2a" stroke-width="0.45"/>
<ellipse cx="311.66" cy="417.69" rx="2.28" ry="1.28" transform="rotate(90 311.66 417.69)" fill="#fff" stroke="#2a2a2a" stroke-width="0.45"/>
<ellipse cx="308.72" cy="408.73" rx="2.38" ry="1.38" transform="rotate(214 308.72 408.73)" fill="#fff" stroke="#2a2a2a" stroke-width="0.45"/>
<ellipse cx="310.15" cy="406.6" rx="2.38" ry="1.38" transform="rotate(214 310.15 406.6)" fill="#fff" stroke="#2a2a2a" stroke-width="0.45"/>
<ellipse cx="305.23" cy="406.26" rx="2.28" ry="1.33" transform="rotate(214 305.23 406.26)" fill="#92CB55" stroke="#2a2a2a" stroke-width="0.45"/>
<ellipse cx="306.55" cy="404.29" rx="2.28" ry="1.33" transform="rotate(214 306.55 404.29)" fill="#92CB55" stroke="#2a2a2a" stroke-width="0.45"/>
<ellipse cx="315.65" cy="406.6" rx="2.38" ry="1.38" transform="rotate(326 315.65 406.6)" fill="#fff" stroke="#2a2a2a" stroke-width="0.45"/>
<ellipse cx="317.08" cy="408.73" rx="2.38" ry="1.38" transform="rotate(326 317.08 408.73)" fill="#fff" stroke="#2a2a2a" stroke-width="0.45"/>
<ellipse cx="319.25" cy="404.29" rx="2.28" ry="1.33" transform="rotate(326 319.25 404.29)" fill="#92CB55" stroke="#2a2a2a" stroke-width="0.45"/>
<ellipse cx="320.57" cy="406.26" rx="2.28" ry="1.33" transform="rotate(326 320.57 406.26)" fill="#92CB55" stroke="#2a2a2a" stroke-width="0.45"/>
<ellipse cx="300.6" cy="405" rx="1.8" ry="1.23" transform="rotate(-67 300.6 405)" fill="#F5E4C6" stroke="#333" stroke-width="0.5"/>
<ellipse cx="303.14" cy="402.71" rx="1.8" ry="1.23" transform="rotate(-17 303.14 402.71)" fill="#F5E4C6" stroke="#333" stroke-width="0.5"/>
<ellipse cx="305.68" cy="400.42" rx="1.8" ry="1.23" transform="rotate(-67 305.68 400.42)" fill="#F5E4C6" stroke="#333" stroke-width="0.5"/>
<polyline points="307.02,399.22 307.45,397.36 309.5,396.93" fill="none" stroke="#555" stroke-width="0.4"/>
<ellipse cx="320.2" cy="400.6" rx="1.8" ry="1.23" transform="rotate(11 320.2 400.6)" fill="#F5E4C6" stroke="#333" stroke-width="0.5"/>
<ellipse cx="322.97" cy="402.61" rx="1.8" ry="1.23" transform="rotate(61 322.97 402.61)" fill="#F5E4C6" stroke="#333" stroke-width="0.5"/>
<ellipse cx="325.73" cy="404.62" rx="1.8" ry="1.23" transform="rotate(11 325.73 404.62)" fill="#F5E4C6" stroke="#333" stroke-width="0.5"/>
<polyline points="327.19,405.68 329.09,405.71 329.94,407.62" fill="none" stroke="#555" stroke-width="0.4"/>
<rect x="374.6" y="328.6" width="236.7" height="3.2" fill="#C9F5C6"/>
<rect x="374.6" y="334" width="236.7" height="3.8" fill="#FCE5CC"/>
<rect x="374.6" y="351" width="236.7" height="3.6" fill="#FDD1D1"/>
<rect x="374.6" y="356.1" width="236.7" height="3.8" fill="#FCC4FC"/>
<rect x="374.6" y="361.7" width="236.7" height="3.8" fill="#CFCCF7"/>
<rect x="374.6" y="378.2" width="236.7" height="3.3" fill="#C9ECFA"/>
<rect x="374.6" y="383.4" width="236.7" height="3.6" fill="#C9F5C6"/>
<rect x="374.6" y="388.8" width="236.7" height="4.2" fill="#FCE5CC"/>
<line x1="374.1" y1="318.4" x2="374.1" y2="398.1" stroke="#000" stroke-width="0.8"/>
<line x1="373.7" y1="397.7" x2="610.1" y2="397.7" stroke="#777" stroke-width="1.1"/>
<line x1="371.6" y1="397.7" x2="374.1" y2="397.7" stroke="#000" stroke-width="0.8"/>
<text font-size="10" transform="translate(368.3 401) scale(0.92 1)" text-anchor="end">1</text>
<line x1="371.6" y1="381.92" x2="374.1" y2="381.92" stroke="#000" stroke-width="0.8"/>
<text font-size="10" transform="translate(368.3 385.22) scale(0.92 1)" text-anchor="end">2</text>
<line x1="371.6" y1="366.14" x2="374.1" y2="366.14" stroke="#000" stroke-width="0.8"/>
<text font-size="10" transform="translate(368.3 369.44) scale(0.92 1)" text-anchor="end">3</text>
<line x1="371.6" y1="350.36" x2="374.1" y2="350.36" stroke="#000" stroke-width="0.8"/>
<text font-size="10" transform="translate(368.3 353.66) scale(0.92 1)" text-anchor="end">4</text>
<line x1="371.6" y1="334.58" x2="374.1" y2="334.58" stroke="#000" stroke-width="0.8"/>
<text font-size="10" transform="translate(368.3 337.88) scale(0.92 1)" text-anchor="end">5</text>
<line x1="371.6" y1="318.8" x2="374.1" y2="318.8" stroke="#000" stroke-width="0.8"/>
<text font-size="10" transform="translate(368.3 322.1) scale(0.92 1)" text-anchor="end">6</text>
<text x="355.6" y="307.9" font-size="13.6" font-weight="bold">f</text>
<text font-size="10.43" text-anchor="middle" transform="translate(358.7 358) rotate(-90) scale(0.92 1)">Mw (×10<tspan font-size="6.74" dy="-3.6">5</tspan><tspan dy="3.6"> g/mol)</tspan></text>
<circle cx="389" cy="364.5" r="1.4" fill="#FF0000"/>
<circle cx="389" cy="368.6" r="1.4" fill="#000"/>
<circle cx="389" cy="390.7" r="1.45" fill="#0CA6EC"/>
<circle cx="403.75" cy="350.1" r="1.4" fill="#FF0000"/>
<circle cx="403.75" cy="365.1" r="1.4" fill="#000"/>
<circle cx="403.75" cy="391.6" r="1.45" fill="#0CA6EC"/>
<circle cx="418.5" cy="365.5" r="1.4" fill="#FF0000"/>
<circle cx="418.5" cy="374.8" r="1.4" fill="#000"/>
<circle cx="418.5" cy="390.3" r="1.45" fill="#0CA6EC"/>
<circle cx="433.25" cy="332.2" r="1.4" fill="#FF0000"/>
<circle cx="433.25" cy="359.9" r="1.4" fill="#000"/>
<circle cx="433.25" cy="390" r="1.45" fill="#0CA6EC"/>
<circle cx="448" cy="380.8" r="1.4" fill="#FF0000"/>
<circle cx="448" cy="383.4" r="1.4" fill="#000"/>
<circle cx="448" cy="389.6" r="1.45" fill="#0CA6EC"/>
<circle cx="462.75" cy="352.9" r="1.4" fill="#FF0000"/>
<circle cx="462.75" cy="358.7" r="1.4" fill="#000"/>
<circle cx="462.75" cy="390.3" r="1.45" fill="#0CA6EC"/>
<circle cx="477.5" cy="386.6" r="1.4" fill="#000"/>
<circle cx="477.5" cy="390.1" r="1.45" fill="#0CA6EC"/>
<circle cx="492.25" cy="374.8" r="1.4" fill="#000"/>
<circle cx="492.25" cy="390.6" r="1.45" fill="#0CA6EC"/>
<circle cx="507" cy="380.3" r="1.4" fill="#000"/>
<circle cx="507" cy="389.5" r="1.45" fill="#0CA6EC"/>
<circle cx="521.75" cy="381.4" r="1.4" fill="#000"/>
<circle cx="521.75" cy="390.1" r="1.45" fill="#0CA6EC"/>
<circle cx="536.5" cy="378.7" r="1.4" fill="#000"/>
<circle cx="536.5" cy="389.7" r="1.45" fill="#0CA6EC"/>
<circle cx="551.25" cy="379.8" r="1.4" fill="#000"/>
<circle cx="551.25" cy="389.5" r="1.45" fill="#0CA6EC"/>
<circle cx="566" cy="384.2" r="1.4" fill="#000"/>
<circle cx="566" cy="389" r="1.45" fill="#0CA6EC"/>
<circle cx="580.75" cy="383.1" r="1.4" fill="#000"/>
<circle cx="580.75" cy="390.1" r="1.45" fill="#0CA6EC"/>
<circle cx="595.5" cy="383.8" r="1.4" fill="#000"/>
<circle cx="595.5" cy="390.8" r="1.45" fill="#0CA6EC"/>
<text font-size="8.59" transform="translate(391.85 400.8) rotate(-90) scale(0.92 1)" text-anchor="end">Bp45-94</text>
<text font-size="8.59" transform="translate(406.6 400.8) rotate(-90) scale(0.92 1)" text-anchor="end">Bp45-96</text>
<text font-size="8.59" transform="translate(421.35 400.8) rotate(-90) scale(0.92 1)" text-anchor="end">Bp94-92</text>
<text font-size="8.59" transform="translate(436.1 400.8) rotate(-90) scale(0.92 1)" text-anchor="end">Bp96-92</text>
<line x1="437.35" y1="400.8" x2="437.35" y2="428.54" stroke="#000" stroke-width="0.5"/>
<text font-size="8.59" transform="translate(450.85 400.8) rotate(-90) scale(0.92 1)" text-anchor="end">Bp109-94</text>
<text font-size="8.59" transform="translate(465.6 400.8) rotate(-90) scale(0.92 1)" text-anchor="end">Bp109-96</text>
<line x1="466.85" y1="400.8" x2="466.85" y2="432.96" stroke="#000" stroke-width="0.5"/>
<text font-size="8.59" transform="translate(480.35 400.8) rotate(-90) scale(0.92 1)" text-anchor="end">TR94</text>
<text font-size="8.59" transform="translate(495.1 400.8) rotate(-90) scale(0.92 1)" text-anchor="end">TR96</text>
<text font-size="8.59" transform="translate(509.85 400.8) rotate(-90) scale(0.92 1)" text-anchor="end">TR92</text>
<text font-size="8.59" transform="translate(524.6 400.8) rotate(-90) scale(0.92 1)" text-anchor="end">TR45</text>
<text font-size="8.59" transform="translate(539.35 400.8) rotate(-90) scale(0.92 1)" text-anchor="end">TR109</text>
<line x1="540.6" y1="400.8" x2="540.6" y2="421.11" stroke="#000" stroke-width="0.5"/>
<text font-size="8.59" transform="translate(554.1 400.8) rotate(-90) scale(0.92 1)" text-anchor="end">Bp45-92</text>
<text font-size="8.59" transform="translate(568.85 400.8) rotate(-90) scale(0.92 1)" text-anchor="end">Bp94-96</text>
<text font-size="8.59" transform="translate(583.6 400.8) rotate(-90) scale(0.92 1)" text-anchor="end">Bp109-45</text>
<text font-size="8.59" transform="translate(598.35 400.8) rotate(-90) scale(0.92 1)" text-anchor="end">Bp109-92</text>
<line x1="599.6" y1="400.8" x2="599.6" y2="432.96" stroke="#000" stroke-width="0.5"/>
<rect x="504.6" y="320.4" width="89.4" height="43.2" fill="#fff" fill-opacity="0.88" stroke="#999" stroke-width="0.6"/>
<circle cx="513.4" cy="330.3" r="1.2" fill="#FF0000"/>
<circle cx="513.4" cy="342" r="1.2" fill="#000"/>
<circle cx="513.4" cy="353.7" r="1.2" fill="#1FA8E0"/>
<text font-size="8.8" transform="translate(523.3 333.2) scale(0.92 1)">+ 1 eq. sTNFR2</text>
<text font-size="8.8" transform="translate(523.3 344.9) scale(0.92 1)">+ 8 eq. sTNFR2</text>
<text font-size="8.8" transform="translate(523.3 356.6) scale(0.92 1)">Without sTNFR2</text>
<text font-size="8.8" transform="translate(610 321.6) scale(0.92 1)">Ab:Ag ratio</text>
<text font-size="9.89" transform="translate(614.8 331.9) scale(0.92 1)" letter-spacing="-0.33">3:3</text>
<text font-size="9.89" transform="translate(614.8 340.6) scale(0.92 1)" letter-spacing="-0.33">3:2</text>
<text font-size="9.89" transform="translate(614.8 353.4) scale(0.92 1)" letter-spacing="-0.33">2:3</text>
<text font-size="9.89" transform="translate(614.8 361.5) scale(0.92 1)" letter-spacing="-0.33">2:2</text>
<text font-size="9.89" transform="translate(614.8 369.6) scale(0.92 1)" letter-spacing="-0.33">2:1</text>
<text font-size="9.89" transform="translate(614.8 380.2) scale(0.92 1)" letter-spacing="-0.33">1:2</text>
<text font-size="9.89" transform="translate(614.8 388.5) scale(0.92 1)" letter-spacing="-0.33">1:1</text>
<text font-size="9.89" transform="translate(614.8 396.6) scale(0.92 1)" letter-spacing="-0.33">1:0</text>
<path d="M386.9,439.8 L467.7,439.8 L467.7,442.6 L386.9,442.6 Z" fill="#FF0000"/>
<rect x="467.9" y="440.1" width="5.8" height="2.2" fill="#fff" stroke="#FF0000" stroke-width="0.5"/>
<path d="M473.9,439.8 L577.8,441.5 L577.8,442.3 L473.9,442.8 Z" fill="#FF0000"/>
<rect x="578.9" y="441.4" width="20.3" height="0.9" fill="#FF2020"/>
<text font-size="8.97" transform="translate(401.1 452.2) scale(0.92 1)" fill="#FF0000">Strong agonists</text>
<text font-size="8.91" transform="translate(480.1 452.2) scale(0.92 1)" fill="#FF0000">Intermediate agonists</text>
<text font-size="8.97" transform="translate(563.9 452.2) scale(0.92 1)" fill="#FF0000">Non-agonists</text>
<line x1="650.5" y1="342.2" x2="632.1" y2="342.2" stroke="#000" stroke-width="0.8"/>
<polygon points="628.6,342.2 632.6,340.4 632.6,344" fill="#000"/>
<path d="M653.8,376.9 Q644,372 633.5,371" fill="none" stroke="#000" stroke-width="0.8"/>
<line x1="634" y1="371" x2="633.39" y2="370.95" stroke="#000" stroke-width="0.8"/>
<polygon points="630.3,370.7 634.03,369.2 633.74,372.79" fill="#000"/>
<polyline points="655.1,409.2 638.3,389.6 633.5,389.6" fill="none" stroke="#000" stroke-width="0.8"/>
<polygon points="630,389.6 634,387.8 634,391.4" fill="#000"/>
<polyline points="635.5,413.9 639.2,397.6 633.5,397.6" fill="none" stroke="#000" stroke-width="0.8"/>
<polygon points="630,397.6 634,395.8 634,399.4" fill="#000"/>
<ellipse cx="662.39" cy="329.51" rx="2.04" ry="1.15" transform="rotate(-90 662.39 329.51)" fill="#fff" stroke="#2a2a2a" stroke-width="0.45"/>
<ellipse cx="664.61" cy="329.51" rx="2.04" ry="1.15" transform="rotate(-90 664.61 329.51)" fill="#fff" stroke="#2a2a2a" stroke-width="0.45"/>
<ellipse cx="662.39" cy="325.51" rx="2.04" ry="1.15" transform="rotate(-90 662.39 325.51)" fill="#fff" stroke="#2a2a2a" stroke-width="0.45"/>
<ellipse cx="664.61" cy="325.51" rx="2.04" ry="1.15" transform="rotate(-90 664.61 325.51)" fill="#fff" stroke="#2a2a2a" stroke-width="0.45"/>
<ellipse cx="661.67" cy="335.86" rx="2.12" ry="1.23" transform="rotate(135 661.67 335.86)" fill="#fff" stroke="#2a2a2a" stroke-width="0.45"/>
<ellipse cx="660.04" cy="334.23" rx="2.12" ry="1.23" transform="rotate(135 660.04 334.23)" fill="#fff" stroke="#2a2a2a" stroke-width="0.45"/>
<ellipse cx="658.9" cy="338.5" rx="2.04" ry="1.19" transform="rotate(135 658.9 338.5)" fill="#92CB55" stroke="#2a2a2a" stroke-width="0.45"/>
<ellipse cx="657.4" cy="337" rx="2.04" ry="1.19" transform="rotate(135 657.4 337)" fill="#92CB55" stroke="#2a2a2a" stroke-width="0.45"/>
<ellipse cx="666.96" cy="334.23" rx="2.12" ry="1.23" transform="rotate(45 666.96 334.23)" fill="#fff" stroke="#2a2a2a" stroke-width="0.45"/>
<ellipse cx="665.33" cy="335.86" rx="2.12" ry="1.23" transform="rotate(45 665.33 335.86)" fill="#fff" stroke="#2a2a2a" stroke-width="0.45"/>
<ellipse cx="669.6" cy="337" rx="2.04" ry="1.19" transform="rotate(45 669.6 337)" fill="#6A2A9E" stroke="#2a2a2a" stroke-width="0.45"/>
<ellipse cx="668.1" cy="338.5" rx="2.04" ry="1.19" transform="rotate(45 668.1 338.5)" fill="#6A2A9E" stroke="#2a2a2a" stroke-width="0.45"/>
<ellipse cx="680.44" cy="347.27" rx="2.04" ry="1.15" transform="rotate(31.5 680.44 347.27)" fill="#fff" stroke="#2a2a2a" stroke-width="0.45"/>
<ellipse cx="679.29" cy="349.15" rx="2.04" ry="1.15" transform="rotate(31.5 679.29 349.15)" fill="#fff" stroke="#2a2a2a" stroke-width="0.45"/>
<ellipse cx="683.85" cy="349.36" rx="2.04" ry="1.15" transform="rotate(31.5 683.85 349.36)" fill="#fff" stroke="#2a2a2a" stroke-width="0.45"/>
<ellipse cx="682.69" cy="351.24" rx="2.04" ry="1.15" transform="rotate(31.5 682.69 351.24)" fill="#fff" stroke="#2a2a2a" stroke-width="0.45"/>
<ellipse cx="675.62" cy="343.22" rx="2.12" ry="1.23" transform="rotate(260 675.62 343.22)" fill="#fff" stroke="#2a2a2a" stroke-width="0.45"/>
<ellipse cx="677.88" cy="342.82" rx="2.12" ry="1.23" transform="rotate(260 677.88 342.82)" fill="#fff" stroke="#2a2a2a" stroke-width="0.45"/>
<ellipse cx="675.04" cy="339.43" rx="2.04" ry="1.19" transform="rotate(260 675.04 339.43)" fill="#92CB55" stroke="#2a2a2a" stroke-width="0.45"/>
<ellipse cx="677.13" cy="339.07" rx="2.04" ry="1.19" transform="rotate(260 677.13 339.07)" fill="#92CB55" stroke="#2a2a2a" stroke-width="0.45"/>
<ellipse cx="674.5" cy="349.32" rx="2.12" ry="1.23" transform="rotate(155 674.5 349.32)" fill="#fff" stroke="#2a2a2a" stroke-width="0.45"/>
<ellipse cx="673.53" cy="347.24" rx="2.12" ry="1.23" transform="rotate(155 673.53 347.24)" fill="#fff" stroke="#2a2a2a" stroke-width="0.45"/>
<ellipse cx="670.99" cy="350.86" rx="2.04" ry="1.19" transform="rotate(155 670.99 350.86)" fill="#6A2A9E" stroke="#2a2a2a" stroke-width="0.45"/>
<ellipse cx="670.09" cy="348.93" rx="2.04" ry="1.19" transform="rotate(155 670.09 348.93)" fill="#6A2A9E" stroke="#2a2a2a" stroke-width="0.45"/>
<ellipse cx="654.69" cy="354.54" rx="2.04" ry="1.15" transform="rotate(149 654.69 354.54)" fill="#fff" stroke="#2a2a2a" stroke-width="0.45"/>
<ellipse cx="653.55" cy="352.64" rx="2.04" ry="1.15" transform="rotate(149 653.55 352.64)" fill="#fff" stroke="#2a2a2a" stroke-width="0.45"/>
<ellipse cx="651.27" cy="356.59" rx="2.04" ry="1.15" transform="rotate(149 651.27 356.59)" fill="#fff" stroke="#2a2a2a" stroke-width="0.45"/>
<ellipse cx="650.13" cy="354.7" rx="2.04" ry="1.15" transform="rotate(149 650.13 354.7)" fill="#fff" stroke="#2a2a2a" stroke-width="0.45"/>
<ellipse cx="656.32" cy="348.2" rx="2.12" ry="1.23" transform="rotate(283 656.32 348.2)" fill="#fff" stroke="#2a2a2a" stroke-width="0.45"/>
<ellipse cx="658.56" cy="348.71" rx="2.12" ry="1.23" transform="rotate(283 658.56 348.71)" fill="#fff" stroke="#2a2a2a" stroke-width="0.45"/>
<ellipse cx="657.27" cy="344.49" rx="2.04" ry="1.19" transform="rotate(283 657.27 344.49)" fill="#6A2A9E" stroke="#2a2a2a" stroke-width="0.45"/>
<ellipse cx="659.34" cy="344.97" rx="2.04" ry="1.19" transform="rotate(283 659.34 344.97)" fill="#6A2A9E" stroke="#2a2a2a" stroke-width="0.45"/>
<ellipse cx="660.51" cy="352.3" rx="2.12" ry="1.23" transform="rotate(20 660.51 352.3)" fill="#fff" stroke="#2a2a2a" stroke-width="0.45"/>
<ellipse cx="659.72" cy="354.46" rx="2.12" ry="1.23" transform="rotate(20 659.72 354.46)" fill="#fff" stroke="#2a2a2a" stroke-width="0.45"/>
<ellipse cx="664.07" cy="353.69" rx="2.04" ry="1.19" transform="rotate(20 664.07 353.69)" fill="#92CB55" stroke="#2a2a2a" stroke-width="0.45"/>
<ellipse cx="663.35" cy="355.69" rx="2.04" ry="1.19" transform="rotate(20 663.35 355.69)" fill="#92CB55" stroke="#2a2a2a" stroke-width="0.45"/>
<ellipse cx="671.2" cy="339.5" rx="1.52" ry="1.04" transform="rotate(-23 671.2 339.5)" fill="#F5E4C6" stroke="#333" stroke-width="0.5"/>
<ellipse cx="674.08" cy="339.6" rx="1.52" ry="1.04" transform="rotate(27 674.08 339.6)" fill="#F5E4C6" stroke="#333" stroke-width="0.5"/>
<ellipse cx="676.96" cy="339.7" rx="1.52" ry="1.04" transform="rotate(-23 676.96 339.7)" fill="#F5E4C6" stroke="#333" stroke-width="0.5"/>
<polyline points="678.48,339.75 679.82,338.88 681.31,339.82" fill="none" stroke="#555" stroke-width="0.4"/>
<ellipse cx="654.8" cy="336.5" rx="1.52" ry="1.04" transform="rotate(47 654.8 336.5)" fill="#F5E4C6" stroke="#333" stroke-width="0.5"/>
<ellipse cx="655.62" cy="339.01" rx="1.52" ry="1.04" transform="rotate(97 655.62 339.01)" fill="#F5E4C6" stroke="#333" stroke-width="0.5"/>
<ellipse cx="656.43" cy="341.52" rx="1.52" ry="1.04" transform="rotate(47 656.43 341.52)" fill="#F5E4C6" stroke="#333" stroke-width="0.5"/>
<polyline points="656.9,342.97 658.18,343.93 657.81,345.65" fill="none" stroke="#555" stroke-width="0.4"/>
<ellipse cx="667.6" cy="351" rx="1.52" ry="1.04" transform="rotate(75 667.6 351)" fill="#F5E4C6" stroke="#333" stroke-width="0.5"/>
<ellipse cx="667.13" cy="353.68" rx="1.52" ry="1.04" transform="rotate(125 667.13 353.68)" fill="#F5E4C6" stroke="#333" stroke-width="0.5"/>
<ellipse cx="666.66" cy="356.36" rx="1.52" ry="1.04" transform="rotate(75 666.66 356.36)" fill="#F5E4C6" stroke="#333" stroke-width="0.5"/>
<polyline points="666.39,357.85 667.07,359.3 665.94,360.65" fill="none" stroke="#555" stroke-width="0.4"/>
<ellipse cx="667.49" cy="373.81" rx="2.04" ry="1.15" transform="rotate(-90 667.49 373.81)" fill="#fff" stroke="#2a2a2a" stroke-width="0.45"/>
<ellipse cx="669.7" cy="373.81" rx="2.04" ry="1.15" transform="rotate(-90 669.7 373.81)" fill="#fff" stroke="#2a2a2a" stroke-width="0.45"/>
<ellipse cx="667.49" cy="369.82" rx="2.04" ry="1.15" transform="rotate(-90 667.49 369.82)" fill="#fff" stroke="#2a2a2a" stroke-width="0.45"/>
<ellipse cx="669.7" cy="369.82" rx="2.04" ry="1.15" transform="rotate(-90 669.7 369.82)" fill="#fff" stroke="#2a2a2a" stroke-width="0.45"/>
<ellipse cx="666.42" cy="379.95" rx="2.12" ry="1.23" transform="rotate(141 666.42 379.95)" fill="#fff" stroke="#2a2a2a" stroke-width="0.45"/>
<ellipse cx="664.97" cy="378.16" rx="2.12" ry="1.23" transform="rotate(141 664.97 378.16)" fill="#fff" stroke="#2a2a2a" stroke-width="0.45"/>
<ellipse cx="663.39" cy="382.29" rx="2.04" ry="1.19" transform="rotate(141 663.39 382.29)" fill="#92CB55" stroke="#2a2a2a" stroke-width="0.45"/>
<ellipse cx="662.05" cy="380.64" rx="2.04" ry="1.19" transform="rotate(141 662.05 380.64)" fill="#92CB55" stroke="#2a2a2a" stroke-width="0.45"/>
<ellipse cx="672.23" cy="378.16" rx="2.12" ry="1.23" transform="rotate(39 672.23 378.16)" fill="#fff" stroke="#2a2a2a" stroke-width="0.45"/>
<ellipse cx="670.78" cy="379.95" rx="2.12" ry="1.23" transform="rotate(39 670.78 379.95)" fill="#fff" stroke="#2a2a2a" stroke-width="0.45"/>
<ellipse cx="675.15" cy="380.64" rx="2.04" ry="1.19" transform="rotate(39 675.15 380.64)" fill="#6A2A9E" stroke="#2a2a2a" stroke-width="0.45"/>
<ellipse cx="673.81" cy="382.29" rx="2.04" ry="1.19" transform="rotate(39 673.81 382.29)" fill="#6A2A9E" stroke="#2a2a2a" stroke-width="0.45"/>
<ellipse cx="673.11" cy="395.39" rx="2.04" ry="1.15" transform="rotate(90 673.11 395.39)" fill="#fff" stroke="#2a2a2a" stroke-width="0.45"/>
<ellipse cx="670.89" cy="395.39" rx="2.04" ry="1.15" transform="rotate(90 670.89 395.39)" fill="#fff" stroke="#2a2a2a" stroke-width="0.45"/>
<ellipse cx="673.11" cy="399.38" rx="2.04" ry="1.15" transform="rotate(90 673.11 399.38)" fill="#fff" stroke="#2a2a2a" stroke-width="0.45"/>
<ellipse cx="670.89" cy="399.38" rx="2.04" ry="1.15" transform="rotate(90 670.89 399.38)" fill="#fff" stroke="#2a2a2a" stroke-width="0.45"/>
<ellipse cx="668.42" cy="390.91" rx="2.12" ry="1.23" transform="rotate(221 668.42 390.91)" fill="#fff" stroke="#2a2a2a" stroke-width="0.45"/>
<ellipse cx="669.93" cy="389.18" rx="2.12" ry="1.23" transform="rotate(221 669.93 389.18)" fill="#fff" stroke="#2a2a2a" stroke-width="0.45"/>
<ellipse cx="665.59" cy="388.34" rx="2.04" ry="1.19" transform="rotate(221 665.59 388.34)" fill="#6A2A9E" stroke="#2a2a2a" stroke-width="0.45"/>
<ellipse cx="666.99" cy="386.74" rx="2.04" ry="1.19" transform="rotate(221 666.99 386.74)" fill="#6A2A9E" stroke="#2a2a2a" stroke-width="0.45"/>
<ellipse cx="674.18" cy="389.25" rx="2.12" ry="1.23" transform="rotate(321 674.18 389.25)" fill="#fff" stroke="#2a2a2a" stroke-width="0.45"/>
<ellipse cx="675.63" cy="391.04" rx="2.12" ry="1.23" transform="rotate(321 675.63 391.04)" fill="#fff" stroke="#2a2a2a" stroke-width="0.45"/>
<ellipse cx="677.21" cy="386.91" rx="2.04" ry="1.19" transform="rotate(321 677.21 386.91)" fill="#92CB55" stroke="#2a2a2a" stroke-width="0.45"/>
<ellipse cx="678.55" cy="388.56" rx="2.04" ry="1.19" transform="rotate(321 678.55 388.56)" fill="#92CB55" stroke="#2a2a2a" stroke-width="0.45"/>
<ellipse cx="655.85" cy="378.66" rx="1.61" ry="1.1" transform="rotate(25 655.85 378.66)" fill="#F5E4C6" stroke="#333" stroke-width="0.5"/>
<ellipse cx="657.71" cy="380.87" rx="1.61" ry="1.1" transform="rotate(75 657.71 380.87)" fill="#F5E4C6" stroke="#333" stroke-width="0.5"/>
<ellipse cx="659.57" cy="383.08" rx="1.61" ry="1.1" transform="rotate(25 659.57 383.08)" fill="#F5E4C6" stroke="#333" stroke-width="0.5"/>
<ellipse cx="661.42" cy="385.3" rx="1.61" ry="1.1" transform="rotate(75 661.42 385.3)" fill="#F5E4C6" stroke="#333" stroke-width="0.5"/>
<ellipse cx="663.28" cy="387.51" rx="1.61" ry="1.1" transform="rotate(25 663.28 387.51)" fill="#F5E4C6" stroke="#333" stroke-width="0.5"/>
<polyline points="664.32,388.75 665.96,389.19 666.29,391.03" fill="none" stroke="#555" stroke-width="0.4"/>
<ellipse cx="674.38" cy="380.95" rx="1.61" ry="1.1" transform="rotate(27 674.38 380.95)" fill="#F5E4C6" stroke="#333" stroke-width="0.5"/>
<ellipse cx="676.26" cy="383.36" rx="1.61" ry="1.1" transform="rotate(77 676.26 383.36)" fill="#F5E4C6" stroke="#333" stroke-width="0.5"/>
<ellipse cx="678.15" cy="385.77" rx="1.61" ry="1.1" transform="rotate(27 678.15 385.77)" fill="#F5E4C6" stroke="#333" stroke-width="0.5"/>
<ellipse cx="680.03" cy="388.18" rx="1.61" ry="1.1" transform="rotate(77 680.03 388.18)" fill="#F5E4C6" stroke="#333" stroke-width="0.5"/>
<ellipse cx="681.92" cy="390.6" rx="1.61" ry="1.1" transform="rotate(27 681.92 390.6)" fill="#F5E4C6" stroke="#333" stroke-width="0.5"/>
<polyline points="682.91,391.87 684.54,392.36 684.8,394.22" fill="none" stroke="#555" stroke-width="0.4"/>
<ellipse cx="633.88" cy="430.66" rx="2.28" ry="1.28" transform="rotate(74 633.88 430.66)" fill="#fff" stroke="#2a2a2a" stroke-width="0.45"/>
<ellipse cx="631.5" cy="431.35" rx="2.28" ry="1.28" transform="rotate(74 631.5 431.35)" fill="#fff" stroke="#2a2a2a" stroke-width="0.45"/>
<ellipse cx="635.11" cy="434.96" rx="2.28" ry="1.28" transform="rotate(74 635.11 434.96)" fill="#fff" stroke="#2a2a2a" stroke-width="0.45"/>
<ellipse cx="632.73" cy="435.64" rx="2.28" ry="1.28" transform="rotate(74 632.73 435.64)" fill="#fff" stroke="#2a2a2a" stroke-width="0.45"/>
<ellipse cx="627.49" cy="427.15" rx="2.38" ry="1.38" transform="rotate(207 627.49 427.15)" fill="#fff" stroke="#2a2a2a" stroke-width="0.45"/>
<ellipse cx="628.66" cy="424.86" rx="2.38" ry="1.38" transform="rotate(207 628.66 424.86)" fill="#fff" stroke="#2a2a2a" stroke-width="0.45"/>
<ellipse cx="623.73" cy="425.12" rx="2.28" ry="1.33" transform="rotate(207 623.73 425.12)" fill="#6A2A9E" stroke="#2a2a2a" stroke-width="0.45"/>
<ellipse cx="624.81" cy="423" rx="2.28" ry="1.33" transform="rotate(207 624.81 423)" fill="#6A2A9E" stroke="#2a2a2a" stroke-width="0.45"/>
<ellipse cx="633.15" cy="423.74" rx="2.38" ry="1.38" transform="rotate(305 633.15 423.74)" fill="#fff" stroke="#2a2a2a" stroke-width="0.45"/>
<ellipse cx="635.25" cy="425.21" rx="2.38" ry="1.38" transform="rotate(305 635.25 425.21)" fill="#fff" stroke="#2a2a2a" stroke-width="0.45"/>
<ellipse cx="635.68" cy="420.29" rx="2.28" ry="1.33" transform="rotate(305 635.68 420.29)" fill="#92CB55" stroke="#2a2a2a" stroke-width="0.45"/>
<ellipse cx="637.62" cy="421.66" rx="2.28" ry="1.33" transform="rotate(305 637.62 421.66)" fill="#92CB55" stroke="#2a2a2a" stroke-width="0.45"/>
<ellipse cx="639" cy="418.1" rx="1.8" ry="1.23" transform="rotate(151 639 418.1)" fill="#F5E4C6" stroke="#333" stroke-width="0.5"/>
<ellipse cx="635.68" cy="418.33" rx="1.8" ry="1.23" transform="rotate(201 635.68 418.33)" fill="#F5E4C6" stroke="#333" stroke-width="0.5"/>
<ellipse cx="632.37" cy="418.56" rx="1.8" ry="1.23" transform="rotate(151 632.37 418.56)" fill="#F5E4C6" stroke="#333" stroke-width="0.5"/>
<ellipse cx="629.05" cy="418.8" rx="1.8" ry="1.23" transform="rotate(201 629.05 418.8)" fill="#F5E4C6" stroke="#333" stroke-width="0.5"/>
<polyline points="627.25,418.92 625.77,420.12 623.89,419.2" fill="none" stroke="#555" stroke-width="0.4"/>
<ellipse cx="662.84" cy="427.63" rx="2.28" ry="1.28" transform="rotate(90 662.84 427.63)" fill="#fff" stroke="#2a2a2a" stroke-width="0.45"/>
<ellipse cx="660.37" cy="427.63" rx="2.28" ry="1.28" transform="rotate(90 660.37 427.63)" fill="#fff" stroke="#2a2a2a" stroke-width="0.45"/>
<ellipse cx="662.84" cy="432.09" rx="2.28" ry="1.28" transform="rotate(90 662.84 432.09)" fill="#fff" stroke="#2a2a2a" stroke-width="0.45"/>
<ellipse cx="660.37" cy="432.09" rx="2.28" ry="1.28" transform="rotate(90 660.37 432.09)" fill="#fff" stroke="#2a2a2a" stroke-width="0.45"/>
<ellipse cx="657.42" cy="423.13" rx="2.38" ry="1.38" transform="rotate(214 657.42 423.13)" fill="#fff" stroke="#2a2a2a" stroke-width="0.45"/>
<ellipse cx="658.85" cy="421" rx="2.38" ry="1.38" transform="rotate(214 658.85 421)" fill="#fff" stroke="#2a2a2a" stroke-width="0.45"/>
<ellipse cx="653.93" cy="420.66" rx="2.28" ry="1.33" transform="rotate(214 653.93 420.66)" fill="#92CB55" stroke="#2a2a2a" stroke-width="0.45"/>
<ellipse cx="655.25" cy="418.69" rx="2.28" ry="1.33" transform="rotate(214 655.25 418.69)" fill="#92CB55" stroke="#2a2a2a" stroke-width="0.45"/>
<ellipse cx="664.35" cy="421" rx="2.38" ry="1.38" transform="rotate(326 664.35 421)" fill="#fff" stroke="#2a2a2a" stroke-width="0.45"/>
<ellipse cx="665.78" cy="423.13" rx="2.38" ry="1.38" transform="rotate(326 665.78 423.13)" fill="#fff" stroke="#2a2a2a" stroke-width="0.45"/>
<ellipse cx="667.95" cy="418.69" rx="2.28" ry="1.33" transform="rotate(326 667.95 418.69)" fill="#92CB55" stroke="#2a2a2a" stroke-width="0.45"/>
<ellipse cx="669.27" cy="420.66" rx="2.28" ry="1.33" transform="rotate(326 669.27 420.66)" fill="#92CB55" stroke="#2a2a2a" stroke-width="0.45"/>
<ellipse cx="649.3" cy="419.4" rx="1.8" ry="1.23" transform="rotate(-67 649.3 419.4)" fill="#F5E4C6" stroke="#333" stroke-width="0.5"/>
<ellipse cx="651.84" cy="417.11" rx="1.8" ry="1.23" transform="rotate(-17 651.84 417.11)" fill="#F5E4C6" stroke="#333" stroke-width="0.5"/>
<ellipse cx="654.38" cy="414.82" rx="1.8" ry="1.23" transform="rotate(-67 654.38 414.82)" fill="#F5E4C6" stroke="#333" stroke-width="0.5"/>
<polyline points="655.72,413.62 656.15,411.76 658.2,411.33" fill="none" stroke="#555" stroke-width="0.4"/>
<ellipse cx="668.9" cy="415" rx="1.8" ry="1.23" transform="rotate(11 668.9 415)" fill="#F5E4C6" stroke="#333" stroke-width="0.5"/>
<ellipse cx="671.67" cy="417.01" rx="1.8" ry="1.23" transform="rotate(61 671.67 417.01)" fill="#F5E4C6" stroke="#333" stroke-width="0.5"/>
<ellipse cx="674.43" cy="419.02" rx="1.8" ry="1.23" transform="rotate(11 674.43 419.02)" fill="#F5E4C6" stroke="#333" stroke-width="0.5"/>
<polyline points="675.89,420.08 677.79,420.11 678.64,422.02" fill="none" stroke="#555" stroke-width="0.4"/>
</svg></body></html>
